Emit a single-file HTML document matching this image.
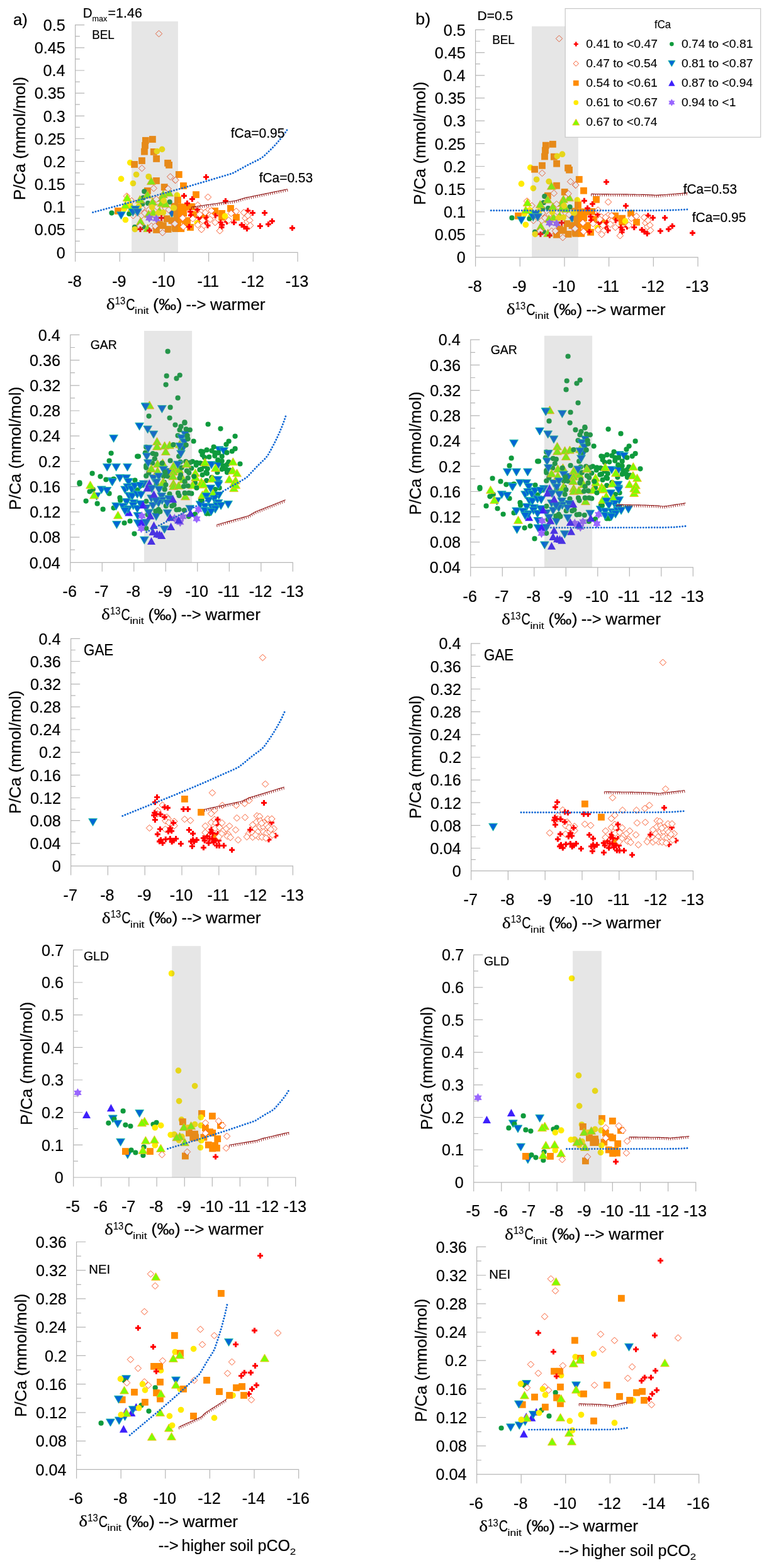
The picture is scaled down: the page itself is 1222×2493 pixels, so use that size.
<!DOCTYPE html>
<html lang="en"><head><meta charset="utf-8"><title>P/Ca versus initial δ13C for five speleothems</title>
<style>html,body{margin:0;padding:0;background:#fff}body{width:1222px;height:2493px;overflow:hidden}svg{display:block;font-family:"Liberation Sans", Arial, sans-serif;fill:#000}text{stroke:#000;stroke-width:.22px}.lg text{stroke-width:.1px}text.sm,tspan.sm{stroke-width:.12px}.p{fill:#f00}.d{fill:#fff;stroke:#f8582a;stroke-width:1px}.s{fill:#ff8c00}.y{fill:#ffeb00}.t{fill:#7fff00;stroke:#ffb81a;stroke-width:.9px}.g{fill:#0e9a3c}.b{fill:#0066d6;stroke:#22c3a0;stroke-width:.9px}.u{fill:#3d20fb}.x{fill:#96f}</style></head><body>
<svg width="1222" height="2493" viewBox="0 0 1222 2493">
<rect width="1222" height="2493" fill="#fff"/>
<g>
<g>
<circle class="y" cx="206.8" cy="258.6" r="4.85"/>
<path class="s" d="M237 216.1l10.8 0 0 10.8 -10.8 0z"/>
<path class="s" d="M226 217.9l10.8 0 0 10.8 -10.8 0z"/>
<path class="s" d="M225.1 225.9l10.8 0 0 10.8 -10.8 0z"/>
<path class="s" d="M224.1 235.7l10.8 0 0 10.8 -10.8 0z"/>
<path class="s" d="M238.9 236l10.8 0 0 10.8 -10.8 0z"/>
<path class="s" d="M243.2 247l10.8 0 0 10.8 -10.8 0z"/>
<path class="s" d="M220.1 250.1l10.8 0 0 10.8 -10.8 0z"/>
<path class="s" d="M208.2 256l10.8 0 0 10.8 -10.8 0z"/>
<path class="s" d="M261.2 253.9l10.8 0 0 10.8 -10.8 0z"/>
<path class="s" d="M263.2 257l10.8 0 0 10.8 -10.8 0z"/>
<circle class="y" cx="257.5" cy="237.4" r="4.85"/>
<circle class="y" cx="249.4" cy="240.5" r="4.85"/>
<path class="d" d="M252.5 48.4l5.2 5.2 -5.2 5.2 -5.2 -5.2z"/>
<path class="d" d="M225.5 262.3l5.2 5.2 -5.2 5.2 -5.2 -5.2z"/>
<path class="b" d="M273 346.1l6.9 -12 -13.8 0z"/>
<path class="s" d="M243.1 282l10.8 0 0 10.8 -10.8 0z"/>
<path class="s" d="M255.8 292.1l10.8 0 0 10.8 -10.8 0z"/>
<path class="s" d="M229 298l10.8 0 0 10.8 -10.8 0z"/>
<path class="s" d="M182.1 330.1l10.8 0 0 10.8 -10.8 0z"/>
<path class="s" d="M277 312.4l10.8 0 0 10.8 -10.8 0z"/>
<path class="s" d="M271.6 322.7l10.8 0 0 10.8 -10.8 0z"/>
<path class="s" d="M277.4 323.7l10.8 0 0 10.8 -10.8 0z"/>
<path class="s" d="M259.8 342.4l10.8 0 0 10.8 -10.8 0z"/>
<path class="s" d="M248 351.2l10.8 0 0 10.8 -10.8 0z"/>
<path class="s" d="M267.6 345.3l10.8 0 0 10.8 -10.8 0z"/>
<path class="s" d="M243.1 360l10.8 0 0 10.8 -10.8 0z"/>
<path class="s" d="M261.7 359.1l10.8 0 0 10.8 -10.8 0z"/>
<path class="s" d="M253.9 353.2l10.8 0 0 10.8 -10.8 0z"/>
<path class="s" d="M272.5 356.1l10.8 0 0 10.8 -10.8 0z"/>
<path class="s" d="M275.5 339.4l10.8 0 0 10.8 -10.8 0z"/>
<path class="s" d="M278.4 333.5l10.8 0 0 10.8 -10.8 0z"/>
<path class="s" d="M277.4 349.2l10.8 0 0 10.8 -10.8 0z"/>
<path class="d" d="M270.6 275.8l5.2 5.2 -5.2 5.2 -5.2 -5.2z"/>
<path class="d" d="M278.4 281.2l5.2 5.2 -5.2 5.2 -5.2 -5.2z"/>
<path class="d" d="M201.5 306.7l5.2 5.2 -5.2 5.2 -5.2 -5.2z"/>
<path class="d" d="M209.2 314.1l5.2 5.2 -5.2 5.2 -5.2 -5.2z"/>
<path class="d" d="M225.9 325.9l5.2 5.2 -5.2 5.2 -5.2 -5.2z"/>
<path class="d" d="M236.7 328.3l5.2 5.2 -5.2 5.2 -5.2 -5.2z"/>
<path class="d" d="M249.5 323.9l5.2 5.2 -5.2 5.2 -5.2 -5.2z"/>
<path class="d" d="M263.2 325.9l5.2 5.2 -5.2 5.2 -5.2 -5.2z"/>
<path class="d" d="M268.1 328.3l5.2 5.2 -5.2 5.2 -5.2 -5.2z"/>
<path class="d" d="M211.6 337.6l5.2 5.2 -5.2 5.2 -5.2 -5.2z"/>
<path class="d" d="M224.9 337.6l5.2 5.2 -5.2 5.2 -5.2 -5.2z"/>
<path class="d" d="M229.8 333.7l5.2 5.2 -5.2 5.2 -5.2 -5.2z"/>
<circle class="g" cx="229.3" cy="304.4" r="4.1"/>
<circle class="g" cx="227.8" cy="314.4" r="4.1"/>
<circle class="g" cx="226.4" cy="324.2" r="4.1"/>
<circle class="g" cx="235.2" cy="323.2" r="4.1"/>
<circle class="g" cx="269.6" cy="321.2" r="4.1"/>
<circle class="g" cx="177.5" cy="338.6" r="4.1"/>
<circle class="g" cx="205.3" cy="339.9" r="4.1"/>
<circle class="g" cx="227.8" cy="360.5" r="4.1"/>
<circle class="g" cx="214.1" cy="361" r="4.1"/>
<circle class="y" cx="192.5" cy="284.4" r="4.85"/>
<circle class="y" cx="211.4" cy="291.5" r="4.85"/>
<circle class="y" cx="216.6" cy="277.5" r="4.85"/>
<circle class="y" cx="236.2" cy="280.8" r="4.85"/>
<circle class="y" cx="281.4" cy="310.4" r="4.85"/>
<circle class="y" cx="220.5" cy="328.1" r="4.85"/>
<circle class="y" cx="197.4" cy="332" r="4.85"/>
<circle class="y" cx="205.8" cy="326.2" r="4.85"/>
<circle class="y" cx="199.4" cy="349.5" r="4.85"/>
<path class="t" d="M240.4 281.4l6.9 12 -13.8 0z"/>
<path class="t" d="M202.1 307.9l6.9 12 -13.8 0z"/>
<path class="t" d="M268.6 300l6.9 12 -13.8 0z"/>
<path class="t" d="M234.4 303l6.9 12 -13.8 0z"/>
<path class="t" d="M259.3 302.5l6.9 12 -13.8 0z"/>
<path class="t" d="M222.4 310.8l6.9 12 -13.8 0z"/>
<path class="t" d="M256.8 308.4l6.9 12 -13.8 0z"/>
<path class="t" d="M242.6 314.3l6.9 12 -13.8 0z"/>
<path class="t" d="M199.4 319.7l6.9 12 -13.8 0z"/>
<path class="t" d="M256.8 316.2l6.9 12 -13.8 0z"/>
<path class="t" d="M263.2 317.7l6.9 12 -13.8 0z"/>
<path class="t" d="M209.7 324.1l6.9 12 -13.8 0z"/>
<path class="t" d="M243.6 331l6.9 12 -13.8 0z"/>
<path class="t" d="M236.2 333.9l6.9 12 -13.8 0z"/>
<path class="t" d="M253.4 329l6.9 12 -13.8 0z"/>
<path class="d" d="M244.3 294.2l5.2 5.2 -5.2 5.2 -5.2 -5.2z"/>
<path class="d" d="M267.1 294.9l5.2 5.2 -5.2 5.2 -5.2 -5.2z"/>
<path class="d" d="M248.5 311.6l5.2 5.2 -5.2 5.2 -5.2 -5.2z"/>
<circle class="y" cx="260.3" cy="319.3" r="4.85"/>
<circle class="y" cx="241.6" cy="329.6" r="4.85"/>
<circle class="y" cx="275.5" cy="330.6" r="4.85"/>
<circle class="y" cx="251.4" cy="338.9" r="4.85"/>
<circle class="y" cx="259.3" cy="337.9" r="4.85"/>
<path class="b" d="M215.1 339.5l6.9 -12 -13.8 0z"/>
<path class="b" d="M192.5 348.8l6.9 -12 -13.8 0z"/>
<path class="b" d="M211.2 343.9l6.9 -12 -13.8 0z"/>
<path class="b" d="M218.5 343.9l6.9 -12 -13.8 0z"/>
<path class="t" d="M223.4 345.7l6.9 12 -13.8 0z"/>
<path class="t" d="M234.7 356.5l6.9 12 -13.8 0z"/>
<circle class="y" cx="214.4" cy="364.5" r="4.85"/>
<path class="d" d="M222.4 354.3l5.2 5.2 -5.2 5.2 -5.2 -5.2z"/>
<path class="d" d="M240.6 354.3l5.2 5.2 -5.2 5.2 -5.2 -5.2z"/>
<path class="d" d="M246.5 354.3l5.2 5.2 -5.2 5.2 -5.2 -5.2z"/>
<path class="d" d="M258.3 364.7l5.2 5.2 -5.2 5.2 -5.2 -5.2z"/>
<path class="d" d="M277 351.4l5.2 5.2 -5.2 5.2 -5.2 -5.2z"/>
<path class="x" d="M237.2 339.6l2.1 3.6 4.1 0 -2 3.6 2 3.6 -4.1 0 -2.1 3.6 -2.1 -3.6 -4.1 0 2 -3.6 -2 -3.6 4.1 0z"/>
<path class="x" d="M248.5 340.6l2.1 3.6 4.1 0 -2 3.6 2 3.6 -4.1 0 -2.1 3.6 -2.1 -3.6 -4.1 0 2 -3.6 -2 -3.6 4.1 0z"/>
<path class="p" d="M255 342.1l3.1 0 0 2.85 2.85 0 0 3.1 -2.85 0 0 2.85 -3.1 0 0 -2.85 -2.85 0 0 -3.1 2.85 0z"/>
<path class="p" d="M221.4 360.1l3.1 0 0 2.85 2.85 0 0 3.1 -2.85 0 0 2.85 -3.1 0 0 -2.85 -2.85 0 0 -3.1 2.85 0z"/>
<path class="p" d="M235.9 362l3.1 0 0 2.85 2.85 0 0 3.1 -2.85 0 0 2.85 -3.1 0 0 -2.85 -2.85 0 0 -3.1 2.85 0z"/>
<circle class="y" cx="281.7" cy="311.4" r="4.85"/>
<path class="s" d="M278.9 272.1l10.8 0 0 10.8 -10.8 0z"/>
<path class="s" d="M286.1 290l10.8 0 0 10.8 -10.8 0z"/>
<path class="s" d="M306.1 304.1l10.8 0 0 10.8 -10.8 0z"/>
<path class="s" d="M277 312.9l10.8 0 0 10.8 -10.8 0z"/>
<path class="s" d="M336.2 330.1l10.8 0 0 10.8 -10.8 0z"/>
<path class="s" d="M347.2 334l10.8 0 0 10.8 -10.8 0z"/>
<path class="s" d="M347.2 339.9l10.8 0 0 10.8 -10.8 0z"/>
<path class="s" d="M361.1 326l10.8 0 0 10.8 -10.8 0z"/>
<path class="s" d="M370.1 340.1l10.8 0 0 10.8 -10.8 0z"/>
<path class="s" d="M299.1 323.2l10.8 0 0 10.8 -10.8 0z"/>
<path class="s" d="M289.2 323.7l10.8 0 0 10.8 -10.8 0z"/>
<path class="s" d="M279.4 323.7l10.8 0 0 10.8 -10.8 0z"/>
<path class="s" d="M275.5 333.5l10.8 0 0 10.8 -10.8 0z"/>
<path class="s" d="M286.3 333.5l10.8 0 0 10.8 -10.8 0z"/>
<path class="s" d="M302 335.5l10.8 0 0 10.8 -10.8 0z"/>
<path class="s" d="M281.4 343.3l10.8 0 0 10.8 -10.8 0z"/>
<path class="s" d="M292.2 345.3l10.8 0 0 10.8 -10.8 0z"/>
<path class="s" d="M297.1 356.1l10.8 0 0 10.8 -10.8 0z"/>
<path class="s" d="M282.4 358.1l10.8 0 0 10.8 -10.8 0z"/>
<path class="s" d="M273.5 358.1l10.8 0 0 10.8 -10.8 0z"/>
<path class="s" d="M289.2 351.2l10.8 0 0 10.8 -10.8 0z"/>
<path class="s" d="M318.7 339.4l10.8 0 0 10.8 -10.8 0z"/>
<circle class="y" cx="357.5" cy="343.6" r="4.85"/>
<circle class="y" cx="313.3" cy="354.6" r="4.85"/>
<circle class="y" cx="276.5" cy="330.6" r="4.85"/>
<path class="p" d="M326 277.1l3.1 0 0 2.85 2.85 0 0 3.1 -2.85 0 0 2.85 -3.1 0 0 -2.85 -2.85 0 0 -3.1 2.85 0z"/>
<path class="p" d="M290.9 307l3.1 0 0 2.85 2.85 0 0 3.1 -2.85 0 0 2.85 -3.1 0 0 -2.85 -2.85 0 0 -3.1 2.85 0z"/>
<path class="p" d="M303.9 312.1l3.1 0 0 2.85 2.85 0 0 3.1 -2.85 0 0 2.85 -3.1 0 0 -2.85 -2.85 0 0 -3.1 2.85 0z"/>
<path class="p" d="M356.9 315.1l3.1 0 0 2.85 2.85 0 0 3.1 -2.85 0 0 2.85 -3.1 0 0 -2.85 -2.85 0 0 -3.1 2.85 0z"/>
<path class="p" d="M296 318.8l3.1 0 0 2.85 2.85 0 0 3.1 -2.85 0 0 2.85 -3.1 0 0 -2.85 -2.85 0 0 -3.1 2.85 0z"/>
<path class="p" d="M300.9 332.1l3.1 0 0 2.85 2.85 0 0 3.1 -2.85 0 0 2.85 -3.1 0 0 -2.85 -2.85 0 0 -3.1 2.85 0z"/>
<path class="p" d="M301.9 338l3.1 0 0 2.85 2.85 0 0 3.1 -2.85 0 0 2.85 -3.1 0 0 -2.85 -2.85 0 0 -3.1 2.85 0z"/>
<path class="p" d="M312.2 329.1l3.1 0 0 2.85 2.85 0 0 3.1 -2.85 0 0 2.85 -3.1 0 0 -2.85 -2.85 0 0 -3.1 2.85 0z"/>
<path class="p" d="M314.7 341.4l3.1 0 0 2.85 2.85 0 0 3.1 -2.85 0 0 2.85 -3.1 0 0 -2.85 -2.85 0 0 -3.1 2.85 0z"/>
<path class="p" d="M316.7 344.3l3.1 0 0 2.85 2.85 0 0 3.1 -2.85 0 0 2.85 -3.1 0 0 -2.85 -2.85 0 0 -3.1 2.85 0z"/>
<path class="p" d="M327 341.9l3.1 0 0 2.85 2.85 0 0 3.1 -2.85 0 0 2.85 -3.1 0 0 -2.85 -2.85 0 0 -3.1 2.85 0z"/>
<path class="p" d="M324.5 348.3l3.1 0 0 2.85 2.85 0 0 3.1 -2.85 0 0 2.85 -3.1 0 0 -2.85 -2.85 0 0 -3.1 2.85 0z"/>
<path class="p" d="M328.4 354.2l3.1 0 0 2.85 2.85 0 0 3.1 -2.85 0 0 2.85 -3.1 0 0 -2.85 -2.85 0 0 -3.1 2.85 0z"/>
<path class="p" d="M299 356.1l3.1 0 0 2.85 2.85 0 0 3.1 -2.85 0 0 2.85 -3.1 0 0 -2.85 -2.85 0 0 -3.1 2.85 0z"/>
<path class="p" d="M340.7 338.4l3.1 0 0 2.85 2.85 0 0 3.1 -2.85 0 0 2.85 -3.1 0 0 -2.85 -2.85 0 0 -3.1 2.85 0z"/>
<path class="p" d="M349.1 349.3l3.1 0 0 2.85 2.85 0 0 3.1 -2.85 0 0 2.85 -3.1 0 0 -2.85 -2.85 0 0 -3.1 2.85 0z"/>
<path class="p" d="M351 353.2l3.1 0 0 2.85 2.85 0 0 3.1 -2.85 0 0 2.85 -3.1 0 0 -2.85 -2.85 0 0 -3.1 2.85 0z"/>
<path class="p" d="M350.5 357.1l3.1 0 0 2.85 2.85 0 0 3.1 -2.85 0 0 2.85 -3.1 0 0 -2.85 -2.85 0 0 -3.1 2.85 0z"/>
<path class="p" d="M358.9 348.3l3.1 0 0 2.85 2.85 0 0 3.1 -2.85 0 0 2.85 -3.1 0 0 -2.85 -2.85 0 0 -3.1 2.85 0z"/>
<path class="p" d="M370.2 349.3l3.1 0 0 2.85 2.85 0 0 3.1 -2.85 0 0 2.85 -3.1 0 0 -2.85 -2.85 0 0 -3.1 2.85 0z"/>
<path class="p" d="M382.5 353.2l3.1 0 0 2.85 2.85 0 0 3.1 -2.85 0 0 2.85 -3.1 0 0 -2.85 -2.85 0 0 -3.1 2.85 0z"/>
<path class="p" d="M386.4 356.1l3.1 0 0 2.85 2.85 0 0 3.1 -2.85 0 0 2.85 -3.1 0 0 -2.85 -2.85 0 0 -3.1 2.85 0z"/>
<path class="p" d="M390.8 359.1l3.1 0 0 2.85 2.85 0 0 3.1 -2.85 0 0 2.85 -3.1 0 0 -2.85 -2.85 0 0 -3.1 2.85 0z"/>
<path class="p" d="M392.3 330.6l3.1 0 0 2.85 2.85 0 0 3.1 -2.85 0 0 2.85 -3.1 0 0 -2.85 -2.85 0 0 -3.1 2.85 0z"/>
<path class="d" d="M278.9 281.2l5.2 5.2 -5.2 5.2 -5.2 -5.2z"/>
<path class="d" d="M330.5 308.2l5.2 5.2 -5.2 5.2 -5.2 -5.2z"/>
<path class="d" d="M314.3 321l5.2 5.2 -5.2 5.2 -5.2 -5.2z"/>
<path class="d" d="M319.7 331.8l5.2 5.2 -5.2 5.2 -5.2 -5.2z"/>
<path class="d" d="M330.5 329.3l5.2 5.2 -5.2 5.2 -5.2 -5.2z"/>
<path class="d" d="M335.9 329.8l5.2 5.2 -5.2 5.2 -5.2 -5.2z"/>
<path class="d" d="M326.1 332.7l5.2 5.2 -5.2 5.2 -5.2 -5.2z"/>
<path class="d" d="M290.2 341.3l5.2 5.2 -5.2 5.2 -5.2 -5.2z"/>
<path class="d" d="M306.4 342.6l5.2 5.2 -5.2 5.2 -5.2 -5.2z"/>
<path class="d" d="M317.2 335.7l5.2 5.2 -5.2 5.2 -5.2 -5.2z"/>
<path class="d" d="M335.9 338.6l5.2 5.2 -5.2 5.2 -5.2 -5.2z"/>
<path class="d" d="M375.4 330.8l5.2 5.2 -5.2 5.2 -5.2 -5.2z"/>
<path class="d" d="M367.3 334.2l5.2 5.2 -5.2 5.2 -5.2 -5.2z"/>
<path class="d" d="M387.4 332.7l5.2 5.2 -5.2 5.2 -5.2 -5.2z"/>
<path class="d" d="M389.9 341.6l5.2 5.2 -5.2 5.2 -5.2 -5.2z"/>
<path class="d" d="M363.4 345l5.2 5.2 -5.2 5.2 -5.2 -5.2z"/>
<path class="d" d="M341.8 348.5l5.2 5.2 -5.2 5.2 -5.2 -5.2z"/>
<path class="d" d="M322.1 345.5l5.2 5.2 -5.2 5.2 -5.2 -5.2z"/>
<path class="d" d="M333.9 343.5l5.2 5.2 -5.2 5.2 -5.2 -5.2z"/>
<path class="d" d="M314.3 352.4l5.2 5.2 -5.2 5.2 -5.2 -5.2z"/>
<path class="d" d="M323.1 354.3l5.2 5.2 -5.2 5.2 -5.2 -5.2z"/>
<path class="d" d="M320.2 359.7l5.2 5.2 -5.2 5.2 -5.2 -5.2z"/>
<path class="d" d="M349.3 361.7l5.2 5.2 -5.2 5.2 -5.2 -5.2z"/>
<path class="d" d="M291.2 355.3l5.2 5.2 -5.2 5.2 -5.2 -5.2z"/>
<path class="d" d="M277.9 350.4l5.2 5.2 -5.2 5.2 -5.2 -5.2z"/>
<path class="d" d="M392.8 347.5l5.2 5.2 -5.2 5.2 -5.2 -5.2z"/>
<path class="d" d="M393.8 337.6l5.2 5.2 -5.2 5.2 -5.2 -5.2z"/>
<path class="p" d="M399.9 334.1l3.1 0 0 2.85 2.85 0 0 3.1 -2.85 0 0 2.85 -3.1 0 0 -2.85 -2.85 0 0 -3.1 2.85 0z"/>
<path class="p" d="M419 334.1l3.1 0 0 2.85 2.85 0 0 3.1 -2.85 0 0 2.85 -3.1 0 0 -2.85 -2.85 0 0 -3.1 2.85 0z"/>
<path class="p" d="M430.8 347.2l3.1 0 0 2.85 2.85 0 0 3.1 -2.85 0 0 2.85 -3.1 0 0 -2.85 -2.85 0 0 -3.1 2.85 0z"/>
<path class="p" d="M424.9 352.2l3.1 0 0 2.85 2.85 0 0 3.1 -2.85 0 0 2.85 -3.1 0 0 -2.85 -2.85 0 0 -3.1 2.85 0z"/>
<path class="p" d="M411.8 355.1l3.1 0 0 2.85 2.85 0 0 3.1 -2.85 0 0 2.85 -3.1 0 0 -2.85 -2.85 0 0 -3.1 2.85 0z"/>
<path class="p" d="M462.9 358.2l3.1 0 0 2.85 2.85 0 0 3.1 -2.85 0 0 2.85 -3.1 0 0 -2.85 -2.85 0 0 -3.1 2.85 0z"/>
<path class="d" d="M396.8 345.1l5.2 5.2 -5.2 5.2 -5.2 -5.2z"/>
<path class="d" d="M397.6 353.3l5.2 5.2 -5.2 5.2 -5.2 -5.2z"/>
</g>
<polyline fill="none" stroke="#8c1414" stroke-width="1.1" points="304,329.3 307,328.8 309.9,328.4 312.9,328 315.9,327.5 318.8,327.1 321.8,326.7 324.8,326.2 327.8,325.8 330.7,325.4 333.7,325 336.7,324.5 339.6,324.1 342.6,323.7 345.6,323.2 348.5,322.8 351.5,322.4 354.5,321.9 357.4,321.5 360.4,321.1 363.4,320.7 366.4,320.2 369.3,319.8 372.3,319.4 375.2,318.9 378.1,318 381,317.1 383.9,316.2 386.7,315.4 389.6,314.5 392.5,313.9 395.5,313.3 398.4,312.7 401.4,312.1 404.3,311.5 407.2,310.9 410.2,310.3 413.1,309.7 416,309.1 419,308.5 421.9,307.9 424.9,307.3 427.8,306.7 430.7,306.1 433.7,305.5 436.6,304.9 439.6,304.3 442.5,303.7 445.4,303.1 448.4,302.5 451.3,301.9 454.3,301.3 456.7,300.8"/>
<path fill="none" stroke="#9c2323" stroke-width="1" d="M304 329.3l0.5 3.7M307.4 328.8l0.5 3.7M310.8 328.3l0.5 3.7M314.2 327.8l0.5 3.7M317.7 327.3l0.5 3.7M321.1 326.8l0.5 3.7M324.5 326.3l0.5 3.7M327.9 325.8l0.5 3.7M331.3 325.3l0.5 3.7M334.7 324.8l0.5 3.7M338.1 324.3l0.5 3.7M341.6 323.8l0.5 3.7M345 323.3l0.5 3.7M348.4 322.8l0.5 3.7M351.8 322.3l0.5 3.7M355.2 321.8l0.5 3.7M358.6 321.3l0.5 3.7M362 320.8l0.5 3.7M365.5 320.3l0.5 3.7M368.9 319.9l0.5 3.7M372.3 319.4l0.5 3.7M375.7 318.7l0.5 3.7M379 317.7l0.5 3.7M382.3 316.7l0.5 3.7M385.6 315.7l0.5 3.7M388.9 314.7l0.5 3.7M392.2 314l0.5 3.7M395.6 313.3l0.5 3.7M399 312.6l0.5 3.7M402.4 311.9l0.5 3.7M405.8 311.2l0.5 3.7M409.1 310.5l0.5 3.7M412.5 309.8l0.5 3.7M415.9 309.1l0.5 3.7M419.3 308.4l0.5 3.7M422.7 307.7l0.5 3.7M426 307l0.5 3.7M429.4 306.4l0.5 3.7M432.8 305.7l0.5 3.7M436.2 305l0.5 3.7M439.6 304.3l0.5 3.7M442.9 303.6l0.5 3.7M446.3 302.9l0.5 3.7M449.7 302.2l0.5 3.7M453.1 301.5l0.5 3.7M456.5 300.8l0.5 3.7"/>
<polyline fill="none" stroke="#0b66d4" stroke-width="2.9" stroke-linecap="round" stroke-dasharray="0.1 4.35" points="147.6,337.7 152.1,336.4 158.3,334.8 165.6,332.8 173.7,330.6 182,328.4 190.2,326.2 197.9,324.1 204.4,322.4 210,320.9 215,319.6 219.7,318.3 224.1,317.2 228.4,316 232.7,314.9 237.1,313.7 241.9,312.4 247,311 252.4,309.5 258,308 263.6,306.4 269.1,304.9 274.3,303.4 279.2,302 283.6,300.8 287.3,299.8 290.6,298.9 293.4,298.1 296,297.3 298.5,296.6 301.1,295.9 303.9,295.1 307,294.2 310.4,293.2 313.9,292.1 317.6,291 321.4,289.9 325.2,288.8 329.1,287.7 332.9,286.5 336.6,285.4 340.4,284.3 344.4,283.1 348.5,281.9 352.6,280.7 356.5,279.5 360.1,278.4 363.3,277.4 366,276.6 368,275.9 369.4,275.4 370.3,275.1 371,274.8 371.6,274.5 372.3,274 373.4,273.5 374.9,272.7 376.9,271.6 379.2,270.3 381.8,268.9 384.5,267.4 387.3,265.9 390.1,264.3 392.9,262.8 395.5,261.5 398,260.2 400.6,258.9 403.2,257.6 405.7,256.4 408.2,255.2 410.5,254 412.7,252.8 414.7,251.6 416.4,250.5 417.9,249.4 419.1,248.3 420.3,247.3 421.4,246.2 422.5,245.1 423.7,244 425,242.7 426.4,241.4 427.9,240 429.3,238.6 430.8,237.1 432.3,235.6 433.8,234.1 435.3,232.5 436.8,230.9 438.3,229.3 439.8,227.6 441.4,225.9 442.9,224.1 444.4,222.4 445.8,220.6 447.3,218.9 448.6,217.2 450,215.4 451.3,213.6 452.7,211.7 453.9,209.8 455.1,208.1 456.2,206.5 457.1,205.2 457.8,204.2"/>
<rect x="209.1" y="34" width="73.8" height="367.4" fill="#808080" fill-opacity="0.2"/>
<path d="M119.6 39V415.9M119 401.4H473.6M119.6 383.3h7.3M119.6 365.2h14.6M119.6 347.1h7.3M119.6 329h14.6M119.6 310.9h7.3M119.6 292.9h14.6M119.6 274.8h7.3M119.6 256.7h14.6M119.6 238.6h7.3M119.6 220.5h14.6M119.6 202.4h7.3M119.6 184.3h14.6M119.6 166.2h7.3M119.6 148.1h14.6M119.6 130.1h7.3M119.6 112h14.6M119.6 93.9h7.3M119.6 75.8h14.6M119.6 57.7h7.3M119.6 39.6h14.6M190.3 401.4v14.5M261 401.4v14.5M331.6 401.4v14.5M402.3 401.4v14.5M473 401.4v14.5" fill="none" stroke="#b6b6b6" stroke-width="1.2"/>
<g>
<text x="89.7" y="410.6" font-size="26.0" textLength="14" lengthAdjust="spacingAndGlyphs">0</text>
<text x="54.8" y="374.4" font-size="26.0" textLength="49.1" lengthAdjust="spacingAndGlyphs">0.05</text>
<text x="68.9" y="338.2" font-size="26.0" textLength="35.1" lengthAdjust="spacingAndGlyphs">0.1</text>
<text x="54.8" y="302.1" font-size="26.0" textLength="49.1" lengthAdjust="spacingAndGlyphs">0.15</text>
<text x="69" y="265.9" font-size="26.0" textLength="35.1" lengthAdjust="spacingAndGlyphs">0.2</text>
<text x="54.8" y="229.7" font-size="26.0" textLength="49.1" lengthAdjust="spacingAndGlyphs">0.25</text>
<text x="68.8" y="193.5" font-size="26.0" textLength="35.1" lengthAdjust="spacingAndGlyphs">0.3</text>
<text x="54.8" y="157.3" font-size="26.0" textLength="49.1" lengthAdjust="spacingAndGlyphs">0.35</text>
<text x="68.5" y="121.2" font-size="26.0" textLength="35.1" lengthAdjust="spacingAndGlyphs">0.4</text>
<text x="54.8" y="85" font-size="26.0" textLength="49.1" lengthAdjust="spacingAndGlyphs">0.45</text>
<text x="68.8" y="48.8" font-size="26.0" textLength="35.1" lengthAdjust="spacingAndGlyphs">0.5</text>
<text x="107.4" y="456" font-size="26.0" textLength="22.4" lengthAdjust="spacingAndGlyphs">-8</text>
<text x="178.2" y="456" font-size="26.0" textLength="22.4" lengthAdjust="spacingAndGlyphs">-9</text>
<text x="241.7" y="456" font-size="26.0" textLength="36.5" lengthAdjust="spacingAndGlyphs">-10</text>
<text x="313.5" y="456" font-size="26.0" textLength="34.6" lengthAdjust="spacingAndGlyphs">-11</text>
<text x="383.3" y="456" font-size="26.0" textLength="36.5" lengthAdjust="spacingAndGlyphs">-12</text>
<text x="453.8" y="456" font-size="26.0" textLength="36.5" lengthAdjust="spacingAndGlyphs">-13</text>
</g>
<text transform="translate(39.6 219.9) rotate(-90)" x="-98.3" font-size="26.0" textLength="196.2" lengthAdjust="spacingAndGlyphs">P/Ca (mmol/mol)</text>
<text><tspan x="168.7" y="492.4" font-size="26.2" textLength="13.9" lengthAdjust="spacingAndGlyphs" font-family='"Liberation Serif", "DejaVu Serif", serif'>δ</tspan><tspan x="182.7" y="483.9" font-size="15.7" textLength="16.4" lengthAdjust="spacingAndGlyphs" class="sm">13</tspan><tspan x="200.2" y="492.7" font-size="26.0" textLength="14.3" lengthAdjust="spacingAndGlyphs">C</tspan><tspan x="214.1" y="499.3" font-size="15.3" textLength="22.3" lengthAdjust="spacingAndGlyphs" class="sm">init</tspan><tspan x="235.3" y="492.7" font-size="26.0" textLength="54.2" lengthAdjust="spacingAndGlyphs"> (‰)</tspan><tspan x="288.3" y="492.7" font-size="26.0" textLength="39" lengthAdjust="spacingAndGlyphs"> --&gt;</tspan><tspan x="326.7" y="492.7" font-size="26.0" textLength="94.9" lengthAdjust="spacingAndGlyphs"> warmer</tspan></text>
<text x="146.3" y="62.2" font-size="21.0" textLength="35.5" lengthAdjust="spacingAndGlyphs">BEL</text>
</g>
<g>
<g>
<circle class="g" cx="266.6" cy="558.7" r="4.1"/>
<circle class="g" cx="264.7" cy="597.7" r="4.1"/>
<circle class="g" cx="285.7" cy="596.5" r="4.1"/>
<circle class="g" cx="280.5" cy="601.7" r="4.1"/>
<circle class="g" cx="263.6" cy="611.6" r="4.1"/>
<circle class="g" cx="282.6" cy="632.7" r="4.1"/>
<circle class="g" cx="270.6" cy="647.7" r="4.1"/>
<circle class="g" cx="236.6" cy="661.6" r="4.1"/>
<circle class="g" cx="269.6" cy="664.5" r="4.1"/>
<circle class="g" cx="293.4" cy="671.4" r="4.1"/>
<path class="t" d="M237.6 638l6.9 12 -13.8 0z"/>
<path class="b" d="M231.5 652.7l6.9 -12 -13.8 0z"/>
<path class="b" d="M257.4 656.6l6.9 -12 -13.8 0z"/>
<path class="t" d="M237.5 637.7l6.9 12 -13.8 0z"/>
<path class="b" d="M231.2 653.1l6.9 -12 -13.8 0z"/>
<path class="b" d="M177.3 771.3l6.9 -12 -13.8 0z"/>
<circle class="g" cx="176.6" cy="720.6" r="4.1"/>
<circle class="g" cx="173.6" cy="732.6" r="4.1"/>
<circle class="g" cx="218.2" cy="725.6" r="4.1"/>
<circle class="g" cx="146.6" cy="752.7" r="4.1"/>
<circle class="g" cx="159.5" cy="757.6" r="4.1"/>
<circle class="g" cx="168.4" cy="762.5" r="4.1"/>
<circle class="g" cx="180.6" cy="761.7" r="4.1"/>
<circle class="g" cx="214.5" cy="763.5" r="4.1"/>
<circle class="g" cx="126.5" cy="767.4" r="4.1"/>
<path class="b" d="M180.6 703.4l6.9 -12 -13.8 0z"/>
<path class="b" d="M170.3 749.2l6.9 -12 -13.8 0z"/>
<path class="b" d="M184.6 749.2l6.9 -12 -13.8 0z"/>
<path class="b" d="M202.5 749.2l6.9 -12 -13.8 0z"/>
<path class="b" d="M190.4 766.4l6.9 -12 -13.8 0z"/>
<path class="b" d="M200.6 766.8l6.9 -12 -13.8 0z"/>
<path class="b" d="M204.3 772.6l6.9 -12 -13.8 0z"/>
<path class="t" d="M285.5 700l6.9 12 -13.8 0z"/>
<path class="t" d="M258.5 729.5l6.9 12 -13.8 0z"/>
<path class="t" d="M277.3 740.1l6.9 12 -13.8 0z"/>
<path class="t" d="M284.6 740.1l6.9 12 -13.8 0z"/>
<path class="t" d="M291.2 755.7l6.9 12 -13.8 0z"/>
<path class="b" d="M294.1 697.3l6.9 -12 -13.8 0z"/>
<path class="b" d="M291.2 718.6l6.9 -12 -13.8 0z"/>
<path class="b" d="M267.5 756.6l6.9 -12 -13.8 0z"/>
<path class="b" d="M243.7 766.8l6.9 -12 -13.8 0z"/>
<circle class="g" cx="278.5" cy="675.6" r="4.1"/>
<circle class="g" cx="293.5" cy="672.5" r="4.1"/>
<circle class="g" cx="287.5" cy="678.2" r="4.1"/>
<circle class="g" cx="285.5" cy="683.5" r="4.1"/>
<circle class="g" cx="295.7" cy="682.3" r="4.1"/>
<circle class="g" cx="301.8" cy="683.5" r="4.1"/>
<circle class="g" cx="282.6" cy="692.5" r="4.1"/>
<circle class="g" cx="307.6" cy="701.5" r="4.1"/>
<circle class="g" cx="286.7" cy="713.4" r="4.1"/>
<circle class="g" cx="319.4" cy="717.5" r="4.1"/>
<circle class="g" cx="231" cy="719.9" r="4.1"/>
<circle class="g" cx="232.3" cy="710.9" r="4.1"/>
<circle class="g" cx="220" cy="725.6" r="4.1"/>
<circle class="g" cx="284.2" cy="725.6" r="4.1"/>
<circle class="g" cx="286.7" cy="734.6" r="4.1"/>
<circle class="g" cx="242.1" cy="736.3" r="4.1"/>
<circle class="g" cx="232.3" cy="740.4" r="4.1"/>
<circle class="g" cx="232.3" cy="743.6" r="4.1"/>
<circle class="g" cx="236.4" cy="751.4" r="4.1"/>
<circle class="g" cx="232.3" cy="756.7" r="4.1"/>
<circle class="g" cx="260.1" cy="757.2" r="4.1"/>
<circle class="g" cx="266.6" cy="757.2" r="4.1"/>
<circle class="g" cx="288.7" cy="743.6" r="4.1"/>
<circle class="g" cx="287.1" cy="755.1" r="4.1"/>
<circle class="g" cx="285.5" cy="760" r="4.1"/>
<circle class="g" cx="305.9" cy="733.8" r="4.1"/>
<circle class="g" cx="312.5" cy="735.5" r="4.1"/>
<circle class="g" cx="318.2" cy="736.3" r="4.1"/>
<circle class="g" cx="295.3" cy="733.8" r="4.1"/>
<circle class="g" cx="301.8" cy="735.5" r="4.1"/>
<circle class="g" cx="311.7" cy="739.6" r="4.1"/>
<circle class="g" cx="304.3" cy="744.5" r="4.1"/>
<circle class="g" cx="296.9" cy="748.6" r="4.1"/>
<circle class="g" cx="300.2" cy="751.8" r="4.1"/>
<circle class="g" cx="298.6" cy="760" r="4.1"/>
<circle class="g" cx="317.4" cy="746.9" r="4.1"/>
<circle class="g" cx="260.9" cy="766.6" r="4.1"/>
<circle class="g" cx="248.6" cy="769" r="4.1"/>
<circle class="g" cx="293.6" cy="765.7" r="4.1"/>
<circle class="g" cx="310" cy="767.4" r="4.1"/>
<path class="t" d="M249.5 695.5l6.9 12 -13.8 0z"/>
<path class="t" d="M249.5 703.3l6.9 12 -13.8 0z"/>
<path class="t" d="M261.6 702.1l6.9 12 -13.8 0z"/>
<path class="t" d="M269.5 701.2l6.9 12 -13.8 0z"/>
<path class="t" d="M263.4 711.5l6.9 12 -13.8 0z"/>
<path class="t" d="M250.4 731.1l6.9 12 -13.8 0z"/>
<path class="t" d="M296.5 731.1l6.9 12 -13.8 0z"/>
<path class="t" d="M240.5 738.5l6.9 12 -13.8 0z"/>
<path class="t" d="M250.4 742.6l6.9 12 -13.8 0z"/>
<path class="t" d="M275.6 734.4l6.9 12 -13.8 0z"/>
<path class="t" d="M275.6 743.4l6.9 12 -13.8 0z"/>
<path class="t" d="M274.8 750.7l6.9 12 -13.8 0z"/>
<path class="t" d="M310.4 745.4l6.9 12 -13.8 0z"/>
<path class="t" d="M310.8 752.4l6.9 12 -13.8 0z"/>
<path class="t" d="M275.6 762.2l6.9 12 -13.8 0z"/>
<path class="t" d="M259.3 759.7l6.9 12 -13.8 0z"/>
<path class="b" d="M221.6 684.2l6.9 -12 -13.8 0z"/>
<path class="b" d="M234.7 689.1l6.9 -12 -13.8 0z"/>
<path class="b" d="M244 697.1l6.9 -12 -13.8 0z"/>
<path class="b" d="M235.4 719.8l6.9 -12 -13.8 0z"/>
<path class="b" d="M233.3 732.1l6.9 -12 -13.8 0z"/>
<path class="b" d="M235.4 742.7l6.9 -12 -13.8 0z"/>
<path class="b" d="M288.3 703l6.9 -12 -13.8 0z"/>
<path class="b" d="M292.8 709.6l6.9 -12 -13.8 0z"/>
<path class="b" d="M285.9 716.1l6.9 -12 -13.8 0z"/>
<path class="b" d="M287.5 728l6.9 -12 -13.8 0z"/>
<path class="b" d="M282.6 745.1l6.9 -12 -13.8 0z"/>
<path class="b" d="M259.7 753.3l6.9 -12 -13.8 0z"/>
<path class="b" d="M252.3 764l6.9 -12 -13.8 0z"/>
<path class="b" d="M248.6 773.4l6.9 -12 -13.8 0z"/>
<path class="b" d="M228.2 776l6.9 -12 -13.8 0z"/>
<circle class="g" cx="297.7" cy="692.5" r="4.1"/>
<circle class="g" cx="298.6" cy="697.8" r="4.1"/>
<circle class="g" cx="275.5" cy="707.2" r="4.1"/>
<circle class="g" cx="295.7" cy="707.6" r="4.1"/>
<circle class="g" cx="242.9" cy="721.1" r="4.1"/>
<circle class="g" cx="247.8" cy="722.4" r="4.1"/>
<circle class="g" cx="245.8" cy="729.3" r="4.1"/>
<circle class="g" cx="270.6" cy="732.4" r="4.1"/>
<circle class="g" cx="257.6" cy="736.4" r="4.1"/>
<circle class="g" cx="262.4" cy="750.6" r="4.1"/>
<circle class="g" cx="308.4" cy="757.6" r="4.1"/>
<path class="u" d="M237.2 762.1l6.5 12 -13 0z"/>
<path class="b" d="M348.2 721.8l6.9 -12 -13.8 0z"/>
<path class="b" d="M355.6 723.5l6.9 -12 -13.8 0z"/>
<path class="b" d="M336 745.6l6.9 -12 -13.8 0z"/>
<path class="b" d="M346.2 746.8l6.9 -12 -13.8 0z"/>
<path class="b" d="M346.2 769.3l6.9 -12 -13.8 0z"/>
<path class="b" d="M346.6 775.4l6.9 -12 -13.8 0z"/>
<circle class="g" cx="330.6" cy="674.5" r="4.1"/>
<circle class="g" cx="350.5" cy="681.6" r="4.1"/>
<circle class="g" cx="373.6" cy="693.6" r="4.1"/>
<circle class="g" cx="363.6" cy="701.5" r="4.1"/>
<circle class="g" cx="359.5" cy="706.6" r="4.1"/>
<circle class="g" cx="373.6" cy="713.4" r="4.1"/>
<circle class="g" cx="368.7" cy="717.5" r="4.1"/>
<circle class="g" cx="360.5" cy="719.7" r="4.1"/>
<circle class="g" cx="339.6" cy="710.5" r="4.1"/>
<circle class="g" cx="328.6" cy="715.4" r="4.1"/>
<circle class="g" cx="322.5" cy="718.3" r="4.1"/>
<circle class="g" cx="336.4" cy="716.6" r="4.1"/>
<circle class="g" cx="341.3" cy="719.9" r="4.1"/>
<circle class="g" cx="347" cy="719.9" r="4.1"/>
<circle class="g" cx="352.7" cy="725.6" r="4.1"/>
<circle class="g" cx="341.3" cy="724.8" r="4.1"/>
<circle class="g" cx="332.3" cy="726.5" r="4.1"/>
<circle class="g" cx="324.9" cy="727.3" r="4.1"/>
<circle class="g" cx="321.6" cy="723.2" r="4.1"/>
<circle class="g" cx="346.2" cy="731.4" r="4.1"/>
<circle class="g" cx="352.7" cy="733" r="4.1"/>
<circle class="g" cx="363.4" cy="734.6" r="4.1"/>
<circle class="g" cx="360.9" cy="738.7" r="4.1"/>
<circle class="g" cx="381.5" cy="737.5" r="4.1"/>
<circle class="g" cx="354.4" cy="740.4" r="4.1"/>
<circle class="g" cx="352.7" cy="746.1" r="4.1"/>
<circle class="g" cx="359.3" cy="746.1" r="4.1"/>
<circle class="g" cx="365" cy="747.7" r="4.1"/>
<circle class="g" cx="360.9" cy="751" r="4.1"/>
<circle class="g" cx="345.4" cy="751" r="4.1"/>
<circle class="g" cx="324.9" cy="741.2" r="4.1"/>
<circle class="g" cx="329.8" cy="745.3" r="4.1"/>
<circle class="g" cx="327.4" cy="751" r="4.1"/>
<circle class="g" cx="321.6" cy="755.1" r="4.1"/>
<circle class="g" cx="329" cy="752.7" r="4.1"/>
<circle class="g" cx="336.4" cy="759.2" r="4.1"/>
<circle class="g" cx="328.2" cy="764.1" r="4.1"/>
<circle class="g" cx="320" cy="737.1" r="4.1"/>
<circle class="g" cx="320" cy="746.1" r="4.1"/>
<path class="t" d="M325.7 728.6l6.9 12 -13.8 0z"/>
<path class="t" d="M370.3 727.8l6.9 12 -13.8 0z"/>
<path class="t" d="M342.5 737.6l6.9 12 -13.8 0z"/>
<path class="t" d="M369.9 741.7l6.9 12 -13.8 0z"/>
<path class="t" d="M376.5 745.8l6.9 12 -13.8 0z"/>
<path class="t" d="M337.2 754.8l6.9 12 -13.8 0z"/>
<path class="t" d="M364.2 755.7l6.9 12 -13.8 0z"/>
<path class="t" d="M374.4 757.3l6.9 12 -13.8 0z"/>
<path class="t" d="M320 759.7l6.9 12 -13.8 0z"/>
<path class="t" d="M371.6 762.2l6.9 12 -13.8 0z"/>
<path class="b" d="M153.6 795.2l6.9 -12 -13.8 0z"/>
<circle class="g" cx="126.5" cy="769.2" r="4.1"/>
<circle class="g" cx="147.8" cy="778.2" r="4.1"/>
<circle class="g" cx="142.5" cy="781.5" r="4.1"/>
<circle class="g" cx="173.6" cy="784.7" r="4.1"/>
<circle class="g" cx="136.6" cy="796.6" r="4.1"/>
<circle class="g" cx="154.6" cy="800.7" r="4.1"/>
<circle class="g" cx="163.6" cy="809.7" r="4.1"/>
<circle class="g" cx="180.6" cy="807.6" r="4.1"/>
<circle class="g" cx="190.5" cy="791.4" r="4.1"/>
<circle class="g" cx="191.2" cy="795.4" r="4.1"/>
<circle class="g" cx="197.6" cy="831.5" r="4.1"/>
<circle class="g" cx="206.6" cy="828.5" r="4.1"/>
<circle class="g" cx="213.5" cy="848.6" r="4.1"/>
<circle class="g" cx="218.2" cy="779" r="4.1"/>
<path class="t" d="M143.5 764.8l6.9 12 -13.8 0z"/>
<path class="t" d="M149.5 780.8l6.9 12 -13.8 0z"/>
<path class="t" d="M187.5 812.7l6.9 12 -13.8 0z"/>
<path class="u" d="M204.7 808.5l6.5 12 -13 0z"/>
<path class="u" d="M212.5 776.2l6.5 12 -13 0z"/>
<path class="b" d="M161.3 785l6.9 -12 -13.8 0z"/>
<path class="b" d="M169.9 786.6l6.9 -12 -13.8 0z"/>
<path class="b" d="M178.5 772.7l6.9 -12 -13.8 0z"/>
<path class="b" d="M198.6 785l6.9 -12 -13.8 0z"/>
<path class="b" d="M202.7 780.9l6.9 -12 -13.8 0z"/>
<path class="b" d="M209.2 784.2l6.9 -12 -13.8 0z"/>
<path class="b" d="M214.1 779.3l6.9 -12 -13.8 0z"/>
<path class="b" d="M205.1 794.8l6.9 -12 -13.8 0z"/>
<path class="b" d="M210 795.6l6.9 -12 -13.8 0z"/>
<path class="b" d="M218.2 792.4l6.9 -12 -13.8 0z"/>
<path class="b" d="M201 804.6l6.9 -12 -13.8 0z"/>
<path class="b" d="M212.5 806.3l6.9 -12 -13.8 0z"/>
<path class="b" d="M184.6 811.2l6.9 -12 -13.8 0z"/>
<path class="b" d="M195.3 812l6.9 -12 -13.8 0z"/>
<path class="b" d="M203.5 816.1l6.9 -12 -13.8 0z"/>
<path class="b" d="M211.7 810.4l6.9 -12 -13.8 0z"/>
<path class="b" d="M218.2 815.3l6.9 -12 -13.8 0z"/>
<path class="b" d="M198.6 818.6l6.9 -12 -13.8 0z"/>
<path class="b" d="M185.5 840.6l6.9 -12 -13.8 0z"/>
<path class="b" d="M219 826.7l6.9 -12 -13.8 0z"/>
<path class="b" d="M219 838.2l6.9 -12 -13.8 0z"/>
<path class="t" d="M275.6 766.5l6.9 12 -13.8 0z"/>
<path class="t" d="M283.8 765.6l6.9 12 -13.8 0z"/>
<path class="t" d="M294.5 782.8l6.9 12 -13.8 0z"/>
<path class="t" d="M305.9 764.8l6.9 12 -13.8 0z"/>
<path class="t" d="M256.8 764l6.9 12 -13.8 0z"/>
<path class="t" d="M318.2 764l6.9 12 -13.8 0z"/>
<circle class="g" cx="223.3" cy="772.5" r="4.1"/>
<circle class="g" cx="261.7" cy="778.2" r="4.1"/>
<circle class="g" cx="269.5" cy="785.4" r="4.1"/>
<circle class="g" cx="283" cy="783.9" r="4.1"/>
<circle class="g" cx="284.6" cy="788" r="4.1"/>
<circle class="g" cx="293.6" cy="783.9" r="4.1"/>
<circle class="g" cx="300.2" cy="783.9" r="4.1"/>
<circle class="g" cx="304.3" cy="784.7" r="4.1"/>
<circle class="g" cx="292" cy="773.3" r="4.1"/>
<circle class="g" cx="298.6" cy="772.5" r="4.1"/>
<circle class="g" cx="312.5" cy="775.7" r="4.1"/>
<circle class="g" cx="263.4" cy="770.8" r="4.1"/>
<circle class="g" cx="232.3" cy="797" r="4.1"/>
<circle class="g" cx="263.8" cy="804.4" r="4.1"/>
<circle class="g" cx="273.2" cy="804.4" r="4.1"/>
<circle class="g" cx="276.5" cy="802.7" r="4.1"/>
<circle class="g" cx="280.6" cy="810.5" r="4.1"/>
<circle class="g" cx="284.6" cy="810.1" r="4.1"/>
<circle class="g" cx="292.8" cy="811.3" r="4.1"/>
<circle class="g" cx="234.7" cy="818.3" r="4.1"/>
<circle class="g" cx="232.3" cy="840" r="4.1"/>
<circle class="g" cx="299.8" cy="821.1" r="4.1"/>
<circle class="g" cx="319" cy="795.4" r="4.1"/>
<circle class="g" cx="310" cy="817.5" r="4.1"/>
<path class="b" d="M222.5 778.5l6.9 -12 -13.8 0z"/>
<path class="b" d="M241.3 783.4l6.9 -12 -13.8 0z"/>
<path class="b" d="M252.7 785l6.9 -12 -13.8 0z"/>
<path class="b" d="M224.1 793.2l6.9 -12 -13.8 0z"/>
<path class="b" d="M256.8 795.6l6.9 -12 -13.8 0z"/>
<path class="b" d="M240.5 798.9l6.9 -12 -13.8 0z"/>
<path class="b" d="M257.6 802.2l6.9 -12 -13.8 0z"/>
<path class="b" d="M268.3 799.7l6.9 -12 -13.8 0z"/>
<path class="b" d="M223.3 807.9l6.9 -12 -13.8 0z"/>
<path class="b" d="M242.9 810.4l6.9 -12 -13.8 0z"/>
<path class="b" d="M232.3 814.5l6.9 -12 -13.8 0z"/>
<path class="b" d="M251.9 806.3l6.9 -12 -13.8 0z"/>
<path class="b" d="M247.8 803l6.9 -12 -13.8 0z"/>
<path class="b" d="M265.8 806.3l6.9 -12 -13.8 0z"/>
<path class="b" d="M236.4 821.8l6.9 -12 -13.8 0z"/>
<path class="b" d="M248.2 827.6l6.9 -12 -13.8 0z"/>
<path class="b" d="M266.2 822.2l6.9 -12 -13.8 0z"/>
<path class="b" d="M232.3 837.4l6.9 -12 -13.8 0z"/>
<path class="b" d="M261.3 848l6.9 -12 -13.8 0z"/>
<path class="b" d="M229.4 865.2l6.9 -12 -13.8 0z"/>
<path class="b" d="M301.8 815.3l6.9 -12 -13.8 0z"/>
<path class="b" d="M318.2 808.7l6.9 -12 -13.8 0z"/>
<circle class="g" cx="247.4" cy="812.6" r="4.1"/>
<circle class="g" cx="254.4" cy="813.4" r="4.1"/>
<circle class="g" cx="251.9" cy="810.1" r="4.1"/>
<path class="x" d="M277.3 816.8l2.1 3.6 4.1 0 -2 3.6 2 3.6 -4.1 0 -2.1 3.6 -2.1 -3.6 -4.1 0 2 -3.6 -2 -3.6 4.1 0z"/>
<path class="x" d="M290.4 814.4l2.1 3.6 4.1 0 -2 3.6 2 3.6 -4.1 0 -2.1 3.6 -2.1 -3.6 -4.1 0 2 -3.6 -2 -3.6 4.1 0z"/>
<path class="x" d="M286.3 823.4l2.1 3.6 4.1 0 -2 3.6 2 3.6 -4.1 0 -2.1 3.6 -2.1 -3.6 -4.1 0 2 -3.6 -2 -3.6 4.1 0z"/>
<path class="u" d="M233.9 769.6l6.5 12 -13 0z"/>
<path class="u" d="M244.5 779.4l6.5 12 -13 0z"/>
<path class="u" d="M274.8 787.2l6.5 12 -13 0z"/>
<path class="u" d="M238.8 813.8l6.5 12 -13 0z"/>
<path class="u" d="M270.3 816.3l6.5 12 -13 0z"/>
<path class="u" d="M224.9 824.5l6.5 12 -13 0z"/>
<path class="u" d="M244.5 829l6.5 12 -13 0z"/>
<path class="u" d="M271.6 831l6.5 12 -13 0z"/>
<path class="u" d="M242.9 839.2l6.5 12 -13 0z"/>
<path class="u" d="M249.5 842.5l6.5 12 -13 0z"/>
<path class="u" d="M253.6 843.3l6.5 12 -13 0z"/>
<path class="u" d="M256.8 844.9l6.5 12 -13 0z"/>
<path class="u" d="M240.5 853.9l6.5 12 -13 0z"/>
<path class="u" d="M283.8 820.4l6.5 12 -13 0z"/>
<path class="u" d="M302.7 809.7l6.5 12 -13 0z"/>
<path class="u" d="M227.4 796.6l6.5 12 -13 0z"/>
<path class="x" d="M225.3 813.1l2.1 3.6 4.1 0 -2 3.6 2 3.6 -4.1 0 -2.1 3.6 -2.1 -3.6 -4.1 0 2 -3.6 -2 -3.6 4.1 0z"/>
<path class="x" d="M224.5 833.2l2.1 3.6 4.1 0 -2 3.6 2 3.6 -4.1 0 -2.1 3.6 -2.1 -3.6 -4.1 0 2 -3.6 -2 -3.6 4.1 0z"/>
<path class="x" d="M315.3 802.9l2.1 3.6 4.1 0 -2 3.6 2 3.6 -4.1 0 -2.1 3.6 -2.1 -3.6 -4.1 0 2 -3.6 -2 -3.6 4.1 0z"/>
<path class="x" d="M312.5 817.6l2.1 3.6 4.1 0 -2 3.6 2 3.6 -4.1 0 -2.1 3.6 -2.1 -3.6 -4.1 0 2 -3.6 -2 -3.6 4.1 0z"/>
<circle class="g" cx="341.7" cy="778.2" r="4.1"/>
<circle class="g" cx="348.6" cy="775.7" r="4.1"/>
<circle class="g" cx="320.8" cy="795.4" r="4.1"/>
<circle class="g" cx="330.6" cy="810.9" r="4.1"/>
<circle class="g" cx="328.2" cy="816.6" r="4.1"/>
<circle class="g" cx="332.3" cy="816.6" r="4.1"/>
<path class="t" d="M327.4 774.6l6.9 12 -13.8 0z"/>
<path class="t" d="M338.4 777.9l6.9 12 -13.8 0z"/>
<path class="t" d="M371.6 769.7l6.9 12 -13.8 0z"/>
<path class="t" d="M374.8 764.8l6.9 12 -13.8 0z"/>
<path class="t" d="M321.6 780.4l6.9 12 -13.8 0z"/>
<path class="t" d="M323.3 763.2l6.9 12 -13.8 0z"/>
<path class="b" d="M334.7 783l6.9 -12 -13.8 0z"/>
<path class="b" d="M347 777.6l6.9 -12 -13.8 0z"/>
<path class="b" d="M327.8 795.6l6.9 -12 -13.8 0z"/>
<path class="b" d="M347.8 794l6.9 -12 -13.8 0z"/>
<path class="b" d="M340.5 799.7l6.9 -12 -13.8 0z"/>
<path class="b" d="M331.5 802.2l6.9 -12 -13.8 0z"/>
<path class="b" d="M347 806.3l6.9 -12 -13.8 0z"/>
<path class="b" d="M362.6 808.3l6.9 -12 -13.8 0z"/>
<path class="b" d="M325.7 812l6.9 -12 -13.8 0z"/>
<path class="b" d="M336.4 812.8l6.9 -12 -13.8 0z"/>
<path class="b" d="M345.4 810.4l6.9 -12 -13.8 0z"/>
<path class="b" d="M351.1 810.4l6.9 -12 -13.8 0z"/>
<path class="b" d="M342.1 816.1l6.9 -12 -13.8 0z"/>
<path class="b" d="M325.7 818.6l6.9 -12 -13.8 0z"/>
<path class="b" d="M335.5 820.2l6.9 -12 -13.8 0z"/>
</g>
<polyline fill="none" stroke="#8c1414" stroke-width="1.1" points="344.6,834.3 347.4,833.5 350.3,832.7 353.2,831.8 356.1,831 359,830.2 361.9,829.4 364.8,828.6 367.7,827.8 370.5,827 373.4,826.1 376.3,825.3 379.2,824.5 382.1,823.7 385,822.9 387.9,822.1 390.8,821.3 393.6,820.5 396.4,819.3 399,817.8 401.5,816.2 404.1,814.7 406.8,813.3 409.6,812.2 412.4,811.1 415.2,810 417.9,808.9 420.7,807.8 423.5,806.7 426.3,805.6 429.1,804.5 431.9,803.4 434.7,802.3 437.5,801.2 440.2,800.1 443,798.9 445.8,797.8 448.6,796.7 451.4,795.6 453.7,794.7"/>
<path fill="none" stroke="#9c2323" stroke-width="1" d="M344.6 834.3l0.5 3.7M347.9 833.3l0.5 3.7M351.2 832.4l0.5 3.7M354.5 831.5l0.5 3.7M357.8 830.5l0.5 3.7M361.2 829.6l0.5 3.7M364.5 828.7l0.5 3.7M367.8 827.7l0.5 3.7M371.1 826.8l0.5 3.7M374.4 825.9l0.5 3.7M377.8 824.9l0.5 3.7M381.1 824l0.5 3.7M384.4 823.1l0.5 3.7M387.7 822.1l0.5 3.7M391 821.2l0.5 3.7M394.4 820.2l0.5 3.7M397.4 818.7l0.5 3.7M400.4 816.9l0.5 3.7M403.4 815.2l0.5 3.7M406.4 813.5l0.5 3.7M409.6 812.2l0.5 3.7M412.8 811l0.5 3.7M416 809.7l0.5 3.7M419.2 808.4l0.5 3.7M422.4 807.1l0.5 3.7M425.6 805.9l0.5 3.7M428.8 804.6l0.5 3.7M432 803.3l0.5 3.7M435.2 802l0.5 3.7M438.4 800.8l0.5 3.7M441.6 799.5l0.5 3.7M444.9 798.2l0.5 3.7M448.1 797l0.5 3.7M451.3 795.7l0.5 3.7"/>
<polyline fill="none" stroke="#0b66d4" stroke-width="2.9" stroke-linecap="round" stroke-dasharray="0.1 4.35" points="232.8,845.9 236,844.3 240.4,842 245.7,839.2 251.4,836.2 257.4,833.1 263.3,830 268.7,827.2 273.4,824.7 277.4,822.7 281,820.8 284.3,819.1 287.5,817.5 290.5,815.9 293.6,814.3 296.8,812.7 300.2,810.9 303.8,808.9 307.7,806.8 311.7,804.7 315.7,802.5 319.6,800.4 323.4,798.4 326.8,796.5 330,794.8 332.6,793.3 335,792.1 337,790.9 338.9,789.9 340.7,788.9 342.5,787.9 344.5,786.8 346.7,785.5 349.1,784.1 351.7,782.7 354.3,781.2 357,779.6 359.7,778.1 362.5,776.5 365.2,774.9 367.8,773.4 370.6,771.8 373.4,770.1 376.4,768.5 379.3,766.8 382,765.2 384.6,763.7 386.9,762.3 388.8,761.1 390.3,760.2 391.3,759.5 391.9,759 392.4,758.6 392.9,758.2 393.4,757.6 394.1,756.8 395.2,755.7 396.7,754.2 398.3,752.4 400.1,750.5 402.1,748.4 404.1,746.2 406.1,744.1 408.1,742 409.9,740.1 411.7,738.3 413.6,736.5 415.4,734.8 417.2,733.1 419,731.4 420.7,729.7 422.2,728.1 423.6,726.4 424.9,724.8 425.9,723.3 426.8,721.9 427.7,720.4 428.4,718.9 429.2,717.4 430.1,715.8 431,714.1 432,712.2 433,710.3 434.1,708.3 435.2,706.3 436.2,704.2 437.3,702 438.4,699.9 439.4,697.7 440.5,695.4 441.6,693.1 442.7,690.7 443.8,688.2 444.9,685.8 445.9,683.3 446.9,680.9 447.9,678.6 448.8,676.1 449.8,673.6 450.8,670.9 451.7,668.4 452.5,666 453.3,663.8 453.9,662 454.4,660.6"/>
<rect x="229" y="526" width="76.1" height="368.3" fill="#808080" fill-opacity="0.2"/>
<path d="M111.8 531.8V908.8M111.2 894.3H465.9M111.8 874.2h7.3M111.8 854.1h14.6M111.8 834h7.3M111.8 813.9h14.6M111.8 793.8h7.3M111.8 773.7h14.6M111.8 753.6h7.3M111.8 733.5h14.6M111.8 713.3h7.3M111.8 693.2h14.6M111.8 673.1h7.3M111.8 653h14.6M111.8 632.9h7.3M111.8 612.8h14.6M111.8 592.7h7.3M111.8 572.6h14.6M111.8 552.5h7.3M111.8 532.4h14.6M162.3 894.3v14.5M212.8 894.3v14.5M263.3 894.3v14.5M313.8 894.3v14.5M364.3 894.3v14.5M414.8 894.3v14.5M465.3 894.3v14.5" fill="none" stroke="#b6b6b6" stroke-width="1.2"/>
<g>
<text x="46.7" y="903.5" font-size="26.0" textLength="49.1" lengthAdjust="spacingAndGlyphs">0.04</text>
<text x="47" y="863.3" font-size="26.0" textLength="49.1" lengthAdjust="spacingAndGlyphs">0.08</text>
<text x="47.2" y="823.1" font-size="26.0" textLength="49.1" lengthAdjust="spacingAndGlyphs">0.12</text>
<text x="47" y="782.9" font-size="26.0" textLength="49.1" lengthAdjust="spacingAndGlyphs">0.16</text>
<text x="61.2" y="742.7" font-size="26.0" textLength="35.1" lengthAdjust="spacingAndGlyphs">0.2</text>
<text x="46.7" y="702.4" font-size="26.0" textLength="49.1" lengthAdjust="spacingAndGlyphs">0.24</text>
<text x="47" y="662.2" font-size="26.0" textLength="49.1" lengthAdjust="spacingAndGlyphs">0.28</text>
<text x="47.2" y="622" font-size="26.0" textLength="49.1" lengthAdjust="spacingAndGlyphs">0.32</text>
<text x="47" y="581.8" font-size="26.0" textLength="49.1" lengthAdjust="spacingAndGlyphs">0.36</text>
<text x="60.7" y="541.6" font-size="26.0" textLength="35.1" lengthAdjust="spacingAndGlyphs">0.4</text>
<text x="99.6" y="948.9" font-size="26.0" textLength="22.4" lengthAdjust="spacingAndGlyphs">-6</text>
<text x="150.2" y="948.9" font-size="26.0" textLength="22.4" lengthAdjust="spacingAndGlyphs">-7</text>
<text x="200.6" y="948.9" font-size="26.0" textLength="22.4" lengthAdjust="spacingAndGlyphs">-8</text>
<text x="251.2" y="948.9" font-size="26.0" textLength="22.4" lengthAdjust="spacingAndGlyphs">-9</text>
<text x="294.6" y="948.9" font-size="26.0" textLength="36.5" lengthAdjust="spacingAndGlyphs">-10</text>
<text x="346.1" y="948.9" font-size="26.0" textLength="34.6" lengthAdjust="spacingAndGlyphs">-11</text>
<text x="395.7" y="948.9" font-size="26.0" textLength="36.5" lengthAdjust="spacingAndGlyphs">-12</text>
<text x="446.1" y="948.9" font-size="26.0" textLength="36.5" lengthAdjust="spacingAndGlyphs">-13</text>
</g>
<text transform="translate(33 712.7) rotate(-90)" x="-98.3" font-size="26.0" textLength="196.2" lengthAdjust="spacingAndGlyphs">P/Ca (mmol/mol)</text>
<text><tspan x="161" y="985.3" font-size="26.2" textLength="13.9" lengthAdjust="spacingAndGlyphs" font-family='"Liberation Serif", "DejaVu Serif", serif'>δ</tspan><tspan x="175" y="976.8" font-size="15.7" textLength="16.4" lengthAdjust="spacingAndGlyphs" class="sm">13</tspan><tspan x="192.5" y="985.6" font-size="26.0" textLength="14.3" lengthAdjust="spacingAndGlyphs">C</tspan><tspan x="206.4" y="992.2" font-size="15.3" textLength="22.3" lengthAdjust="spacingAndGlyphs" class="sm">init</tspan><tspan x="227.6" y="985.6" font-size="26.0" textLength="54.2" lengthAdjust="spacingAndGlyphs"> (‰)</tspan><tspan x="280.6" y="985.6" font-size="26.0" textLength="39" lengthAdjust="spacingAndGlyphs"> --&gt;</tspan><tspan x="319" y="985.6" font-size="26.0" textLength="94.9" lengthAdjust="spacingAndGlyphs"> warmer</tspan></text>
<text x="143.7" y="554.9" font-size="21.0" textLength="42.2" lengthAdjust="spacingAndGlyphs">GAR</text>
</g>
<g>
<g>
<path class="d" d="M417.4 1040.3l5.2 5.2 -5.2 5.2 -5.2 -5.2z"/>
<path class="b" d="M147.6 1313.4l6.9 -12 -13.8 0z"/>
<path class="s" d="M288 1265l10.8 0 0 10.8 -10.8 0z"/>
<path class="s" d="M314.1 1286l10.8 0 0 10.8 -10.8 0z"/>
<path class="s" d="M337 1324.6l10.8 0 0 10.8 -10.8 0z"/>
<path class="d" d="M258.2 1274.8l5.2 5.2 -5.2 5.2 -5.2 -5.2z"/>
<path class="d" d="M250.5 1283.6l5.2 5.2 -5.2 5.2 -5.2 -5.2z"/>
<path class="d" d="M250.3 1289l5.2 5.2 -5.2 5.2 -5.2 -5.2z"/>
<path class="d" d="M265.3 1293.9l5.2 5.2 -5.2 5.2 -5.2 -5.2z"/>
<path class="d" d="M267.2 1296.8l5.2 5.2 -5.2 5.2 -5.2 -5.2z"/>
<path class="d" d="M262.8 1299.8l5.2 5.2 -5.2 5.2 -5.2 -5.2z"/>
<path class="d" d="M268.2 1302.7l5.2 5.2 -5.2 5.2 -5.2 -5.2z"/>
<path class="d" d="M276.9 1300.8l5.2 5.2 -5.2 5.2 -5.2 -5.2z"/>
<path class="d" d="M277 1307.6l5.2 5.2 -5.2 5.2 -5.2 -5.2z"/>
<path class="d" d="M262.6 1313.1l5.2 5.2 -5.2 5.2 -5.2 -5.2z"/>
<path class="p" d="M248 1263.1l3.1 0 0 2.85 2.85 0 0 3.1 -2.85 0 0 2.85 -3.1 0 0 -2.85 -2.85 0 0 -3.1 2.85 0z"/>
<path class="p" d="M244.9 1271.1l3.1 0 0 2.85 2.85 0 0 3.1 -2.85 0 0 2.85 -3.1 0 0 -2.85 -2.85 0 0 -3.1 2.85 0z"/>
<path class="p" d="M260 1279l3.1 0 0 2.85 2.85 0 0 3.1 -2.85 0 0 2.85 -3.1 0 0 -2.85 -2.85 0 0 -3.1 2.85 0z"/>
<path class="p" d="M264.9 1280l3.1 0 0 2.85 2.85 0 0 3.1 -2.85 0 0 2.85 -3.1 0 0 -2.85 -2.85 0 0 -3.1 2.85 0z"/>
<path class="p" d="M290 1282.1l3.1 0 0 2.85 2.85 0 0 3.1 -2.85 0 0 2.85 -3.1 0 0 -2.85 -2.85 0 0 -3.1 2.85 0z"/>
<path class="p" d="M296.9 1282.1l3.1 0 0 2.85 2.85 0 0 3.1 -2.85 0 0 2.85 -3.1 0 0 -2.85 -2.85 0 0 -3.1 2.85 0z"/>
<path class="p" d="M244.1 1287.8l3.1 0 0 2.85 2.85 0 0 3.1 -2.85 0 0 2.85 -3.1 0 0 -2.85 -2.85 0 0 -3.1 2.85 0z"/>
<path class="p" d="M243.1 1291.8l3.1 0 0 2.85 2.85 0 0 3.1 -2.85 0 0 2.85 -3.1 0 0 -2.85 -2.85 0 0 -3.1 2.85 0z"/>
<path class="p" d="M247 1289.8l3.1 0 0 2.85 2.85 0 0 3.1 -2.85 0 0 2.85 -3.1 0 0 -2.85 -2.85 0 0 -3.1 2.85 0z"/>
<path class="p" d="M253.4 1290.3l3.1 0 0 2.85 2.85 0 0 3.1 -2.85 0 0 2.85 -3.1 0 0 -2.85 -2.85 0 0 -3.1 2.85 0z"/>
<path class="p" d="M259.8 1294.7l3.1 0 0 2.85 2.85 0 0 3.1 -2.85 0 0 2.85 -3.1 0 0 -2.85 -2.85 0 0 -3.1 2.85 0z"/>
<path class="p" d="M244.9 1299.1l3.1 0 0 2.85 2.85 0 0 3.1 -2.85 0 0 2.85 -3.1 0 0 -2.85 -2.85 0 0 -3.1 2.85 0z"/>
<path class="p" d="M274 1304l3.1 0 0 2.85 2.85 0 0 3.1 -2.85 0 0 2.85 -3.1 0 0 -2.85 -2.85 0 0 -3.1 2.85 0z"/>
<path class="p" d="M252.9 1313.9l3.1 0 0 2.85 2.85 0 0 3.1 -2.85 0 0 2.85 -3.1 0 0 -2.85 -2.85 0 0 -3.1 2.85 0z"/>
<path class="p" d="M268.8 1312.4l3.1 0 0 2.85 2.85 0 0 3.1 -2.85 0 0 2.85 -3.1 0 0 -2.85 -2.85 0 0 -3.1 2.85 0z"/>
<path class="p" d="M265.9 1317.8l3.1 0 0 2.85 2.85 0 0 3.1 -2.85 0 0 2.85 -3.1 0 0 -2.85 -2.85 0 0 -3.1 2.85 0z"/>
<path class="p" d="M271.1 1316.8l3.1 0 0 2.85 2.85 0 0 3.1 -2.85 0 0 2.85 -3.1 0 0 -2.85 -2.85 0 0 -3.1 2.85 0z"/>
<path class="p" d="M248.8 1322l3.1 0 0 2.85 2.85 0 0 3.1 -2.85 0 0 2.85 -3.1 0 0 -2.85 -2.85 0 0 -3.1 2.85 0z"/>
<path class="p" d="M298.9 1315.1l3.1 0 0 2.85 2.85 0 0 3.1 -2.85 0 0 2.85 -3.1 0 0 -2.85 -2.85 0 0 -3.1 2.85 0z"/>
<path class="p" d="M305 1321l3.1 0 0 2.85 2.85 0 0 3.1 -2.85 0 0 2.85 -3.1 0 0 -2.85 -2.85 0 0 -3.1 2.85 0z"/>
<path class="p" d="M253.9 1331l3.1 0 0 2.85 2.85 0 0 3.1 -2.85 0 0 2.85 -3.1 0 0 -2.85 -2.85 0 0 -3.1 2.85 0z"/>
<path class="p" d="M251.9 1333.5l3.1 0 0 2.85 2.85 0 0 3.1 -2.85 0 0 2.85 -3.1 0 0 -2.85 -2.85 0 0 -3.1 2.85 0z"/>
<path class="p" d="M256.8 1335.9l3.1 0 0 2.85 2.85 0 0 3.1 -2.85 0 0 2.85 -3.1 0 0 -2.85 -2.85 0 0 -3.1 2.85 0z"/>
<path class="p" d="M261.7 1330.1l3.1 0 0 2.85 2.85 0 0 3.1 -2.85 0 0 2.85 -3.1 0 0 -2.85 -2.85 0 0 -3.1 2.85 0z"/>
<path class="p" d="M268.8 1329.1l3.1 0 0 2.85 2.85 0 0 3.1 -2.85 0 0 2.85 -3.1 0 0 -2.85 -2.85 0 0 -3.1 2.85 0z"/>
<path class="p" d="M271.6 1334l3.1 0 0 2.85 2.85 0 0 3.1 -2.85 0 0 2.85 -3.1 0 0 -2.85 -2.85 0 0 -3.1 2.85 0z"/>
<path class="p" d="M278 1329.1l3.1 0 0 2.85 2.85 0 0 3.1 -2.85 0 0 2.85 -3.1 0 0 -2.85 -2.85 0 0 -3.1 2.85 0z"/>
<path class="p" d="M274.5 1332l3.1 0 0 2.85 2.85 0 0 3.1 -2.85 0 0 2.85 -3.1 0 0 -2.85 -2.85 0 0 -3.1 2.85 0z"/>
<path class="p" d="M285.8 1337.1l3.1 0 0 2.85 2.85 0 0 3.1 -2.85 0 0 2.85 -3.1 0 0 -2.85 -2.85 0 0 -3.1 2.85 0z"/>
<path class="p" d="M305 1331l3.1 0 0 2.85 2.85 0 0 3.1 -2.85 0 0 2.85 -3.1 0 0 -2.85 -2.85 0 0 -3.1 2.85 0z"/>
<path class="p" d="M302 1333.5l3.1 0 0 2.85 2.85 0 0 3.1 -2.85 0 0 2.85 -3.1 0 0 -2.85 -2.85 0 0 -3.1 2.85 0z"/>
<path class="p" d="M310.9 1331l3.1 0 0 2.85 2.85 0 0 3.1 -2.85 0 0 2.85 -3.1 0 0 -2.85 -2.85 0 0 -3.1 2.85 0z"/>
<path class="p" d="M306.9 1334l3.1 0 0 2.85 2.85 0 0 3.1 -2.85 0 0 2.85 -3.1 0 0 -2.85 -2.85 0 0 -3.1 2.85 0z"/>
<path class="p" d="M303.8 1341.1l3.1 0 0 2.85 2.85 0 0 3.1 -2.85 0 0 2.85 -3.1 0 0 -2.85 -2.85 0 0 -3.1 2.85 0z"/>
<path class="p" d="M321.9 1343.3l3.1 0 0 2.85 2.85 0 0 3.1 -2.85 0 0 2.85 -3.1 0 0 -2.85 -2.85 0 0 -3.1 2.85 0z"/>
<path class="p" d="M321.7 1328.1l3.1 0 0 2.85 2.85 0 0 3.1 -2.85 0 0 2.85 -3.1 0 0 -2.85 -2.85 0 0 -3.1 2.85 0z"/>
<path class="p" d="M327.5 1325.1l3.1 0 0 2.85 2.85 0 0 3.1 -2.85 0 0 2.85 -3.1 0 0 -2.85 -2.85 0 0 -3.1 2.85 0z"/>
<path class="p" d="M331.5 1329.1l3.1 0 0 2.85 2.85 0 0 3.1 -2.85 0 0 2.85 -3.1 0 0 -2.85 -2.85 0 0 -3.1 2.85 0z"/>
<path class="p" d="M334.4 1314.3l3.1 0 0 2.85 2.85 0 0 3.1 -2.85 0 0 2.85 -3.1 0 0 -2.85 -2.85 0 0 -3.1 2.85 0z"/>
<path class="p" d="M332.5 1319.3l3.1 0 0 2.85 2.85 0 0 3.1 -2.85 0 0 2.85 -3.1 0 0 -2.85 -2.85 0 0 -3.1 2.85 0z"/>
<path class="p" d="M336.4 1320.2l3.1 0 0 2.85 2.85 0 0 3.1 -2.85 0 0 2.85 -3.1 0 0 -2.85 -2.85 0 0 -3.1 2.85 0z"/>
<path class="p" d="M323.6 1332l3.1 0 0 2.85 2.85 0 0 3.1 -2.85 0 0 2.85 -3.1 0 0 -2.85 -2.85 0 0 -3.1 2.85 0z"/>
<path class="p" d="M330 1335.9l3.1 0 0 2.85 2.85 0 0 3.1 -2.85 0 0 2.85 -3.1 0 0 -2.85 -2.85 0 0 -3.1 2.85 0z"/>
<path class="p" d="M337.9 1335l3.1 0 0 2.85 2.85 0 0 3.1 -2.85 0 0 2.85 -3.1 0 0 -2.85 -2.85 0 0 -3.1 2.85 0z"/>
<path class="p" d="M341.3 1332l3.1 0 0 2.85 2.85 0 0 3.1 -2.85 0 0 2.85 -3.1 0 0 -2.85 -2.85 0 0 -3.1 2.85 0z"/>
<path class="p" d="M335.4 1329.1l3.1 0 0 2.85 2.85 0 0 3.1 -2.85 0 0 2.85 -3.1 0 0 -2.85 -2.85 0 0 -3.1 2.85 0z"/>
<path class="p" d="M342.8 1339.9l3.1 0 0 2.85 2.85 0 0 3.1 -2.85 0 0 2.85 -3.1 0 0 -2.85 -2.85 0 0 -3.1 2.85 0z"/>
<path class="d" d="M337.4 1255.3l5.2 5.2 -5.2 5.2 -5.2 -5.2z"/>
<path class="d" d="M237.5 1311.3l5.2 5.2 -5.2 5.2 -5.2 -5.2z"/>
<path class="d" d="M293.4 1297.3l5.2 5.2 -5.2 5.2 -5.2 -5.2z"/>
<path class="d" d="M302.6 1299.3l5.2 5.2 -5.2 5.2 -5.2 -5.2z"/>
<path class="d" d="M335.5 1288.5l5.2 5.2 -5.2 5.2 -5.2 -5.2z"/>
<path class="d" d="M340.9 1283.1l5.2 5.2 -5.2 5.2 -5.2 -5.2z"/>
<path class="d" d="M335.5 1302.7l5.2 5.2 -5.2 5.2 -5.2 -5.2z"/>
<path class="d" d="M340.9 1297.8l5.2 5.2 -5.2 5.2 -5.2 -5.2z"/>
<path class="d" d="M326.3 1308.1l5.2 5.2 -5.2 5.2 -5.2 -5.2z"/>
<path class="d" d="M326.1 1318.5l5.2 5.2 -5.2 5.2 -5.2 -5.2z"/>
<path class="d" d="M342.8 1303.7l5.2 5.2 -5.2 5.2 -5.2 -5.2z"/>
<path class="d" d="M341.9 1311.6l5.2 5.2 -5.2 5.2 -5.2 -5.2z"/>
<path class="p" d="M417.9 1272.1l3.1 0 0 2.85 2.85 0 0 3.1 -2.85 0 0 2.85 -3.1 0 0 -2.85 -2.85 0 0 -3.1 2.85 0z"/>
<path class="p" d="M429.9 1303.5l3.1 0 0 2.85 2.85 0 0 3.1 -2.85 0 0 2.85 -3.1 0 0 -2.85 -2.85 0 0 -3.1 2.85 0z"/>
<path class="p" d="M436.3 1324.2l3.1 0 0 2.85 2.85 0 0 3.1 -2.85 0 0 2.85 -3.1 0 0 -2.85 -2.85 0 0 -3.1 2.85 0z"/>
<path class="p" d="M425.4 1330.5l3.1 0 0 2.85 2.85 0 0 3.1 -2.85 0 0 2.85 -3.1 0 0 -2.85 -2.85 0 0 -3.1 2.85 0z"/>
<path class="p" d="M344.4 1298.6l3.1 0 0 2.85 2.85 0 0 3.1 -2.85 0 0 2.85 -3.1 0 0 -2.85 -2.85 0 0 -3.1 2.85 0z"/>
<path class="p" d="M345.4 1307.5l3.1 0 0 2.85 2.85 0 0 3.1 -2.85 0 0 2.85 -3.1 0 0 -2.85 -2.85 0 0 -3.1 2.85 0z"/>
<path class="p" d="M345.9 1332l3.1 0 0 2.85 2.85 0 0 3.1 -2.85 0 0 2.85 -3.1 0 0 -2.85 -2.85 0 0 -3.1 2.85 0z"/>
<path class="p" d="M346.9 1340.1l3.1 0 0 2.85 2.85 0 0 3.1 -2.85 0 0 2.85 -3.1 0 0 -2.85 -2.85 0 0 -3.1 2.85 0z"/>
<path class="p" d="M354 1340.1l3.1 0 0 2.85 2.85 0 0 3.1 -2.85 0 0 2.85 -3.1 0 0 -2.85 -2.85 0 0 -3.1 2.85 0z"/>
<path class="p" d="M367 1347l3.1 0 0 2.85 2.85 0 0 3.1 -2.85 0 0 2.85 -3.1 0 0 -2.85 -2.85 0 0 -3.1 2.85 0z"/>
<path class="p" d="M344.4 1321.2l3.1 0 0 2.85 2.85 0 0 3.1 -2.85 0 0 2.85 -3.1 0 0 -2.85 -2.85 0 0 -3.1 2.85 0z"/>
<path class="d" d="M353.3 1275.2l5.2 5.2 -5.2 5.2 -5.2 -5.2z"/>
<path class="d" d="M375.4 1275.2l5.2 5.2 -5.2 5.2 -5.2 -5.2z"/>
<path class="d" d="M388.7 1272.3l5.2 5.2 -5.2 5.2 -5.2 -5.2z"/>
<path class="d" d="M395.9 1267.4l5.2 5.2 -5.2 5.2 -5.2 -5.2z"/>
<path class="d" d="M421.6 1241.4l5.2 5.2 -5.2 5.2 -5.2 -5.2z"/>
<path class="d" d="M376.4 1295.4l5.2 5.2 -5.2 5.2 -5.2 -5.2z"/>
<path class="d" d="M389.4 1294.4l5.2 5.2 -5.2 5.2 -5.2 -5.2z"/>
<path class="d" d="M408.3 1291.9l5.2 5.2 -5.2 5.2 -5.2 -5.2z"/>
<path class="d" d="M412.6 1292.9l5.2 5.2 -5.2 5.2 -5.2 -5.2z"/>
<path class="d" d="M425.5 1296.8l5.2 5.2 -5.2 5.2 -5.2 -5.2z"/>
<path class="d" d="M431.9 1296.8l5.2 5.2 -5.2 5.2 -5.2 -5.2z"/>
<path class="d" d="M352.7 1303.2l5.2 5.2 -5.2 5.2 -5.2 -5.2z"/>
<path class="d" d="M364.6 1308.1l5.2 5.2 -5.2 5.2 -5.2 -5.2z"/>
<path class="d" d="M348.9 1310.6l5.2 5.2 -5.2 5.2 -5.2 -5.2z"/>
<path class="d" d="M359.2 1312.6l5.2 5.2 -5.2 5.2 -5.2 -5.2z"/>
<path class="d" d="M374.5 1314.3l5.2 5.2 -5.2 5.2 -5.2 -5.2z"/>
<path class="d" d="M353.8 1316.5l5.2 5.2 -5.2 5.2 -5.2 -5.2z"/>
<path class="d" d="M362.7 1321.4l5.2 5.2 -5.2 5.2 -5.2 -5.2z"/>
<path class="d" d="M351.9 1320.4l5.2 5.2 -5.2 5.2 -5.2 -5.2z"/>
<path class="d" d="M361.2 1324.3l5.2 5.2 -5.2 5.2 -5.2 -5.2z"/>
<path class="d" d="M366.1 1326.3l5.2 5.2 -5.2 5.2 -5.2 -5.2z"/>
<path class="d" d="M347.9 1325.3l5.2 5.2 -5.2 5.2 -5.2 -5.2z"/>
<path class="d" d="M378.4 1330.2l5.2 5.2 -5.2 5.2 -5.2 -5.2z"/>
<path class="d" d="M407.4 1301.8l5.2 5.2 -5.2 5.2 -5.2 -5.2z"/>
<path class="d" d="M401.5 1306.2l5.2 5.2 -5.2 5.2 -5.2 -5.2z"/>
<path class="d" d="M413.7 1299.8l5.2 5.2 -5.2 5.2 -5.2 -5.2z"/>
<path class="d" d="M419.6 1302.7l5.2 5.2 -5.2 5.2 -5.2 -5.2z"/>
<path class="d" d="M412.8 1309.6l5.2 5.2 -5.2 5.2 -5.2 -5.2z"/>
<path class="d" d="M418.2 1309.1l5.2 5.2 -5.2 5.2 -5.2 -5.2z"/>
<path class="d" d="M423.6 1306.7l5.2 5.2 -5.2 5.2 -5.2 -5.2z"/>
<path class="d" d="M426.5 1310.1l5.2 5.2 -5.2 5.2 -5.2 -5.2z"/>
<path class="d" d="M435.3 1312.4l5.2 5.2 -5.2 5.2 -5.2 -5.2z"/>
<path class="d" d="M405.9 1312.6l5.2 5.2 -5.2 5.2 -5.2 -5.2z"/>
<path class="d" d="M409.8 1317.5l5.2 5.2 -5.2 5.2 -5.2 -5.2z"/>
<path class="d" d="M418.7 1317.5l5.2 5.2 -5.2 5.2 -5.2 -5.2z"/>
<path class="d" d="M423.6 1319.4l5.2 5.2 -5.2 5.2 -5.2 -5.2z"/>
<path class="d" d="M428.5 1317.5l5.2 5.2 -5.2 5.2 -5.2 -5.2z"/>
<path class="d" d="M432.9 1322.4l5.2 5.2 -5.2 5.2 -5.2 -5.2z"/>
<path class="d" d="M395.1 1320.4l5.2 5.2 -5.2 5.2 -5.2 -5.2z"/>
<path class="d" d="M392.3 1325.3l5.2 5.2 -5.2 5.2 -5.2 -5.2z"/>
<path class="d" d="M401.5 1325.8l5.2 5.2 -5.2 5.2 -5.2 -5.2z"/>
<path class="d" d="M410.8 1325.3l5.2 5.2 -5.2 5.2 -5.2 -5.2z"/>
<path class="d" d="M416.2 1325.8l5.2 5.2 -5.2 5.2 -5.2 -5.2z"/>
<path class="d" d="M422.6 1327.3l5.2 5.2 -5.2 5.2 -5.2 -5.2z"/>
<path class="d" d="M405.9 1322.4l5.2 5.2 -5.2 5.2 -5.2 -5.2z"/>
<path class="d" d="M400 1317.5l5.2 5.2 -5.2 5.2 -5.2 -5.2z"/>
<path class="d" d="M430.4 1313.5l5.2 5.2 -5.2 5.2 -5.2 -5.2z"/>
<path class="d" d="M415.7 1303.7l5.2 5.2 -5.2 5.2 -5.2 -5.2z"/>
<path class="p" d="M396 1314.8l3.1 0 0 2.85 2.85 0 0 3.1 -2.85 0 0 2.85 -3.1 0 0 -2.85 -2.85 0 0 -3.1 2.85 0z"/>
</g>
<polyline fill="none" stroke="#8c1414" stroke-width="1.1" points="324.8,1286.8 327.7,1286.2 330.7,1285.5 333.6,1284.9 336.5,1284.2 339.5,1283.6 342.4,1283 345.3,1282.3 348.3,1281.7 351.2,1281.1 354.1,1280.4 357.1,1279.8 360,1279.1 362.9,1278.5 365.8,1277.9 368.8,1277.2 371.7,1276.6 374.6,1276 377.6,1275.3 380.5,1274.7 383.4,1274 386.2,1272.9 388.9,1271.6 391.6,1270.4 394.4,1269.1 397.2,1268 400,1267.1 402.9,1266.3 405.8,1265.4 408.6,1264.5 411.5,1263.6 414.4,1262.7 417.2,1261.9 420.1,1261 423,1260.1 425.8,1259.2 428.7,1258.3 431.6,1257.5 434.4,1256.6 437.3,1255.7 440.2,1254.8 443,1253.9 445.9,1253.1 448.8,1252.2 451.6,1251.3 451.6,1251.3"/>
<path fill="none" stroke="#9c2323" stroke-width="1" d="M324.8 1286.8l0.5 3.7M328.2 1286.1l0.5 3.7M331.6 1285.3l0.5 3.7M334.9 1284.6l0.5 3.7M338.3 1283.9l0.5 3.7M341.7 1283.1l0.5 3.7M345 1282.4l0.5 3.7M348.4 1281.7l0.5 3.7M351.8 1280.9l0.5 3.7M355.1 1280.2l0.5 3.7M358.5 1279.5l0.5 3.7M361.9 1278.7l0.5 3.7M365.3 1278l0.5 3.7M368.6 1277.3l0.5 3.7M372 1276.5l0.5 3.7M375.4 1275.8l0.5 3.7M378.7 1275.1l0.5 3.7M382.1 1274.3l0.5 3.7M385.4 1273.2l0.5 3.7M388.5 1271.8l0.5 3.7M391.6 1270.4l0.5 3.7M394.8 1268.9l0.5 3.7M398 1267.7l0.5 3.7M401.3 1266.7l0.5 3.7M404.6 1265.7l0.5 3.7M407.9 1264.7l0.5 3.7M411.2 1263.7l0.5 3.7M414.5 1262.7l0.5 3.7M417.8 1261.7l0.5 3.7M421.1 1260.7l0.5 3.7M424.4 1259.7l0.5 3.7M427.7 1258.6l0.5 3.7M431 1257.6l0.5 3.7M434.3 1256.6l0.5 3.7M437.6 1255.6l0.5 3.7M440.9 1254.6l0.5 3.7M444.2 1253.6l0.5 3.7M447.5 1252.6l0.5 3.7M450.8 1251.6l0.5 3.7"/>
<polyline fill="none" stroke="#0b66d4" stroke-width="2.9" stroke-linecap="round" stroke-dasharray="0.1 4.35" points="194.7,1297.3 198.4,1295.8 203.6,1293.7 209.7,1291.2 216.4,1288.5 223.3,1285.7 230.2,1283 236.5,1280.4 242,1278.2 246.6,1276.3 250.8,1274.7 254.7,1273.1 258.3,1271.7 261.9,1270.3 265.5,1268.8 269.2,1267.3 273.1,1265.7 277.4,1264 281.9,1262.1 286.5,1260.2 291.2,1258.2 295.8,1256.3 300.1,1254.5 304.2,1252.8 307.8,1251.3 310.9,1250 313.6,1248.8 316,1247.8 318.2,1246.9 320.3,1246 322.4,1245.1 324.7,1244.1 327.3,1243 330.1,1241.7 333.1,1240.4 336.1,1239.1 339.3,1237.7 342.5,1236.3 345.6,1234.8 348.8,1233.4 351.9,1232 355.1,1230.6 358.4,1229.1 361.9,1227.6 365.2,1226.1 368.5,1224.7 371.5,1223.3 374.1,1222.1 376.4,1221 378.1,1220.2 379.2,1219.6 380,1219.1 380.5,1218.7 381,1218.4 381.7,1217.8 382.5,1217.1 383.8,1216.1 385.5,1214.8 387.4,1213.2 389.5,1211.5 391.8,1209.6 394.1,1207.6 396.5,1205.7 398.7,1203.8 400.9,1202.1 403,1200.5 405.1,1198.9 407.3,1197.3 409.4,1195.8 411.5,1194.3 413.4,1192.8 415.3,1191.3 416.9,1189.8 418.3,1188.4 419.5,1187 420.6,1185.7 421.6,1184.4 422.5,1183.1 423.4,1181.7 424.4,1180.3 425.5,1178.7 426.6,1177.1 427.8,1175.3 429.1,1173.6 430.3,1171.7 431.6,1169.8 432.8,1167.9 434.1,1166 435.3,1164 436.5,1161.9 437.8,1159.8 439.1,1157.7 440.3,1155.5 441.6,1153.3 442.8,1151.1 444,1148.9 445.1,1146.8 446.2,1144.6 447.4,1142.3 448.5,1140 449.5,1137.6 450.5,1135.5 451.4,1133.5 452.2,1131.9 452.8,1130.6"/>
<path d="M112.6 1014.8V1391.4M112 1376.9H466M112.6 1358.8h7.3M112.6 1340.8h14.6M112.6 1322.7h7.3M112.6 1304.6h14.6M112.6 1286.5h7.3M112.6 1268.5h14.6M112.6 1250.4h7.3M112.6 1232.3h14.6M112.6 1214.2h7.3M112.6 1196.2h14.6M112.6 1178.1h7.3M112.6 1160h14.6M112.6 1141.9h7.3M112.6 1123.8h14.6M112.6 1105.8h7.3M112.6 1087.7h14.6M112.6 1069.6h7.3M112.6 1051.5h14.6M112.6 1033.5h7.3M112.6 1015.4h14.6M171.4 1376.9v14.5M230.2 1376.9v14.5M289 1376.9v14.5M347.8 1376.9v14.5M406.6 1376.9v14.5M465.4 1376.9v14.5" fill="none" stroke="#b6b6b6" stroke-width="1.2"/>
<g>
<text x="82.7" y="1386.1" font-size="26.0" textLength="14" lengthAdjust="spacingAndGlyphs">0</text>
<text x="47.5" y="1350" font-size="26.0" textLength="49.1" lengthAdjust="spacingAndGlyphs">0.04</text>
<text x="47.8" y="1313.8" font-size="26.0" textLength="49.1" lengthAdjust="spacingAndGlyphs">0.08</text>
<text x="48" y="1277.7" font-size="26.0" textLength="49.1" lengthAdjust="spacingAndGlyphs">0.12</text>
<text x="47.8" y="1241.5" font-size="26.0" textLength="49.1" lengthAdjust="spacingAndGlyphs">0.16</text>
<text x="62" y="1205.4" font-size="26.0" textLength="35.1" lengthAdjust="spacingAndGlyphs">0.2</text>
<text x="47.5" y="1169.2" font-size="26.0" textLength="49.1" lengthAdjust="spacingAndGlyphs">0.24</text>
<text x="47.8" y="1133" font-size="26.0" textLength="49.1" lengthAdjust="spacingAndGlyphs">0.28</text>
<text x="48" y="1096.9" font-size="26.0" textLength="49.1" lengthAdjust="spacingAndGlyphs">0.32</text>
<text x="47.8" y="1060.8" font-size="26.0" textLength="49.1" lengthAdjust="spacingAndGlyphs">0.36</text>
<text x="61.5" y="1024.6" font-size="26.0" textLength="35.1" lengthAdjust="spacingAndGlyphs">0.4</text>
<text x="100.5" y="1431.5" font-size="26.0" textLength="22.4" lengthAdjust="spacingAndGlyphs">-7</text>
<text x="159.2" y="1431.5" font-size="26.0" textLength="22.4" lengthAdjust="spacingAndGlyphs">-8</text>
<text x="218.1" y="1431.5" font-size="26.0" textLength="22.4" lengthAdjust="spacingAndGlyphs">-9</text>
<text x="269.8" y="1431.5" font-size="26.0" textLength="36.5" lengthAdjust="spacingAndGlyphs">-10</text>
<text x="329.6" y="1431.5" font-size="26.0" textLength="34.6" lengthAdjust="spacingAndGlyphs">-11</text>
<text x="387.5" y="1431.5" font-size="26.0" textLength="36.5" lengthAdjust="spacingAndGlyphs">-12</text>
<text x="446.2" y="1431.5" font-size="26.0" textLength="36.5" lengthAdjust="spacingAndGlyphs">-13</text>
</g>
<text transform="translate(33 1195.6) rotate(-90)" x="-98.3" font-size="26.0" textLength="196.2" lengthAdjust="spacingAndGlyphs">P/Ca (mmol/mol)</text>
<text><tspan x="161.7" y="1467.9" font-size="26.2" textLength="13.9" lengthAdjust="spacingAndGlyphs" font-family='"Liberation Serif", "DejaVu Serif", serif'>δ</tspan><tspan x="175.7" y="1459.4" font-size="15.7" textLength="16.4" lengthAdjust="spacingAndGlyphs" class="sm">13</tspan><tspan x="193.2" y="1468.2" font-size="26.0" textLength="14.3" lengthAdjust="spacingAndGlyphs">C</tspan><tspan x="207.1" y="1474.8" font-size="15.3" textLength="22.3" lengthAdjust="spacingAndGlyphs" class="sm">init</tspan><tspan x="228.3" y="1468.2" font-size="26.0" textLength="54.2" lengthAdjust="spacingAndGlyphs"> (‰)</tspan><tspan x="281.3" y="1468.2" font-size="26.0" textLength="39" lengthAdjust="spacingAndGlyphs"> --&gt;</tspan><tspan x="319.7" y="1468.2" font-size="26.0" textLength="94.9" lengthAdjust="spacingAndGlyphs"> warmer</tspan></text>
<text x="133.1" y="1042.2" font-size="25.0" textLength="47" lengthAdjust="spacingAndGlyphs">GAE</text>
</g>
<g>
<g>
<circle class="y" cx="272.6" cy="1547.7" r="4.85"/>
<path class="b" d="M179.3 1785l6.9 -12 -13.8 0z"/>
<path class="b" d="M202.8 1842.3l6.9 -12 -13.8 0z"/>
<circle class="g" cx="195.6" cy="1766.4" r="4.1"/>
<circle class="g" cx="172.4" cy="1785.6" r="4.1"/>
<circle class="g" cx="181.4" cy="1779.3" r="4.1"/>
<circle class="g" cx="199.4" cy="1788.6" r="4.1"/>
<circle class="g" cx="207.4" cy="1790.5" r="4.1"/>
<circle class="g" cx="243.5" cy="1787.6" r="4.1"/>
<circle class="g" cx="248.6" cy="1784.8" r="4.1"/>
<circle class="g" cx="228.6" cy="1823.5" r="4.1"/>
<circle class="g" cx="227.4" cy="1836.9" r="4.1"/>
<circle class="y" cx="246.3" cy="1792.8" r="4.85"/>
<circle class="y" cx="246.3" cy="1820.9" r="4.85"/>
<path class="s" d="M194 1825.2l10.8 0 0 10.8 -10.8 0z"/>
<path class="s" d="M233.1 1825.2l10.8 0 0 10.8 -10.8 0z"/>
<circle class="g" cx="208.5" cy="1828.5" r="4.1"/>
<circle class="g" cx="215.4" cy="1832.5" r="4.1"/>
<path class="b" d="M221.7 1776.5l6.9 -12 -13.8 0z"/>
<path class="b" d="M187 1793.1l6.9 -12 -13.8 0z"/>
<path class="b" d="M191.6 1822.3l6.9 -12 -13.8 0z"/>
<path class="t" d="M229.7 1776.3l6.9 12 -13.8 0z"/>
<path class="t" d="M225.5 1778.8l6.9 12 -13.8 0z"/>
<path class="t" d="M231.4 1806.8l6.9 12 -13.8 0z"/>
<path class="t" d="M245.4 1805.7l6.9 12 -13.8 0z"/>
<path class="t" d="M227.1 1822.3l6.9 12 -13.8 0z"/>
<path class="u" d="M137.5 1766.1l6.5 12 -13 0z"/>
<path class="u" d="M176.4 1755.2l6.5 12 -13 0z"/>
<path class="x" d="M123.5 1730.3l2.1 3.6 4.1 0 -2 3.6 2 3.6 -4.1 0 -2.1 3.6 -2.1 -3.6 -4.1 0 2 -3.6 -2 -3.6 4.1 0z"/>
<circle class="y" cx="283.5" cy="1702.1" r="4.85"/>
<circle class="y" cx="309.6" cy="1726.6" r="4.85"/>
<circle class="y" cx="284.6" cy="1750.6" r="4.85"/>
<circle class="y" cx="288.4" cy="1780.2" r="4.85"/>
<circle class="y" cx="309.6" cy="1787.6" r="4.85"/>
<circle class="y" cx="255.7" cy="1789.4" r="4.85"/>
<circle class="y" cx="319.3" cy="1789.4" r="4.85"/>
<circle class="y" cx="271.2" cy="1804.3" r="4.85"/>
<circle class="y" cx="276.9" cy="1803.7" r="4.85"/>
<circle class="y" cx="289" cy="1807.1" r="4.85"/>
<circle class="y" cx="284.4" cy="1812.8" r="4.85"/>
<circle class="y" cx="298.7" cy="1792.8" r="4.85"/>
<circle class="y" cx="310.7" cy="1803.1" r="4.85"/>
<path class="s" d="M315.1 1765.1l10.8 0 0 10.8 -10.8 0z"/>
<path class="s" d="M332 1769.1l10.8 0 0 10.8 -10.8 0z"/>
<path class="s" d="M285 1778.2l10.8 0 0 10.8 -10.8 0z"/>
<path class="s" d="M321 1788l10.8 0 0 10.8 -10.8 0z"/>
<path class="s" d="M345.1 1784l10.8 0 0 10.8 -10.8 0z"/>
<path class="s" d="M295 1796l10.8 0 0 10.8 -10.8 0z"/>
<path class="s" d="M304.2 1797.7l10.8 0 0 10.8 -10.8 0z"/>
<path class="s" d="M328.2 1794.3l10.8 0 0 10.8 -10.8 0z"/>
<path class="s" d="M332.2 1796l10.8 0 0 10.8 -10.8 0z"/>
<path class="s" d="M301.3 1803.4l10.8 0 0 10.8 -10.8 0z"/>
<path class="s" d="M305.3 1803.4l10.8 0 0 10.8 -10.8 0z"/>
<path class="s" d="M318.5 1802.9l10.8 0 0 10.8 -10.8 0z"/>
<path class="s" d="M340.3 1805.2l10.8 0 0 10.8 -10.8 0z"/>
<path class="s" d="M325.9 1814.9l10.8 0 0 10.8 -10.8 0z"/>
<path class="s" d="M336.2 1816l10.8 0 0 10.8 -10.8 0z"/>
<path class="s" d="M332.2 1820.6l10.8 0 0 10.8 -10.8 0z"/>
<path class="s" d="M339.1 1820l10.8 0 0 10.8 -10.8 0z"/>
<path class="s" d="M289 1832.6l10.8 0 0 10.8 -10.8 0z"/>
<circle class="y" cx="319.3" cy="1776.5" r="4.85"/>
<circle class="y" cx="319.9" cy="1813.4" r="4.85"/>
<circle class="y" cx="318.5" cy="1824.5" r="4.85"/>
<path class="t" d="M292.2 1785.6l6.9 12 -13.8 0z"/>
<path class="t" d="M303.6 1783.6l6.9 12 -13.8 0z"/>
<path class="t" d="M285.5 1800.5l6.9 12 -13.8 0z"/>
<path class="t" d="M280.9 1801.7l6.9 12 -13.8 0z"/>
<path class="t" d="M293.5 1809.7l6.9 12 -13.8 0z"/>
<path class="t" d="M255.5 1819.4l6.9 12 -13.8 0z"/>
<path class="d" d="M326.5 1780.1l5.2 5.2 -5.2 5.2 -5.2 -5.2z"/>
<path class="d" d="M347.4 1777.1l5.2 5.2 -5.2 5.2 -5.2 -5.2z"/>
<path class="d" d="M353.7 1784.2l5.2 5.2 -5.2 5.2 -5.2 -5.2z"/>
<path class="d" d="M326.5 1796.4l5.2 5.2 -5.2 5.2 -5.2 -5.2z"/>
<path class="d" d="M360.6 1801.3l5.2 5.2 -5.2 5.2 -5.2 -5.2z"/>
<path class="d" d="M359.4 1820.2l5.2 5.2 -5.2 5.2 -5.2 -5.2z"/>
<path class="d" d="M297.5 1826.2l5.2 5.2 -5.2 5.2 -5.2 -5.2z"/>
<path class="d" d="M257.4 1830.6l5.2 5.2 -5.2 5.2 -5.2 -5.2z"/>
<path class="p" d="M341 1834.8l3.1 0 0 2.85 2.85 0 0 3.1 -2.85 0 0 2.85 -3.1 0 0 -2.85 -2.85 0 0 -3.1 2.85 0z"/>
</g>
<polyline fill="none" stroke="#8c1414" stroke-width="1.1" points="364.2,1820.5 367.2,1820 370.1,1819.5 373.1,1819 376,1818.5 379,1818 382,1817.5 384.9,1817 387.9,1816.6 390.8,1816.1 393.8,1815.6 396.8,1815.1 399.7,1814.6 402.7,1814.1 405.6,1813.6 408.6,1813.1 411.4,1812.1 414.3,1811.1 417.1,1810.1 420,1809.4 422.9,1808.7 425.8,1808 428.8,1807.3 431.7,1806.7 434.6,1806 437.5,1805.3 440.4,1804.6 443.4,1803.9 446.3,1803.2 449.2,1802.6 452.1,1801.9 455,1801.2 458,1800.5 459.4,1800.2"/>
<path fill="none" stroke="#9c2323" stroke-width="1" d="M364.2 1820.5l0.5 3.7M367.6 1819.9l0.5 3.7M371 1819.4l0.5 3.7M374.4 1818.8l0.5 3.7M377.8 1818.2l0.5 3.7M381.2 1817.7l0.5 3.7M384.6 1817.1l0.5 3.7M388 1816.5l0.5 3.7M391.4 1816l0.5 3.7M394.8 1815.4l0.5 3.7M398.2 1814.8l0.5 3.7M401.6 1814.3l0.5 3.7M405 1813.7l0.5 3.7M408.4 1813.1l0.5 3.7M411.7 1812l0.5 3.7M415 1810.9l0.5 3.7M418.2 1809.8l0.5 3.7M421.6 1809l0.5 3.7M425 1808.2l0.5 3.7M428.3 1807.4l0.5 3.7M431.7 1806.7l0.5 3.7M435 1805.9l0.5 3.7M438.4 1805.1l0.5 3.7M441.8 1804.3l0.5 3.7M445.1 1803.5l0.5 3.7M448.5 1802.7l0.5 3.7M451.8 1802l0.5 3.7M455.2 1801.2l0.5 3.7M458.5 1800.4l0.5 3.7"/>
<polyline fill="none" stroke="#0b66d4" stroke-width="2.9" stroke-linecap="round" stroke-dasharray="0.1 4.35" points="266.5,1826.5 269.4,1825.6 273.2,1824.4 277.8,1823 282.8,1821.5 288,1819.9 293.2,1818.3 297.9,1816.8 302,1815.6 305.5,1814.5 308.7,1813.6 311.6,1812.7 314.3,1811.8 317,1811 319.7,1810.2 322.4,1809.4 325.4,1808.4 328.6,1807.4 332,1806.4 335.5,1805.3 339,1804.2 342.4,1803.1 345.7,1802 348.7,1801 351.4,1800.2 353.8,1799.4 355.8,1798.8 357.6,1798.2 359.2,1797.7 360.8,1797.2 362.4,1796.6 364.1,1796.1 366.1,1795.4 368.2,1794.7 370.4,1794 372.7,1793.2 375.1,1792.4 377.4,1791.6 379.8,1790.8 382.2,1790 384.5,1789.2 386.9,1788.4 389.4,1787.5 392,1786.7 394.5,1785.8 397,1785 399.2,1784.2 401.2,1783.5 402.9,1782.9 404.2,1782.4 405,1782 405.6,1781.8 406,1781.6 406.4,1781.4 406.9,1781.1 407.5,1780.7 408.5,1780.1 409.7,1779.3 411.2,1778.4 412.8,1777.4 414.5,1776.3 416.2,1775.2 418,1774.1 419.7,1773.1 421.3,1772.1 422.9,1771.1 424.5,1770.2 426.1,1769.3 427.7,1768.5 429.2,1767.6 430.7,1766.7 432.1,1765.9 433.3,1765 434.4,1764.2 435.3,1763.5 436.1,1762.7 436.8,1761.9 437.5,1761.2 438.2,1760.4 438.9,1759.6 439.7,1758.7 440.6,1757.7 441.5,1756.8 442.4,1755.7 443.4,1754.7 444.3,1753.6 445.2,1752.5 446.2,1751.4 447.1,1750.3 448,1749.1 449,1747.9 449.9,1746.7 450.9,1745.4 451.8,1744.1 452.7,1742.9 453.6,1741.7 454.5,1740.4 455.3,1739.2 456.2,1737.9 457,1736.5 457.8,1735.2 458.6,1734 459.2,1732.8 459.8,1731.9 460.2,1731.2"/>
<rect x="273.2" y="1504.1" width="45.8" height="367.9" fill="#808080" fill-opacity="0.2"/>
<path d="M116.7 1509.7V1886.5M116.1 1872H470.3M116.7 1846.2h7.3M116.7 1820.3h14.6M116.7 1794.5h7.3M116.7 1768.7h14.6M116.7 1742.8h7.3M116.7 1717h14.6M116.7 1691.2h7.3M116.7 1665.3h14.6M116.7 1639.5h7.3M116.7 1613.6h14.6M116.7 1587.8h7.3M116.7 1562h14.6M116.7 1536.1h7.3M116.7 1510.3h14.6M160.8 1872v14.5M204.9 1872v14.5M249.1 1872v14.5M293.2 1872v14.5M337.3 1872v14.5M381.4 1872v14.5M425.6 1872v14.5M469.7 1872v14.5" fill="none" stroke="#b6b6b6" stroke-width="1.2"/>
<g>
<text x="86.8" y="1881.2" font-size="26.0" textLength="14" lengthAdjust="spacingAndGlyphs">0</text>
<text x="66" y="1829.5" font-size="26.0" textLength="35.1" lengthAdjust="spacingAndGlyphs">0.1</text>
<text x="66.1" y="1777.9" font-size="26.0" textLength="35.1" lengthAdjust="spacingAndGlyphs">0.2</text>
<text x="65.9" y="1726.2" font-size="26.0" textLength="35.1" lengthAdjust="spacingAndGlyphs">0.3</text>
<text x="65.6" y="1674.5" font-size="26.0" textLength="35.1" lengthAdjust="spacingAndGlyphs">0.4</text>
<text x="65.9" y="1622.8" font-size="26.0" textLength="35.1" lengthAdjust="spacingAndGlyphs">0.5</text>
<text x="65.9" y="1571.2" font-size="26.0" textLength="35.1" lengthAdjust="spacingAndGlyphs">0.6</text>
<text x="66.1" y="1519.5" font-size="26.0" textLength="35.1" lengthAdjust="spacingAndGlyphs">0.7</text>
<text x="104.5" y="1926.6" font-size="26.0" textLength="22.4" lengthAdjust="spacingAndGlyphs">-5</text>
<text x="148.6" y="1926.6" font-size="26.0" textLength="22.4" lengthAdjust="spacingAndGlyphs">-6</text>
<text x="192.9" y="1926.6" font-size="26.0" textLength="22.4" lengthAdjust="spacingAndGlyphs">-7</text>
<text x="236.9" y="1926.6" font-size="26.0" textLength="22.4" lengthAdjust="spacingAndGlyphs">-8</text>
<text x="281.1" y="1926.6" font-size="26.0" textLength="22.4" lengthAdjust="spacingAndGlyphs">-9</text>
<text x="318.1" y="1926.6" font-size="26.0" textLength="36.5" lengthAdjust="spacingAndGlyphs">-10</text>
<text x="363.3" y="1926.6" font-size="26.0" textLength="34.6" lengthAdjust="spacingAndGlyphs">-11</text>
<text x="406.5" y="1926.6" font-size="26.0" textLength="36.5" lengthAdjust="spacingAndGlyphs">-12</text>
<text x="450.5" y="1926.6" font-size="26.0" textLength="36.5" lengthAdjust="spacingAndGlyphs">-13</text>
</g>
<text transform="translate(51.4 1690.6) rotate(-90)" x="-98.3" font-size="26.0" textLength="196.2" lengthAdjust="spacingAndGlyphs">P/Ca (mmol/mol)</text>
<text><tspan x="165.9" y="1963" font-size="26.2" textLength="13.9" lengthAdjust="spacingAndGlyphs" font-family='"Liberation Serif", "DejaVu Serif", serif'>δ</tspan><tspan x="179.9" y="1954.5" font-size="15.7" textLength="16.4" lengthAdjust="spacingAndGlyphs" class="sm">13</tspan><tspan x="197.4" y="1963.3" font-size="26.0" textLength="14.3" lengthAdjust="spacingAndGlyphs">C</tspan><tspan x="211.3" y="1969.9" font-size="15.3" textLength="22.3" lengthAdjust="spacingAndGlyphs" class="sm">init</tspan><tspan x="232.5" y="1963.3" font-size="26.0" textLength="54.2" lengthAdjust="spacingAndGlyphs"> (‰)</tspan><tspan x="285.5" y="1963.3" font-size="26.0" textLength="39" lengthAdjust="spacingAndGlyphs"> --&gt;</tspan><tspan x="323.9" y="1963.3" font-size="26.0" textLength="94.9" lengthAdjust="spacingAndGlyphs"> warmer</tspan></text>
<text x="132.9" y="1527" font-size="21.0" textLength="40.2" lengthAdjust="spacingAndGlyphs">GLD</text>
</g>
<g>
<g>
<path class="d" d="M239.4 2020.3l5.2 5.2 -5.2 5.2 -5.2 -5.2z"/>
<path class="d" d="M246.5 2039.3l5.2 5.2 -5.2 5.2 -5.2 -5.2z"/>
<path class="d" d="M229.5 2080.2l5.2 5.2 -5.2 5.2 -5.2 -5.2z"/>
<path class="t" d="M247.6 2023.6l6.9 12 -13.8 0z"/>
<path class="p" d="M217.9 2107l3.1 0 0 2.85 2.85 0 0 3.1 -2.85 0 0 2.85 -3.1 0 0 -2.85 -2.85 0 0 -3.1 2.85 0z"/>
<path class="s" d="M272 2117.9l10.8 0 0 10.8 -10.8 0z"/>
<path class="p" d="M412 1992.1l3.1 0 0 2.85 2.85 0 0 3.1 -2.85 0 0 2.85 -3.1 0 0 -2.85 -2.85 0 0 -3.1 2.85 0z"/>
<path class="p" d="M402.9 2111l3.1 0 0 2.85 2.85 0 0 3.1 -2.85 0 0 2.85 -3.1 0 0 -2.85 -2.85 0 0 -3.1 2.85 0z"/>
<path class="s" d="M346 2051l10.8 0 0 10.8 -10.8 0z"/>
<path class="d" d="M318.4 2108.3l5.2 5.2 -5.2 5.2 -5.2 -5.2z"/>
<path class="d" d="M340.5 2118.3l5.2 5.2 -5.2 5.2 -5.2 -5.2z"/>
<path class="d" d="M441.5 2114.2l5.2 5.2 -5.2 5.2 -5.2 -5.2z"/>
<path class="b" d="M200.6 2198.7l6.9 -12 -13.8 0z"/>
<circle class="g" cx="246.7" cy="2206.4" r="4.1"/>
<circle class="g" cx="224.5" cy="2234.4" r="4.1"/>
<circle class="g" cx="236.5" cy="2243.6" r="4.1"/>
<circle class="g" cx="160.6" cy="2262.7" r="4.1"/>
<circle class="g" cx="197.9" cy="2195.1" r="4.1"/>
<circle class="y" cx="278.3" cy="2149.5" r="4.85"/>
<circle class="y" cx="255.6" cy="2178.9" r="4.85"/>
<circle class="y" cx="286.2" cy="2208.6" r="4.85"/>
<path class="s" d="M281.1 2146.2l10.8 0 0 10.8 -10.8 0z"/>
<path class="s" d="M239.1 2167l10.8 0 0 10.8 -10.8 0z"/>
<path class="s" d="M248.3 2167l10.8 0 0 10.8 -10.8 0z"/>
<path class="s" d="M249.1 2192l10.8 0 0 10.8 -10.8 0z"/>
<path class="s" d="M208.1 2208l10.8 0 0 10.8 -10.8 0z"/>
<path class="s" d="M243.2 2209.1l10.8 0 0 10.8 -10.8 0z"/>
<path class="s" d="M249.1 2218.6l10.8 0 0 10.8 -10.8 0z"/>
<path class="s" d="M188.8 2220.1l10.8 0 0 10.8 -10.8 0z"/>
<path class="s" d="M225 2224l10.8 0 0 10.8 -10.8 0z"/>
<path class="s" d="M286.1 2203l10.8 0 0 10.8 -10.8 0z"/>
<path class="p" d="M241.9 2137l3.1 0 0 2.85 2.85 0 0 3.1 -2.85 0 0 2.85 -3.1 0 0 -2.85 -2.85 0 0 -3.1 2.85 0z"/>
<path class="p" d="M246.8 2176l3.1 0 0 2.85 2.85 0 0 3.1 -2.85 0 0 2.85 -3.1 0 0 -2.85 -2.85 0 0 -3.1 2.85 0z"/>
<path class="u" d="M216.3 2230.8l6.5 12 -13 0z"/>
<path class="u" d="M200.3 2238.1l6.5 12 -13 0z"/>
<path class="u" d="M208.9 2240l6.5 12 -13 0z"/>
<path class="u" d="M196.4 2265.8l6.5 12 -13 0z"/>
<path class="b" d="M279.5 2201.1l6.9 -12 -13.8 0z"/>
<path class="b" d="M188.4 2231.2l6.9 -12 -13.8 0z"/>
<path class="b" d="M211.4 2247.8l6.9 -12 -13.8 0z"/>
<path class="b" d="M175.5 2268l6.9 -12 -13.8 0z"/>
<path class="b" d="M189.3 2265l6.9 -12 -13.8 0z"/>
<path class="b" d="M198.5 2258.8l6.9 -12 -13.8 0z"/>
<path class="t" d="M285.6 2148l6.9 12 -13.8 0z"/>
<path class="t" d="M275.4 2153.5l6.9 12 -13.8 0z"/>
<path class="t" d="M279.5 2195.3l6.9 12 -13.8 0z"/>
<path class="t" d="M197.5 2204.1l6.9 12 -13.8 0z"/>
<path class="t" d="M255.6 2209.4l6.9 12 -13.8 0z"/>
<path class="t" d="M200.9 2240.1l6.9 12 -13.8 0z"/>
<path class="t" d="M254.6 2239.5l6.9 12 -13.8 0z"/>
<path class="t" d="M268.4 2264l6.9 12 -13.8 0z"/>
<path class="t" d="M241.4 2278.1l6.9 12 -13.8 0z"/>
<path class="t" d="M272.5 2277.5l6.9 12 -13.8 0z"/>
<path class="d" d="M207.4 2156.3l5.2 5.2 -5.2 5.2 -5.2 -5.2z"/>
<path class="d" d="M258.4 2158.3l5.2 5.2 -5.2 5.2 -5.2 -5.2z"/>
<path class="d" d="M219.4 2170.3l5.2 5.2 -5.2 5.2 -5.2 -5.2z"/>
<path class="d" d="M201.6 2193.4l5.2 5.2 -5.2 5.2 -5.2 -5.2z"/>
<path class="d" d="M229.5 2191.8l5.2 5.2 -5.2 5.2 -5.2 -5.2z"/>
<path class="d" d="M235.7 2197.3l5.2 5.2 -5.2 5.2 -5.2 -5.2z"/>
<circle class="y" cx="191.5" cy="2192.4" r="4.85"/>
<circle class="y" cx="226.5" cy="2200.7" r="4.85"/>
<circle class="y" cx="230.5" cy="2210.1" r="4.85"/>
<circle class="y" cx="220.6" cy="2238.7" r="4.85"/>
<circle class="y" cx="192.3" cy="2249.4" r="4.85"/>
<circle class="y" cx="287.5" cy="2241.5" r="4.85"/>
<circle class="y" cx="269.4" cy="2251.4" r="4.85"/>
<circle class="y" cx="273.6" cy="2266.3" r="4.85"/>
<circle class="y" cx="307.6" cy="2144.6" r="4.85"/>
<circle class="y" cx="340.5" cy="2254.4" r="4.85"/>
<circle class="y" cx="370" cy="2218.5" r="4.85"/>
<path class="d" d="M321.5 2132.5l5.2 5.2 -5.2 5.2 -5.2 -5.2z"/>
<path class="d" d="M368.5 2160.2l5.2 5.2 -5.2 5.2 -5.2 -5.2z"/>
<path class="d" d="M361.6 2178.3l5.2 5.2 -5.2 5.2 -5.2 -5.2z"/>
<path class="d" d="M308.6 2189.3l5.2 5.2 -5.2 5.2 -5.2 -5.2z"/>
<path class="d" d="M399.4 2220.4l5.2 5.2 -5.2 5.2 -5.2 -5.2z"/>
<path class="b" d="M363.5 2140.4l6.9 -12 -13.8 0z"/>
<path class="p" d="M373 2133.1l3.1 0 0 2.85 2.85 0 0 3.1 -2.85 0 0 2.85 -3.1 0 0 -2.85 -2.85 0 0 -3.1 2.85 0z"/>
<path class="p" d="M404 2167.1l3.1 0 0 2.85 2.85 0 0 3.1 -2.85 0 0 2.85 -3.1 0 0 -2.85 -2.85 0 0 -3.1 2.85 0z"/>
<path class="p" d="M386.8 2177.9l3.1 0 0 2.85 2.85 0 0 3.1 -2.85 0 0 2.85 -3.1 0 0 -2.85 -2.85 0 0 -3.1 2.85 0z"/>
<path class="p" d="M396.9 2178l3.1 0 0 2.85 2.85 0 0 3.1 -2.85 0 0 2.85 -3.1 0 0 -2.85 -2.85 0 0 -3.1 2.85 0z"/>
<path class="p" d="M381.9 2183.1l3.1 0 0 2.85 2.85 0 0 3.1 -2.85 0 0 2.85 -3.1 0 0 -2.85 -2.85 0 0 -3.1 2.85 0z"/>
<path class="p" d="M406 2198l3.1 0 0 2.85 2.85 0 0 3.1 -2.85 0 0 2.85 -3.1 0 0 -2.85 -2.85 0 0 -3.1 2.85 0z"/>
<path class="p" d="M398.9 2204l3.1 0 0 2.85 2.85 0 0 3.1 -2.85 0 0 2.85 -3.1 0 0 -2.85 -2.85 0 0 -3.1 2.85 0z"/>
<path class="p" d="M393.9 2211.9l3.1 0 0 2.85 2.85 0 0 3.1 -2.85 0 0 2.85 -3.1 0 0 -2.85 -2.85 0 0 -3.1 2.85 0z"/>
<path class="t" d="M420.5 2152.9l6.9 12 -13.8 0z"/>
<path class="s" d="M323.1 2189l10.8 0 0 10.8 -10.8 0z"/>
<path class="s" d="M343.1 2207.1l10.8 0 0 10.8 -10.8 0z"/>
<path class="s" d="M370.1 2201l10.8 0 0 10.8 -10.8 0z"/>
<path class="s" d="M379.2 2199.1l10.8 0 0 10.8 -10.8 0z"/>
<path class="s" d="M359.2 2213.1l10.8 0 0 10.8 -10.8 0z"/>
<path class="s" d="M382.1 2213.1l10.8 0 0 10.8 -10.8 0z"/>
<path class="s" d="M302.1 2246l10.8 0 0 10.8 -10.8 0z"/>
</g>
<polyline fill="none" stroke="#8c1414" stroke-width="1.1" points="284.3,2268.8 287,2267.6 289.8,2266.3 292.5,2265.1 295.2,2263.8 298,2262.6 300.7,2261.4 303.4,2260.1 306.2,2258.9 308.9,2257.7 311.6,2256.4 314.4,2255.2 317.1,2253.9 319.8,2252.7 322,2250.6 324.1,2248.5 326.3,2246.4 328.7,2244.7 331.2,2243.1 333.8,2241.4 336.3,2239.8 338.8,2238.2 341.3,2236.6 343.9,2235 346.4,2233.4 348.9,2231.7 351.5,2230.1 354,2228.5 356.5,2226.9 359,2225.3 360.3,2224.5"/>
<path fill="none" stroke="#9c2323" stroke-width="1" d="M284.3 2268.8l0.5 3.7M287.4 2267.4l0.5 3.7M290.6 2266l0.5 3.7M293.7 2264.5l0.5 3.7M296.9 2263.1l0.5 3.7M300 2261.7l0.5 3.7M303.2 2260.3l0.5 3.7M306.3 2258.8l0.5 3.7M309.4 2257.4l0.5 3.7M312.6 2256l0.5 3.7M315.7 2254.6l0.5 3.7M318.9 2253.1l0.5 3.7M321.5 2251l0.5 3.7M324 2248.6l0.5 3.7M326.5 2246.2l0.5 3.7M329.3 2244.3l0.5 3.7M332.3 2242.4l0.5 3.7M335.2 2240.6l0.5 3.7M338.1 2238.7l0.5 3.7M341 2236.8l0.5 3.7M343.9 2235l0.5 3.7M346.8 2233.1l0.5 3.7M349.7 2231.3l0.5 3.7M352.6 2229.4l0.5 3.7M355.5 2227.5l0.5 3.7M358.4 2225.7l0.5 3.7"/>
<polyline fill="none" stroke="#0b66d4" stroke-width="2.9" stroke-linecap="round" stroke-dasharray="0.1 4.35" points="206.2,2281.9 208.4,2280 211.5,2277.4 215.2,2274.4 219.2,2271 223.4,2267.5 227.5,2264 231.3,2260.8 234.6,2258.1 237.3,2255.7 239.9,2253.6 242.2,2251.7 244.4,2249.9 246.5,2248.1 248.7,2246.3 250.9,2244.5 253.3,2242.5 255.8,2240.3 258.5,2237.9 261.3,2235.5 264.1,2233.1 266.9,2230.7 269.5,2228.4 271.9,2226.3 274.1,2224.4 276,2222.7 277.6,2221.3 279,2220 280.3,2218.9 281.6,2217.8 282.9,2216.6 284.2,2215.4 285.8,2214 287.5,2212.4 289.3,2210.8 291.1,2209.1 293,2207.3 294.9,2205.6 296.8,2203.8 298.7,2202 300.6,2200.3 302.5,2198.5 304.5,2196.7 306.5,2194.8 308.6,2192.9 310.5,2191.1 312.3,2189.4 313.9,2187.8 315.3,2186.5 316.3,2185.4 317,2184.7 317.4,2184.1 317.8,2183.7 318.1,2183.2 318.4,2182.5 318.9,2181.6 319.7,2180.4 320.7,2178.7 321.9,2176.8 323.2,2174.6 324.5,2172.2 325.9,2169.8 327.3,2167.4 328.7,2165 330,2162.9 331.2,2160.8 332.5,2158.8 333.8,2156.9 335.1,2154.9 336.3,2153 337.5,2151.2 338.6,2149.3 339.6,2147.5 340.4,2145.7 341.2,2144 341.8,2142.4 342.4,2140.7 342.9,2139.1 343.5,2137.3 344.1,2135.5 344.7,2133.6 345.4,2131.5 346.2,2129.4 346.9,2127.1 347.6,2124.8 348.4,2122.5 349.1,2120.1 349.9,2117.6 350.6,2115.1 351.4,2112.6 352.1,2110 352.9,2107.3 353.7,2104.5 354.4,2101.8 355.1,2099 355.8,2096.3 356.5,2093.7 357.2,2090.9 357.9,2088 358.5,2085.1 359.2,2082.2 359.8,2079.5 360.3,2077 360.8,2075 361.1,2073.4"/>
<path d="M121.6 1973.9V2350.8M121 2336.3H475.2M121.6 2313.7h7.3M121.6 2291.1h14.6M121.6 2268.5h7.3M121.6 2245.9h14.6M121.6 2223.2h7.3M121.6 2200.6h14.6M121.6 2178h7.3M121.6 2155.4h14.6M121.6 2132.8h7.3M121.6 2110.2h14.6M121.6 2087.6h7.3M121.6 2064.9h14.6M121.6 2042.3h7.3M121.6 2019.7h14.6M121.6 1997.1h7.3M121.6 1974.5h14.6M192.2 2336.3v14.5M262.8 2336.3v14.5M333.4 2336.3v14.5M404 2336.3v14.5M474.6 2336.3v14.5" fill="none" stroke="#b6b6b6" stroke-width="1.2"/>
<g>
<text x="56.5" y="2345.5" font-size="26.0" textLength="49.1" lengthAdjust="spacingAndGlyphs">0.04</text>
<text x="56.8" y="2300.3" font-size="26.0" textLength="49.1" lengthAdjust="spacingAndGlyphs">0.08</text>
<text x="57" y="2255.1" font-size="26.0" textLength="49.1" lengthAdjust="spacingAndGlyphs">0.12</text>
<text x="56.8" y="2209.8" font-size="26.0" textLength="49.1" lengthAdjust="spacingAndGlyphs">0.16</text>
<text x="71" y="2164.6" font-size="26.0" textLength="35.1" lengthAdjust="spacingAndGlyphs">0.2</text>
<text x="56.5" y="2119.4" font-size="26.0" textLength="49.1" lengthAdjust="spacingAndGlyphs">0.24</text>
<text x="56.8" y="2074.1" font-size="26.0" textLength="49.1" lengthAdjust="spacingAndGlyphs">0.28</text>
<text x="57" y="2028.9" font-size="26.0" textLength="49.1" lengthAdjust="spacingAndGlyphs">0.32</text>
<text x="56.8" y="1983.7" font-size="26.0" textLength="49.1" lengthAdjust="spacingAndGlyphs">0.36</text>
<text x="109.4" y="2390.9" font-size="26.0" textLength="22.4" lengthAdjust="spacingAndGlyphs">-6</text>
<text x="180" y="2390.9" font-size="26.0" textLength="22.4" lengthAdjust="spacingAndGlyphs">-8</text>
<text x="243.6" y="2390.9" font-size="26.0" textLength="36.5" lengthAdjust="spacingAndGlyphs">-10</text>
<text x="314.3" y="2390.9" font-size="26.0" textLength="36.5" lengthAdjust="spacingAndGlyphs">-12</text>
<text x="384.7" y="2390.9" font-size="26.0" textLength="36.5" lengthAdjust="spacingAndGlyphs">-14</text>
<text x="455.4" y="2390.9" font-size="26.0" textLength="36.5" lengthAdjust="spacingAndGlyphs">-16</text>
</g>
<text transform="translate(42 2154.8) rotate(-90)" x="-98.3" font-size="26.0" textLength="196.2" lengthAdjust="spacingAndGlyphs">P/Ca (mmol/mol)</text>
<text><tspan x="125.2" y="2427.3" font-size="26.2" textLength="13.9" lengthAdjust="spacingAndGlyphs" font-family='"Liberation Serif", "DejaVu Serif", serif'>δ</tspan><tspan x="139.2" y="2418.8" font-size="15.7" textLength="16.4" lengthAdjust="spacingAndGlyphs" class="sm">13</tspan><tspan x="156.7" y="2427.6" font-size="26.0" textLength="14.3" lengthAdjust="spacingAndGlyphs">C</tspan><tspan x="170.6" y="2434.2" font-size="15.3" textLength="22.3" lengthAdjust="spacingAndGlyphs" class="sm">init</tspan><tspan x="191.8" y="2427.6" font-size="26.0" textLength="54.2" lengthAdjust="spacingAndGlyphs"> (‰)</tspan><tspan x="244.8" y="2427.6" font-size="26.0" textLength="39" lengthAdjust="spacingAndGlyphs"> --&gt;</tspan><tspan x="283.2" y="2427.6" font-size="26.0" textLength="94.9" lengthAdjust="spacingAndGlyphs"> warmer</tspan></text>
<text><tspan x="251.8" y="2466" font-size="26.0" textLength="32" lengthAdjust="spacingAndGlyphs">--&gt;</tspan><tspan x="281.6" y="2466" font-size="26.0" textLength="179.4" lengthAdjust="spacingAndGlyphs"> higher soil pCO</tspan><tspan x="460.7" y="2472.4" font-size="15.5" textLength="9.4" lengthAdjust="spacingAndGlyphs" class="sm">2</tspan></text>
<text x="141.3" y="2024.8" font-size="21.0" textLength="33.8" lengthAdjust="spacingAndGlyphs">NEI</text>
</g>
<g>
<g>
<circle class="y" cx="842.8" cy="266.4" r="4.85"/>
<path class="s" d="M873 223.9l10.8 0 0 10.8 -10.8 0z"/>
<path class="s" d="M862 225.7l10.8 0 0 10.8 -10.8 0z"/>
<path class="s" d="M861.1 233.7l10.8 0 0 10.8 -10.8 0z"/>
<path class="s" d="M860.1 243.5l10.8 0 0 10.8 -10.8 0z"/>
<path class="s" d="M874.9 243.8l10.8 0 0 10.8 -10.8 0z"/>
<path class="s" d="M879.2 254.8l10.8 0 0 10.8 -10.8 0z"/>
<path class="s" d="M856.1 257.9l10.8 0 0 10.8 -10.8 0z"/>
<path class="s" d="M844.2 263.8l10.8 0 0 10.8 -10.8 0z"/>
<path class="s" d="M897.2 261.7l10.8 0 0 10.8 -10.8 0z"/>
<path class="s" d="M899.2 264.8l10.8 0 0 10.8 -10.8 0z"/>
<circle class="y" cx="893.5" cy="245.2" r="4.85"/>
<circle class="y" cx="885.4" cy="248.3" r="4.85"/>
<path class="d" d="M888.5 56.2l5.2 5.2 -5.2 5.2 -5.2 -5.2z"/>
<path class="d" d="M861.5 270.1l5.2 5.2 -5.2 5.2 -5.2 -5.2z"/>
<path class="b" d="M909 353.9l6.9 -12 -13.8 0z"/>
<path class="s" d="M879.1 289.8l10.8 0 0 10.8 -10.8 0z"/>
<path class="s" d="M891.8 299.9l10.8 0 0 10.8 -10.8 0z"/>
<path class="s" d="M865 305.8l10.8 0 0 10.8 -10.8 0z"/>
<path class="s" d="M818.1 337.9l10.8 0 0 10.8 -10.8 0z"/>
<path class="s" d="M913 320.2l10.8 0 0 10.8 -10.8 0z"/>
<path class="s" d="M907.6 330.5l10.8 0 0 10.8 -10.8 0z"/>
<path class="s" d="M913.4 331.5l10.8 0 0 10.8 -10.8 0z"/>
<path class="s" d="M895.8 350.2l10.8 0 0 10.8 -10.8 0z"/>
<path class="s" d="M884 359l10.8 0 0 10.8 -10.8 0z"/>
<path class="s" d="M903.6 353.1l10.8 0 0 10.8 -10.8 0z"/>
<path class="s" d="M879.1 367.8l10.8 0 0 10.8 -10.8 0z"/>
<path class="s" d="M897.7 366.9l10.8 0 0 10.8 -10.8 0z"/>
<path class="s" d="M889.9 361l10.8 0 0 10.8 -10.8 0z"/>
<path class="s" d="M908.5 363.9l10.8 0 0 10.8 -10.8 0z"/>
<path class="s" d="M911.5 347.2l10.8 0 0 10.8 -10.8 0z"/>
<path class="s" d="M914.4 341.3l10.8 0 0 10.8 -10.8 0z"/>
<path class="s" d="M913.4 357l10.8 0 0 10.8 -10.8 0z"/>
<path class="d" d="M906.6 283.6l5.2 5.2 -5.2 5.2 -5.2 -5.2z"/>
<path class="d" d="M914.4 289l5.2 5.2 -5.2 5.2 -5.2 -5.2z"/>
<path class="d" d="M837.5 314.5l5.2 5.2 -5.2 5.2 -5.2 -5.2z"/>
<path class="d" d="M845.2 321.9l5.2 5.2 -5.2 5.2 -5.2 -5.2z"/>
<path class="d" d="M861.9 333.7l5.2 5.2 -5.2 5.2 -5.2 -5.2z"/>
<path class="d" d="M872.7 336.1l5.2 5.2 -5.2 5.2 -5.2 -5.2z"/>
<path class="d" d="M885.5 331.7l5.2 5.2 -5.2 5.2 -5.2 -5.2z"/>
<path class="d" d="M899.2 333.7l5.2 5.2 -5.2 5.2 -5.2 -5.2z"/>
<path class="d" d="M904.1 336.1l5.2 5.2 -5.2 5.2 -5.2 -5.2z"/>
<path class="d" d="M847.6 345.4l5.2 5.2 -5.2 5.2 -5.2 -5.2z"/>
<path class="d" d="M860.9 345.4l5.2 5.2 -5.2 5.2 -5.2 -5.2z"/>
<path class="d" d="M865.8 341.5l5.2 5.2 -5.2 5.2 -5.2 -5.2z"/>
<circle class="g" cx="865.3" cy="312.2" r="4.1"/>
<circle class="g" cx="863.8" cy="322.2" r="4.1"/>
<circle class="g" cx="862.4" cy="332" r="4.1"/>
<circle class="g" cx="871.2" cy="331" r="4.1"/>
<circle class="g" cx="905.6" cy="329" r="4.1"/>
<circle class="g" cx="813.5" cy="346.4" r="4.1"/>
<circle class="g" cx="841.3" cy="347.7" r="4.1"/>
<circle class="g" cx="863.8" cy="368.3" r="4.1"/>
<circle class="g" cx="850.1" cy="368.8" r="4.1"/>
<circle class="y" cx="828.5" cy="292.2" r="4.85"/>
<circle class="y" cx="847.4" cy="299.3" r="4.85"/>
<circle class="y" cx="852.6" cy="285.3" r="4.85"/>
<circle class="y" cx="872.2" cy="288.6" r="4.85"/>
<circle class="y" cx="917.4" cy="318.2" r="4.85"/>
<circle class="y" cx="856.5" cy="335.9" r="4.85"/>
<circle class="y" cx="833.4" cy="339.8" r="4.85"/>
<circle class="y" cx="841.8" cy="334" r="4.85"/>
<circle class="y" cx="835.4" cy="357.3" r="4.85"/>
<path class="t" d="M876.4 289.2l6.9 12 -13.8 0z"/>
<path class="t" d="M838.1 315.7l6.9 12 -13.8 0z"/>
<path class="t" d="M904.6 307.8l6.9 12 -13.8 0z"/>
<path class="t" d="M870.4 310.8l6.9 12 -13.8 0z"/>
<path class="t" d="M895.3 310.3l6.9 12 -13.8 0z"/>
<path class="t" d="M858.4 318.6l6.9 12 -13.8 0z"/>
<path class="t" d="M892.8 316.2l6.9 12 -13.8 0z"/>
<path class="t" d="M878.6 322.1l6.9 12 -13.8 0z"/>
<path class="t" d="M835.4 327.5l6.9 12 -13.8 0z"/>
<path class="t" d="M892.8 324l6.9 12 -13.8 0z"/>
<path class="t" d="M899.2 325.5l6.9 12 -13.8 0z"/>
<path class="t" d="M845.7 331.9l6.9 12 -13.8 0z"/>
<path class="t" d="M879.6 338.8l6.9 12 -13.8 0z"/>
<path class="t" d="M872.2 341.7l6.9 12 -13.8 0z"/>
<path class="t" d="M889.4 336.8l6.9 12 -13.8 0z"/>
<path class="d" d="M880.3 302l5.2 5.2 -5.2 5.2 -5.2 -5.2z"/>
<path class="d" d="M903.1 302.7l5.2 5.2 -5.2 5.2 -5.2 -5.2z"/>
<path class="d" d="M884.5 319.4l5.2 5.2 -5.2 5.2 -5.2 -5.2z"/>
<circle class="y" cx="896.3" cy="327.1" r="4.85"/>
<circle class="y" cx="877.6" cy="337.4" r="4.85"/>
<circle class="y" cx="911.5" cy="338.4" r="4.85"/>
<circle class="y" cx="887.4" cy="346.7" r="4.85"/>
<circle class="y" cx="895.3" cy="345.7" r="4.85"/>
<path class="b" d="M851.1 347.3l6.9 -12 -13.8 0z"/>
<path class="b" d="M828.5 356.6l6.9 -12 -13.8 0z"/>
<path class="b" d="M847.2 351.7l6.9 -12 -13.8 0z"/>
<path class="b" d="M854.5 351.7l6.9 -12 -13.8 0z"/>
<path class="t" d="M859.4 353.5l6.9 12 -13.8 0z"/>
<path class="t" d="M870.7 364.3l6.9 12 -13.8 0z"/>
<circle class="y" cx="850.4" cy="372.3" r="4.85"/>
<path class="d" d="M858.4 362.1l5.2 5.2 -5.2 5.2 -5.2 -5.2z"/>
<path class="d" d="M876.6 362.1l5.2 5.2 -5.2 5.2 -5.2 -5.2z"/>
<path class="d" d="M882.5 362.1l5.2 5.2 -5.2 5.2 -5.2 -5.2z"/>
<path class="d" d="M894.3 372.5l5.2 5.2 -5.2 5.2 -5.2 -5.2z"/>
<path class="d" d="M913 359.2l5.2 5.2 -5.2 5.2 -5.2 -5.2z"/>
<path class="x" d="M873.2 347.4l2.1 3.6 4.1 0 -2 3.6 2 3.6 -4.1 0 -2.1 3.6 -2.1 -3.6 -4.1 0 2 -3.6 -2 -3.6 4.1 0z"/>
<path class="x" d="M884.5 348.4l2.1 3.6 4.1 0 -2 3.6 2 3.6 -4.1 0 -2.1 3.6 -2.1 -3.6 -4.1 0 2 -3.6 -2 -3.6 4.1 0z"/>
<path class="p" d="M891 349.9l3.1 0 0 2.85 2.85 0 0 3.1 -2.85 0 0 2.85 -3.1 0 0 -2.85 -2.85 0 0 -3.1 2.85 0z"/>
<path class="p" d="M857.4 367.9l3.1 0 0 2.85 2.85 0 0 3.1 -2.85 0 0 2.85 -3.1 0 0 -2.85 -2.85 0 0 -3.1 2.85 0z"/>
<path class="p" d="M871.9 369.8l3.1 0 0 2.85 2.85 0 0 3.1 -2.85 0 0 2.85 -3.1 0 0 -2.85 -2.85 0 0 -3.1 2.85 0z"/>
<circle class="y" cx="917.7" cy="319.2" r="4.85"/>
<path class="s" d="M914.9 279.9l10.8 0 0 10.8 -10.8 0z"/>
<path class="s" d="M922.1 297.8l10.8 0 0 10.8 -10.8 0z"/>
<path class="s" d="M942.1 311.9l10.8 0 0 10.8 -10.8 0z"/>
<path class="s" d="M913 320.7l10.8 0 0 10.8 -10.8 0z"/>
<path class="s" d="M972.2 337.9l10.8 0 0 10.8 -10.8 0z"/>
<path class="s" d="M983.2 341.8l10.8 0 0 10.8 -10.8 0z"/>
<path class="s" d="M983.2 347.7l10.8 0 0 10.8 -10.8 0z"/>
<path class="s" d="M997.1 333.8l10.8 0 0 10.8 -10.8 0z"/>
<path class="s" d="M1006.1 347.9l10.8 0 0 10.8 -10.8 0z"/>
<path class="s" d="M935.1 331l10.8 0 0 10.8 -10.8 0z"/>
<path class="s" d="M925.2 331.5l10.8 0 0 10.8 -10.8 0z"/>
<path class="s" d="M915.4 331.5l10.8 0 0 10.8 -10.8 0z"/>
<path class="s" d="M911.5 341.3l10.8 0 0 10.8 -10.8 0z"/>
<path class="s" d="M922.3 341.3l10.8 0 0 10.8 -10.8 0z"/>
<path class="s" d="M938 343.3l10.8 0 0 10.8 -10.8 0z"/>
<path class="s" d="M917.4 351.1l10.8 0 0 10.8 -10.8 0z"/>
<path class="s" d="M928.2 353.1l10.8 0 0 10.8 -10.8 0z"/>
<path class="s" d="M933.1 363.9l10.8 0 0 10.8 -10.8 0z"/>
<path class="s" d="M918.4 365.9l10.8 0 0 10.8 -10.8 0z"/>
<path class="s" d="M909.5 365.9l10.8 0 0 10.8 -10.8 0z"/>
<path class="s" d="M925.2 359l10.8 0 0 10.8 -10.8 0z"/>
<path class="s" d="M954.7 347.2l10.8 0 0 10.8 -10.8 0z"/>
<circle class="y" cx="993.5" cy="351.4" r="4.85"/>
<circle class="y" cx="949.3" cy="362.4" r="4.85"/>
<circle class="y" cx="912.5" cy="338.4" r="4.85"/>
<path class="p" d="M962 284.9l3.1 0 0 2.85 2.85 0 0 3.1 -2.85 0 0 2.85 -3.1 0 0 -2.85 -2.85 0 0 -3.1 2.85 0z"/>
<path class="p" d="M926.9 314.8l3.1 0 0 2.85 2.85 0 0 3.1 -2.85 0 0 2.85 -3.1 0 0 -2.85 -2.85 0 0 -3.1 2.85 0z"/>
<path class="p" d="M939.9 319.9l3.1 0 0 2.85 2.85 0 0 3.1 -2.85 0 0 2.85 -3.1 0 0 -2.85 -2.85 0 0 -3.1 2.85 0z"/>
<path class="p" d="M992.9 322.9l3.1 0 0 2.85 2.85 0 0 3.1 -2.85 0 0 2.85 -3.1 0 0 -2.85 -2.85 0 0 -3.1 2.85 0z"/>
<path class="p" d="M932 326.6l3.1 0 0 2.85 2.85 0 0 3.1 -2.85 0 0 2.85 -3.1 0 0 -2.85 -2.85 0 0 -3.1 2.85 0z"/>
<path class="p" d="M936.9 339.9l3.1 0 0 2.85 2.85 0 0 3.1 -2.85 0 0 2.85 -3.1 0 0 -2.85 -2.85 0 0 -3.1 2.85 0z"/>
<path class="p" d="M937.9 345.8l3.1 0 0 2.85 2.85 0 0 3.1 -2.85 0 0 2.85 -3.1 0 0 -2.85 -2.85 0 0 -3.1 2.85 0z"/>
<path class="p" d="M948.2 336.9l3.1 0 0 2.85 2.85 0 0 3.1 -2.85 0 0 2.85 -3.1 0 0 -2.85 -2.85 0 0 -3.1 2.85 0z"/>
<path class="p" d="M950.7 349.2l3.1 0 0 2.85 2.85 0 0 3.1 -2.85 0 0 2.85 -3.1 0 0 -2.85 -2.85 0 0 -3.1 2.85 0z"/>
<path class="p" d="M952.7 352.1l3.1 0 0 2.85 2.85 0 0 3.1 -2.85 0 0 2.85 -3.1 0 0 -2.85 -2.85 0 0 -3.1 2.85 0z"/>
<path class="p" d="M963 349.7l3.1 0 0 2.85 2.85 0 0 3.1 -2.85 0 0 2.85 -3.1 0 0 -2.85 -2.85 0 0 -3.1 2.85 0z"/>
<path class="p" d="M960.5 356.1l3.1 0 0 2.85 2.85 0 0 3.1 -2.85 0 0 2.85 -3.1 0 0 -2.85 -2.85 0 0 -3.1 2.85 0z"/>
<path class="p" d="M964.4 362l3.1 0 0 2.85 2.85 0 0 3.1 -2.85 0 0 2.85 -3.1 0 0 -2.85 -2.85 0 0 -3.1 2.85 0z"/>
<path class="p" d="M935 363.9l3.1 0 0 2.85 2.85 0 0 3.1 -2.85 0 0 2.85 -3.1 0 0 -2.85 -2.85 0 0 -3.1 2.85 0z"/>
<path class="p" d="M976.7 346.2l3.1 0 0 2.85 2.85 0 0 3.1 -2.85 0 0 2.85 -3.1 0 0 -2.85 -2.85 0 0 -3.1 2.85 0z"/>
<path class="p" d="M985.1 357.1l3.1 0 0 2.85 2.85 0 0 3.1 -2.85 0 0 2.85 -3.1 0 0 -2.85 -2.85 0 0 -3.1 2.85 0z"/>
<path class="p" d="M987 361l3.1 0 0 2.85 2.85 0 0 3.1 -2.85 0 0 2.85 -3.1 0 0 -2.85 -2.85 0 0 -3.1 2.85 0z"/>
<path class="p" d="M986.5 364.9l3.1 0 0 2.85 2.85 0 0 3.1 -2.85 0 0 2.85 -3.1 0 0 -2.85 -2.85 0 0 -3.1 2.85 0z"/>
<path class="p" d="M994.9 356.1l3.1 0 0 2.85 2.85 0 0 3.1 -2.85 0 0 2.85 -3.1 0 0 -2.85 -2.85 0 0 -3.1 2.85 0z"/>
<path class="p" d="M1006.2 357.1l3.1 0 0 2.85 2.85 0 0 3.1 -2.85 0 0 2.85 -3.1 0 0 -2.85 -2.85 0 0 -3.1 2.85 0z"/>
<path class="p" d="M1018.5 361l3.1 0 0 2.85 2.85 0 0 3.1 -2.85 0 0 2.85 -3.1 0 0 -2.85 -2.85 0 0 -3.1 2.85 0z"/>
<path class="p" d="M1022.4 363.9l3.1 0 0 2.85 2.85 0 0 3.1 -2.85 0 0 2.85 -3.1 0 0 -2.85 -2.85 0 0 -3.1 2.85 0z"/>
<path class="p" d="M1026.8 366.9l3.1 0 0 2.85 2.85 0 0 3.1 -2.85 0 0 2.85 -3.1 0 0 -2.85 -2.85 0 0 -3.1 2.85 0z"/>
<path class="p" d="M1028.3 338.4l3.1 0 0 2.85 2.85 0 0 3.1 -2.85 0 0 2.85 -3.1 0 0 -2.85 -2.85 0 0 -3.1 2.85 0z"/>
<path class="d" d="M914.9 289l5.2 5.2 -5.2 5.2 -5.2 -5.2z"/>
<path class="d" d="M966.5 316l5.2 5.2 -5.2 5.2 -5.2 -5.2z"/>
<path class="d" d="M950.3 328.8l5.2 5.2 -5.2 5.2 -5.2 -5.2z"/>
<path class="d" d="M955.7 339.6l5.2 5.2 -5.2 5.2 -5.2 -5.2z"/>
<path class="d" d="M966.5 337.1l5.2 5.2 -5.2 5.2 -5.2 -5.2z"/>
<path class="d" d="M971.9 337.6l5.2 5.2 -5.2 5.2 -5.2 -5.2z"/>
<path class="d" d="M962.1 340.5l5.2 5.2 -5.2 5.2 -5.2 -5.2z"/>
<path class="d" d="M926.2 349.1l5.2 5.2 -5.2 5.2 -5.2 -5.2z"/>
<path class="d" d="M942.4 350.4l5.2 5.2 -5.2 5.2 -5.2 -5.2z"/>
<path class="d" d="M953.2 343.5l5.2 5.2 -5.2 5.2 -5.2 -5.2z"/>
<path class="d" d="M971.9 346.4l5.2 5.2 -5.2 5.2 -5.2 -5.2z"/>
<path class="d" d="M1011.4 338.6l5.2 5.2 -5.2 5.2 -5.2 -5.2z"/>
<path class="d" d="M1003.3 342l5.2 5.2 -5.2 5.2 -5.2 -5.2z"/>
<path class="d" d="M1023.4 340.5l5.2 5.2 -5.2 5.2 -5.2 -5.2z"/>
<path class="d" d="M1025.9 349.4l5.2 5.2 -5.2 5.2 -5.2 -5.2z"/>
<path class="d" d="M999.4 352.8l5.2 5.2 -5.2 5.2 -5.2 -5.2z"/>
<path class="d" d="M977.8 356.3l5.2 5.2 -5.2 5.2 -5.2 -5.2z"/>
<path class="d" d="M958.1 353.3l5.2 5.2 -5.2 5.2 -5.2 -5.2z"/>
<path class="d" d="M969.9 351.3l5.2 5.2 -5.2 5.2 -5.2 -5.2z"/>
<path class="d" d="M950.3 360.2l5.2 5.2 -5.2 5.2 -5.2 -5.2z"/>
<path class="d" d="M959.1 362.1l5.2 5.2 -5.2 5.2 -5.2 -5.2z"/>
<path class="d" d="M956.2 367.5l5.2 5.2 -5.2 5.2 -5.2 -5.2z"/>
<path class="d" d="M985.3 369.5l5.2 5.2 -5.2 5.2 -5.2 -5.2z"/>
<path class="d" d="M927.2 363.1l5.2 5.2 -5.2 5.2 -5.2 -5.2z"/>
<path class="d" d="M913.9 358.2l5.2 5.2 -5.2 5.2 -5.2 -5.2z"/>
<path class="d" d="M1028.8 355.3l5.2 5.2 -5.2 5.2 -5.2 -5.2z"/>
<path class="d" d="M1029.8 345.4l5.2 5.2 -5.2 5.2 -5.2 -5.2z"/>
<path class="p" d="M1035.9 341.9l3.1 0 0 2.85 2.85 0 0 3.1 -2.85 0 0 2.85 -3.1 0 0 -2.85 -2.85 0 0 -3.1 2.85 0z"/>
<path class="p" d="M1055 341.9l3.1 0 0 2.85 2.85 0 0 3.1 -2.85 0 0 2.85 -3.1 0 0 -2.85 -2.85 0 0 -3.1 2.85 0z"/>
<path class="p" d="M1066.8 355l3.1 0 0 2.85 2.85 0 0 3.1 -2.85 0 0 2.85 -3.1 0 0 -2.85 -2.85 0 0 -3.1 2.85 0z"/>
<path class="p" d="M1060.9 360l3.1 0 0 2.85 2.85 0 0 3.1 -2.85 0 0 2.85 -3.1 0 0 -2.85 -2.85 0 0 -3.1 2.85 0z"/>
<path class="p" d="M1047.8 362.9l3.1 0 0 2.85 2.85 0 0 3.1 -2.85 0 0 2.85 -3.1 0 0 -2.85 -2.85 0 0 -3.1 2.85 0z"/>
<path class="p" d="M1098.9 366l3.1 0 0 2.85 2.85 0 0 3.1 -2.85 0 0 2.85 -3.1 0 0 -2.85 -2.85 0 0 -3.1 2.85 0z"/>
<path class="d" d="M1032.8 352.9l5.2 5.2 -5.2 5.2 -5.2 -5.2z"/>
<path class="d" d="M1033.6 361.1l5.2 5.2 -5.2 5.2 -5.2 -5.2z"/>
</g>
<polyline fill="none" stroke="#8c1414" stroke-width="1.1" points="939.4,308.4 942.4,308.4 945.4,308.5 948.4,308.5 951.4,308.5 954.4,308.5 957.4,308.6 960.4,308.6 963.4,308.6 966.4,308.6 969.4,308.7 972.4,308.7 975.4,308.7 978.4,308.8 981.4,308.8 984.4,308.8 987.4,308.8 990.4,308.9 993.4,308.9 996.4,308.9 999.4,309 1002.4,309 1005.4,309.1 1008.4,309.1 1011.4,309.2 1014.4,309.2 1017.4,309.3 1020.4,309.4 1023.4,309.4 1026.4,309.5 1029.4,309.6 1032.4,309.8 1035.3,309.9 1038.3,310.1 1041.3,310.3 1044.3,310.4 1047.3,310.1 1050.3,309.9 1053.3,309.7 1056.3,309.5 1059.3,309.3 1062.3,309 1065.3,308.8 1068.3,308.6 1071.3,308.3 1074.2,308.1 1077.2,307.8 1080.2,307.6 1083.2,307.4 1086.2,307.1 1089.2,306.9 1092.2,306.6 1092.7,306.6"/>
<path fill="none" stroke="#9c2323" stroke-width="1" d="M939.4 308.4l0.5 3.7M942.8 308.4l0.5 3.7M946.3 308.5l0.5 3.7M949.7 308.5l0.5 3.7M953.2 308.5l0.5 3.7M956.6 308.6l0.5 3.7M960.1 308.6l0.5 3.7M963.5 308.6l0.5 3.7M967 308.6l0.5 3.7M970.4 308.7l0.5 3.7M973.9 308.7l0.5 3.7M977.3 308.7l0.5 3.7M980.8 308.8l0.5 3.7M984.2 308.8l0.5 3.7M987.7 308.8l0.5 3.7M991.1 308.9l0.5 3.7M994.6 308.9l0.5 3.7M998 308.9l0.5 3.7M1001.5 309l0.5 3.7M1004.9 309.1l0.5 3.7M1008.4 309.1l0.5 3.7M1011.8 309.2l0.5 3.7M1015.3 309.3l0.5 3.7M1018.7 309.3l0.5 3.7M1022.2 309.4l0.5 3.7M1025.6 309.4l0.5 3.7M1029.1 309.6l0.5 3.7M1032.5 309.8l0.5 3.7M1035.9 310l0.5 3.7M1039.4 310.2l0.5 3.7M1042.8 310.4l0.5 3.7M1046.3 310.2l0.5 3.7M1049.7 310l0.5 3.7M1053.2 309.7l0.5 3.7M1056.6 309.5l0.5 3.7M1060 309.2l0.5 3.7M1063.5 308.9l0.5 3.7M1066.9 308.7l0.5 3.7M1070.4 308.4l0.5 3.7M1073.8 308.1l0.5 3.7M1077.2 307.8l0.5 3.7M1080.7 307.6l0.5 3.7M1084.1 307.3l0.5 3.7M1087.6 307l0.5 3.7M1091 306.7l0.5 3.7"/>
<polyline fill="none" stroke="#0b66d4" stroke-width="2.9" stroke-linecap="round" stroke-dasharray="0.1 4.35" points="780.3,334.8 1038.3,334.7 1066.6,334.2 1093.8,332.9"/>
<rect x="845.1" y="41.8" width="73.8" height="367.4" fill="#808080" fill-opacity="0.2"/>
<path d="M755.6 46.8V423.7M755 409.2H1109.6M755.6 391.1h7.3M755.6 373h14.6M755.6 354.9h7.3M755.6 336.8h14.6M755.6 318.8h7.3M755.6 300.7h14.6M755.6 282.6h7.3M755.6 264.5h14.6M755.6 246.4h7.3M755.6 228.3h14.6M755.6 210.2h7.3M755.6 192.1h14.6M755.6 174h7.3M755.6 155.9h14.6M755.6 137.8h7.3M755.6 119.8h14.6M755.6 101.7h7.3M755.6 83.6h14.6M755.6 65.5h7.3M755.6 47.4h14.6M826.3 409.2v14.5M897 409.2v14.5M967.6 409.2v14.5M1038.3 409.2v14.5M1109 409.2v14.5" fill="none" stroke="#b6b6b6" stroke-width="1.2"/>
<g>
<text x="725.7" y="418.4" font-size="26.0" textLength="14" lengthAdjust="spacingAndGlyphs">0</text>
<text x="690.8" y="382.2" font-size="26.0" textLength="49.1" lengthAdjust="spacingAndGlyphs">0.05</text>
<text x="704.9" y="346" font-size="26.0" textLength="35.1" lengthAdjust="spacingAndGlyphs">0.1</text>
<text x="690.8" y="309.9" font-size="26.0" textLength="49.1" lengthAdjust="spacingAndGlyphs">0.15</text>
<text x="705" y="273.7" font-size="26.0" textLength="35.1" lengthAdjust="spacingAndGlyphs">0.2</text>
<text x="690.8" y="237.5" font-size="26.0" textLength="49.1" lengthAdjust="spacingAndGlyphs">0.25</text>
<text x="704.8" y="201.3" font-size="26.0" textLength="35.1" lengthAdjust="spacingAndGlyphs">0.3</text>
<text x="690.8" y="165.1" font-size="26.0" textLength="49.1" lengthAdjust="spacingAndGlyphs">0.35</text>
<text x="704.5" y="129" font-size="26.0" textLength="35.1" lengthAdjust="spacingAndGlyphs">0.4</text>
<text x="690.8" y="92.8" font-size="26.0" textLength="49.1" lengthAdjust="spacingAndGlyphs">0.45</text>
<text x="704.8" y="56.6" font-size="26.0" textLength="35.1" lengthAdjust="spacingAndGlyphs">0.5</text>
<text x="743.4" y="463.8" font-size="26.0" textLength="22.4" lengthAdjust="spacingAndGlyphs">-8</text>
<text x="814.2" y="463.8" font-size="26.0" textLength="22.4" lengthAdjust="spacingAndGlyphs">-9</text>
<text x="877.7" y="463.8" font-size="26.0" textLength="36.5" lengthAdjust="spacingAndGlyphs">-10</text>
<text x="949.5" y="463.8" font-size="26.0" textLength="34.6" lengthAdjust="spacingAndGlyphs">-11</text>
<text x="1019.3" y="463.8" font-size="26.0" textLength="36.5" lengthAdjust="spacingAndGlyphs">-12</text>
<text x="1089.8" y="463.8" font-size="26.0" textLength="36.5" lengthAdjust="spacingAndGlyphs">-13</text>
</g>
<text transform="translate(675.6 227.7) rotate(-90)" x="-98.3" font-size="26.0" textLength="196.2" lengthAdjust="spacingAndGlyphs">P/Ca (mmol/mol)</text>
<text><tspan x="804.7" y="500.2" font-size="26.2" textLength="13.9" lengthAdjust="spacingAndGlyphs" font-family='"Liberation Serif", "DejaVu Serif", serif'>δ</tspan><tspan x="818.7" y="491.7" font-size="15.7" textLength="16.4" lengthAdjust="spacingAndGlyphs" class="sm">13</tspan><tspan x="836.2" y="500.5" font-size="26.0" textLength="14.3" lengthAdjust="spacingAndGlyphs">C</tspan><tspan x="850.1" y="507.1" font-size="15.3" textLength="22.3" lengthAdjust="spacingAndGlyphs" class="sm">init</tspan><tspan x="871.3" y="500.5" font-size="26.0" textLength="54.2" lengthAdjust="spacingAndGlyphs"> (‰)</tspan><tspan x="924.3" y="500.5" font-size="26.0" textLength="39" lengthAdjust="spacingAndGlyphs"> --&gt;</tspan><tspan x="962.7" y="500.5" font-size="26.0" textLength="94.9" lengthAdjust="spacingAndGlyphs"> warmer</tspan></text>
<text x="782.3" y="70" font-size="21.0" textLength="35.5" lengthAdjust="spacingAndGlyphs">BEL</text>
</g>
<g>
<g>
<circle class="g" cx="902.6" cy="566.5" r="4.1"/>
<circle class="g" cx="900.7" cy="605.5" r="4.1"/>
<circle class="g" cx="921.7" cy="604.3" r="4.1"/>
<circle class="g" cx="916.5" cy="609.5" r="4.1"/>
<circle class="g" cx="899.6" cy="619.4" r="4.1"/>
<circle class="g" cx="918.6" cy="640.5" r="4.1"/>
<circle class="g" cx="906.6" cy="655.5" r="4.1"/>
<circle class="g" cx="872.6" cy="669.4" r="4.1"/>
<circle class="g" cx="905.6" cy="672.3" r="4.1"/>
<circle class="g" cx="929.4" cy="679.2" r="4.1"/>
<path class="t" d="M873.6 645.8l6.9 12 -13.8 0z"/>
<path class="b" d="M867.5 660.5l6.9 -12 -13.8 0z"/>
<path class="b" d="M893.4 664.4l6.9 -12 -13.8 0z"/>
<path class="t" d="M873.5 645.5l6.9 12 -13.8 0z"/>
<path class="b" d="M867.2 660.9l6.9 -12 -13.8 0z"/>
<path class="b" d="M813.3 779.1l6.9 -12 -13.8 0z"/>
<circle class="g" cx="812.6" cy="728.4" r="4.1"/>
<circle class="g" cx="809.6" cy="740.4" r="4.1"/>
<circle class="g" cx="854.2" cy="733.4" r="4.1"/>
<circle class="g" cx="782.6" cy="760.5" r="4.1"/>
<circle class="g" cx="795.5" cy="765.4" r="4.1"/>
<circle class="g" cx="804.4" cy="770.3" r="4.1"/>
<circle class="g" cx="816.6" cy="769.5" r="4.1"/>
<circle class="g" cx="850.5" cy="771.3" r="4.1"/>
<circle class="g" cx="762.5" cy="775.2" r="4.1"/>
<path class="b" d="M816.6 711.2l6.9 -12 -13.8 0z"/>
<path class="b" d="M806.3 757l6.9 -12 -13.8 0z"/>
<path class="b" d="M820.6 757l6.9 -12 -13.8 0z"/>
<path class="b" d="M838.5 757l6.9 -12 -13.8 0z"/>
<path class="b" d="M826.4 774.2l6.9 -12 -13.8 0z"/>
<path class="b" d="M836.6 774.6l6.9 -12 -13.8 0z"/>
<path class="b" d="M840.3 780.4l6.9 -12 -13.8 0z"/>
<path class="t" d="M921.5 707.8l6.9 12 -13.8 0z"/>
<path class="t" d="M894.5 737.3l6.9 12 -13.8 0z"/>
<path class="t" d="M913.3 747.9l6.9 12 -13.8 0z"/>
<path class="t" d="M920.6 747.9l6.9 12 -13.8 0z"/>
<path class="t" d="M927.2 763.5l6.9 12 -13.8 0z"/>
<path class="b" d="M930.1 705.1l6.9 -12 -13.8 0z"/>
<path class="b" d="M927.2 726.4l6.9 -12 -13.8 0z"/>
<path class="b" d="M903.5 764.4l6.9 -12 -13.8 0z"/>
<path class="b" d="M879.7 774.6l6.9 -12 -13.8 0z"/>
<circle class="g" cx="914.5" cy="683.4" r="4.1"/>
<circle class="g" cx="929.5" cy="680.3" r="4.1"/>
<circle class="g" cx="923.5" cy="686" r="4.1"/>
<circle class="g" cx="921.5" cy="691.3" r="4.1"/>
<circle class="g" cx="931.7" cy="690.1" r="4.1"/>
<circle class="g" cx="937.8" cy="691.3" r="4.1"/>
<circle class="g" cx="918.6" cy="700.3" r="4.1"/>
<circle class="g" cx="943.6" cy="709.3" r="4.1"/>
<circle class="g" cx="922.7" cy="721.2" r="4.1"/>
<circle class="g" cx="955.4" cy="725.3" r="4.1"/>
<circle class="g" cx="867" cy="727.7" r="4.1"/>
<circle class="g" cx="868.3" cy="718.7" r="4.1"/>
<circle class="g" cx="856" cy="733.4" r="4.1"/>
<circle class="g" cx="920.2" cy="733.4" r="4.1"/>
<circle class="g" cx="922.7" cy="742.4" r="4.1"/>
<circle class="g" cx="878.1" cy="744.1" r="4.1"/>
<circle class="g" cx="868.3" cy="748.2" r="4.1"/>
<circle class="g" cx="868.3" cy="751.4" r="4.1"/>
<circle class="g" cx="872.4" cy="759.2" r="4.1"/>
<circle class="g" cx="868.3" cy="764.5" r="4.1"/>
<circle class="g" cx="896.1" cy="765" r="4.1"/>
<circle class="g" cx="902.6" cy="765" r="4.1"/>
<circle class="g" cx="924.7" cy="751.4" r="4.1"/>
<circle class="g" cx="923.1" cy="762.9" r="4.1"/>
<circle class="g" cx="921.5" cy="767.8" r="4.1"/>
<circle class="g" cx="941.9" cy="741.6" r="4.1"/>
<circle class="g" cx="948.5" cy="743.3" r="4.1"/>
<circle class="g" cx="954.2" cy="744.1" r="4.1"/>
<circle class="g" cx="931.3" cy="741.6" r="4.1"/>
<circle class="g" cx="937.8" cy="743.3" r="4.1"/>
<circle class="g" cx="947.7" cy="747.4" r="4.1"/>
<circle class="g" cx="940.3" cy="752.3" r="4.1"/>
<circle class="g" cx="932.9" cy="756.4" r="4.1"/>
<circle class="g" cx="936.2" cy="759.6" r="4.1"/>
<circle class="g" cx="934.6" cy="767.8" r="4.1"/>
<circle class="g" cx="953.4" cy="754.7" r="4.1"/>
<circle class="g" cx="896.9" cy="774.4" r="4.1"/>
<circle class="g" cx="884.6" cy="776.8" r="4.1"/>
<circle class="g" cx="929.6" cy="773.5" r="4.1"/>
<circle class="g" cx="946" cy="775.2" r="4.1"/>
<path class="t" d="M885.5 703.3l6.9 12 -13.8 0z"/>
<path class="t" d="M885.5 711.1l6.9 12 -13.8 0z"/>
<path class="t" d="M897.6 709.9l6.9 12 -13.8 0z"/>
<path class="t" d="M905.5 709l6.9 12 -13.8 0z"/>
<path class="t" d="M899.4 719.3l6.9 12 -13.8 0z"/>
<path class="t" d="M886.4 738.9l6.9 12 -13.8 0z"/>
<path class="t" d="M932.5 738.9l6.9 12 -13.8 0z"/>
<path class="t" d="M876.5 746.3l6.9 12 -13.8 0z"/>
<path class="t" d="M886.4 750.4l6.9 12 -13.8 0z"/>
<path class="t" d="M911.6 742.2l6.9 12 -13.8 0z"/>
<path class="t" d="M911.6 751.2l6.9 12 -13.8 0z"/>
<path class="t" d="M910.8 758.5l6.9 12 -13.8 0z"/>
<path class="t" d="M946.4 753.2l6.9 12 -13.8 0z"/>
<path class="t" d="M946.8 760.2l6.9 12 -13.8 0z"/>
<path class="t" d="M911.6 770l6.9 12 -13.8 0z"/>
<path class="t" d="M895.3 767.5l6.9 12 -13.8 0z"/>
<path class="b" d="M857.6 692l6.9 -12 -13.8 0z"/>
<path class="b" d="M870.7 696.9l6.9 -12 -13.8 0z"/>
<path class="b" d="M880 704.9l6.9 -12 -13.8 0z"/>
<path class="b" d="M871.4 727.6l6.9 -12 -13.8 0z"/>
<path class="b" d="M869.3 739.9l6.9 -12 -13.8 0z"/>
<path class="b" d="M871.4 750.5l6.9 -12 -13.8 0z"/>
<path class="b" d="M924.3 710.8l6.9 -12 -13.8 0z"/>
<path class="b" d="M928.8 717.4l6.9 -12 -13.8 0z"/>
<path class="b" d="M921.9 723.9l6.9 -12 -13.8 0z"/>
<path class="b" d="M923.5 735.8l6.9 -12 -13.8 0z"/>
<path class="b" d="M918.6 752.9l6.9 -12 -13.8 0z"/>
<path class="b" d="M895.7 761.1l6.9 -12 -13.8 0z"/>
<path class="b" d="M888.3 771.8l6.9 -12 -13.8 0z"/>
<path class="b" d="M884.6 781.2l6.9 -12 -13.8 0z"/>
<path class="b" d="M864.2 783.8l6.9 -12 -13.8 0z"/>
<circle class="g" cx="933.7" cy="700.3" r="4.1"/>
<circle class="g" cx="934.6" cy="705.6" r="4.1"/>
<circle class="g" cx="911.5" cy="715" r="4.1"/>
<circle class="g" cx="931.7" cy="715.4" r="4.1"/>
<circle class="g" cx="878.9" cy="728.9" r="4.1"/>
<circle class="g" cx="883.8" cy="730.2" r="4.1"/>
<circle class="g" cx="881.8" cy="737.1" r="4.1"/>
<circle class="g" cx="906.6" cy="740.2" r="4.1"/>
<circle class="g" cx="893.6" cy="744.2" r="4.1"/>
<circle class="g" cx="898.4" cy="758.4" r="4.1"/>
<circle class="g" cx="944.4" cy="765.4" r="4.1"/>
<path class="u" d="M873.2 769.9l6.5 12 -13 0z"/>
<path class="b" d="M984.2 729.6l6.9 -12 -13.8 0z"/>
<path class="b" d="M991.6 731.3l6.9 -12 -13.8 0z"/>
<path class="b" d="M972 753.4l6.9 -12 -13.8 0z"/>
<path class="b" d="M982.2 754.6l6.9 -12 -13.8 0z"/>
<path class="b" d="M982.2 777.1l6.9 -12 -13.8 0z"/>
<path class="b" d="M982.6 783.2l6.9 -12 -13.8 0z"/>
<circle class="g" cx="966.6" cy="682.3" r="4.1"/>
<circle class="g" cx="986.5" cy="689.4" r="4.1"/>
<circle class="g" cx="1009.6" cy="701.4" r="4.1"/>
<circle class="g" cx="999.6" cy="709.3" r="4.1"/>
<circle class="g" cx="995.5" cy="714.4" r="4.1"/>
<circle class="g" cx="1009.6" cy="721.2" r="4.1"/>
<circle class="g" cx="1004.7" cy="725.3" r="4.1"/>
<circle class="g" cx="996.5" cy="727.5" r="4.1"/>
<circle class="g" cx="975.6" cy="718.3" r="4.1"/>
<circle class="g" cx="964.6" cy="723.2" r="4.1"/>
<circle class="g" cx="958.5" cy="726.1" r="4.1"/>
<circle class="g" cx="972.4" cy="724.4" r="4.1"/>
<circle class="g" cx="977.3" cy="727.7" r="4.1"/>
<circle class="g" cx="983" cy="727.7" r="4.1"/>
<circle class="g" cx="988.7" cy="733.4" r="4.1"/>
<circle class="g" cx="977.3" cy="732.6" r="4.1"/>
<circle class="g" cx="968.3" cy="734.3" r="4.1"/>
<circle class="g" cx="960.9" cy="735.1" r="4.1"/>
<circle class="g" cx="957.6" cy="731" r="4.1"/>
<circle class="g" cx="982.2" cy="739.2" r="4.1"/>
<circle class="g" cx="988.7" cy="740.8" r="4.1"/>
<circle class="g" cx="999.4" cy="742.4" r="4.1"/>
<circle class="g" cx="996.9" cy="746.5" r="4.1"/>
<circle class="g" cx="1017.5" cy="745.3" r="4.1"/>
<circle class="g" cx="990.4" cy="748.2" r="4.1"/>
<circle class="g" cx="988.7" cy="753.9" r="4.1"/>
<circle class="g" cx="995.3" cy="753.9" r="4.1"/>
<circle class="g" cx="1001" cy="755.5" r="4.1"/>
<circle class="g" cx="996.9" cy="758.8" r="4.1"/>
<circle class="g" cx="981.4" cy="758.8" r="4.1"/>
<circle class="g" cx="960.9" cy="749" r="4.1"/>
<circle class="g" cx="965.8" cy="753.1" r="4.1"/>
<circle class="g" cx="963.4" cy="758.8" r="4.1"/>
<circle class="g" cx="957.6" cy="762.9" r="4.1"/>
<circle class="g" cx="965" cy="760.5" r="4.1"/>
<circle class="g" cx="972.4" cy="767" r="4.1"/>
<circle class="g" cx="964.2" cy="771.9" r="4.1"/>
<circle class="g" cx="956" cy="744.9" r="4.1"/>
<circle class="g" cx="956" cy="753.9" r="4.1"/>
<path class="t" d="M961.7 736.4l6.9 12 -13.8 0z"/>
<path class="t" d="M1006.3 735.6l6.9 12 -13.8 0z"/>
<path class="t" d="M978.5 745.4l6.9 12 -13.8 0z"/>
<path class="t" d="M1005.9 749.5l6.9 12 -13.8 0z"/>
<path class="t" d="M1012.5 753.6l6.9 12 -13.8 0z"/>
<path class="t" d="M973.2 762.6l6.9 12 -13.8 0z"/>
<path class="t" d="M1000.2 763.5l6.9 12 -13.8 0z"/>
<path class="t" d="M1010.4 765.1l6.9 12 -13.8 0z"/>
<path class="t" d="M956 767.5l6.9 12 -13.8 0z"/>
<path class="t" d="M1007.6 770l6.9 12 -13.8 0z"/>
<path class="b" d="M789.6 803l6.9 -12 -13.8 0z"/>
<circle class="g" cx="762.5" cy="777" r="4.1"/>
<circle class="g" cx="783.8" cy="786" r="4.1"/>
<circle class="g" cx="778.5" cy="789.3" r="4.1"/>
<circle class="g" cx="809.6" cy="792.5" r="4.1"/>
<circle class="g" cx="772.6" cy="804.4" r="4.1"/>
<circle class="g" cx="790.6" cy="808.5" r="4.1"/>
<circle class="g" cx="799.6" cy="817.5" r="4.1"/>
<circle class="g" cx="816.6" cy="815.4" r="4.1"/>
<circle class="g" cx="826.5" cy="799.2" r="4.1"/>
<circle class="g" cx="827.2" cy="803.2" r="4.1"/>
<circle class="g" cx="833.6" cy="839.3" r="4.1"/>
<circle class="g" cx="842.6" cy="836.3" r="4.1"/>
<circle class="g" cx="849.5" cy="856.4" r="4.1"/>
<circle class="g" cx="854.2" cy="786.8" r="4.1"/>
<path class="t" d="M779.5 772.6l6.9 12 -13.8 0z"/>
<path class="t" d="M785.5 788.6l6.9 12 -13.8 0z"/>
<path class="t" d="M823.5 820.5l6.9 12 -13.8 0z"/>
<path class="u" d="M840.7 816.3l6.5 12 -13 0z"/>
<path class="u" d="M848.5 784l6.5 12 -13 0z"/>
<path class="b" d="M797.3 792.8l6.9 -12 -13.8 0z"/>
<path class="b" d="M805.9 794.4l6.9 -12 -13.8 0z"/>
<path class="b" d="M814.5 780.5l6.9 -12 -13.8 0z"/>
<path class="b" d="M834.6 792.8l6.9 -12 -13.8 0z"/>
<path class="b" d="M838.7 788.7l6.9 -12 -13.8 0z"/>
<path class="b" d="M845.2 792l6.9 -12 -13.8 0z"/>
<path class="b" d="M850.1 787.1l6.9 -12 -13.8 0z"/>
<path class="b" d="M841.1 802.6l6.9 -12 -13.8 0z"/>
<path class="b" d="M846 803.4l6.9 -12 -13.8 0z"/>
<path class="b" d="M854.2 800.2l6.9 -12 -13.8 0z"/>
<path class="b" d="M837 812.4l6.9 -12 -13.8 0z"/>
<path class="b" d="M848.5 814.1l6.9 -12 -13.8 0z"/>
<path class="b" d="M820.6 819l6.9 -12 -13.8 0z"/>
<path class="b" d="M831.3 819.8l6.9 -12 -13.8 0z"/>
<path class="b" d="M839.5 823.9l6.9 -12 -13.8 0z"/>
<path class="b" d="M847.7 818.2l6.9 -12 -13.8 0z"/>
<path class="b" d="M854.2 823.1l6.9 -12 -13.8 0z"/>
<path class="b" d="M834.6 826.4l6.9 -12 -13.8 0z"/>
<path class="b" d="M821.5 848.4l6.9 -12 -13.8 0z"/>
<path class="b" d="M855 834.5l6.9 -12 -13.8 0z"/>
<path class="b" d="M855 846l6.9 -12 -13.8 0z"/>
<path class="t" d="M911.6 774.3l6.9 12 -13.8 0z"/>
<path class="t" d="M919.8 773.4l6.9 12 -13.8 0z"/>
<path class="t" d="M930.5 790.6l6.9 12 -13.8 0z"/>
<path class="t" d="M941.9 772.6l6.9 12 -13.8 0z"/>
<path class="t" d="M892.8 771.8l6.9 12 -13.8 0z"/>
<path class="t" d="M954.2 771.8l6.9 12 -13.8 0z"/>
<circle class="g" cx="859.3" cy="780.3" r="4.1"/>
<circle class="g" cx="897.7" cy="786" r="4.1"/>
<circle class="g" cx="905.5" cy="793.2" r="4.1"/>
<circle class="g" cx="919" cy="791.7" r="4.1"/>
<circle class="g" cx="920.6" cy="795.8" r="4.1"/>
<circle class="g" cx="929.6" cy="791.7" r="4.1"/>
<circle class="g" cx="936.2" cy="791.7" r="4.1"/>
<circle class="g" cx="940.3" cy="792.5" r="4.1"/>
<circle class="g" cx="928" cy="781.1" r="4.1"/>
<circle class="g" cx="934.6" cy="780.3" r="4.1"/>
<circle class="g" cx="948.5" cy="783.5" r="4.1"/>
<circle class="g" cx="899.4" cy="778.6" r="4.1"/>
<circle class="g" cx="868.3" cy="804.8" r="4.1"/>
<circle class="g" cx="899.8" cy="812.2" r="4.1"/>
<circle class="g" cx="909.2" cy="812.2" r="4.1"/>
<circle class="g" cx="912.5" cy="810.5" r="4.1"/>
<circle class="g" cx="916.6" cy="818.3" r="4.1"/>
<circle class="g" cx="920.6" cy="817.9" r="4.1"/>
<circle class="g" cx="928.8" cy="819.1" r="4.1"/>
<circle class="g" cx="870.7" cy="826.1" r="4.1"/>
<circle class="g" cx="868.3" cy="847.8" r="4.1"/>
<circle class="g" cx="935.8" cy="828.9" r="4.1"/>
<circle class="g" cx="955" cy="803.2" r="4.1"/>
<circle class="g" cx="946" cy="825.3" r="4.1"/>
<path class="b" d="M858.5 786.3l6.9 -12 -13.8 0z"/>
<path class="b" d="M877.3 791.2l6.9 -12 -13.8 0z"/>
<path class="b" d="M888.7 792.8l6.9 -12 -13.8 0z"/>
<path class="b" d="M860.1 801l6.9 -12 -13.8 0z"/>
<path class="b" d="M892.8 803.4l6.9 -12 -13.8 0z"/>
<path class="b" d="M876.5 806.7l6.9 -12 -13.8 0z"/>
<path class="b" d="M893.6 810l6.9 -12 -13.8 0z"/>
<path class="b" d="M904.3 807.5l6.9 -12 -13.8 0z"/>
<path class="b" d="M859.3 815.7l6.9 -12 -13.8 0z"/>
<path class="b" d="M878.9 818.2l6.9 -12 -13.8 0z"/>
<path class="b" d="M868.3 822.3l6.9 -12 -13.8 0z"/>
<path class="b" d="M887.9 814.1l6.9 -12 -13.8 0z"/>
<path class="b" d="M883.8 810.8l6.9 -12 -13.8 0z"/>
<path class="b" d="M901.8 814.1l6.9 -12 -13.8 0z"/>
<path class="b" d="M872.4 829.6l6.9 -12 -13.8 0z"/>
<path class="b" d="M884.2 835.4l6.9 -12 -13.8 0z"/>
<path class="b" d="M902.2 830l6.9 -12 -13.8 0z"/>
<path class="b" d="M868.3 845.2l6.9 -12 -13.8 0z"/>
<path class="b" d="M897.3 855.8l6.9 -12 -13.8 0z"/>
<path class="b" d="M865.4 873l6.9 -12 -13.8 0z"/>
<path class="b" d="M937.8 823.1l6.9 -12 -13.8 0z"/>
<path class="b" d="M954.2 816.5l6.9 -12 -13.8 0z"/>
<circle class="g" cx="883.4" cy="820.4" r="4.1"/>
<circle class="g" cx="890.4" cy="821.2" r="4.1"/>
<circle class="g" cx="887.9" cy="817.9" r="4.1"/>
<path class="x" d="M913.3 824.6l2.1 3.6 4.1 0 -2 3.6 2 3.6 -4.1 0 -2.1 3.6 -2.1 -3.6 -4.1 0 2 -3.6 -2 -3.6 4.1 0z"/>
<path class="x" d="M926.4 822.2l2.1 3.6 4.1 0 -2 3.6 2 3.6 -4.1 0 -2.1 3.6 -2.1 -3.6 -4.1 0 2 -3.6 -2 -3.6 4.1 0z"/>
<path class="x" d="M922.3 831.2l2.1 3.6 4.1 0 -2 3.6 2 3.6 -4.1 0 -2.1 3.6 -2.1 -3.6 -4.1 0 2 -3.6 -2 -3.6 4.1 0z"/>
<path class="u" d="M869.9 777.4l6.5 12 -13 0z"/>
<path class="u" d="M880.5 787.2l6.5 12 -13 0z"/>
<path class="u" d="M910.8 795l6.5 12 -13 0z"/>
<path class="u" d="M874.8 821.6l6.5 12 -13 0z"/>
<path class="u" d="M906.3 824.1l6.5 12 -13 0z"/>
<path class="u" d="M860.9 832.3l6.5 12 -13 0z"/>
<path class="u" d="M880.5 836.8l6.5 12 -13 0z"/>
<path class="u" d="M907.6 838.8l6.5 12 -13 0z"/>
<path class="u" d="M878.9 847l6.5 12 -13 0z"/>
<path class="u" d="M885.5 850.3l6.5 12 -13 0z"/>
<path class="u" d="M889.6 851.1l6.5 12 -13 0z"/>
<path class="u" d="M892.8 852.7l6.5 12 -13 0z"/>
<path class="u" d="M876.5 861.7l6.5 12 -13 0z"/>
<path class="u" d="M919.8 828.2l6.5 12 -13 0z"/>
<path class="u" d="M938.7 817.5l6.5 12 -13 0z"/>
<path class="u" d="M863.4 804.4l6.5 12 -13 0z"/>
<path class="x" d="M861.3 820.9l2.1 3.6 4.1 0 -2 3.6 2 3.6 -4.1 0 -2.1 3.6 -2.1 -3.6 -4.1 0 2 -3.6 -2 -3.6 4.1 0z"/>
<path class="x" d="M860.5 841l2.1 3.6 4.1 0 -2 3.6 2 3.6 -4.1 0 -2.1 3.6 -2.1 -3.6 -4.1 0 2 -3.6 -2 -3.6 4.1 0z"/>
<path class="x" d="M951.3 810.7l2.1 3.6 4.1 0 -2 3.6 2 3.6 -4.1 0 -2.1 3.6 -2.1 -3.6 -4.1 0 2 -3.6 -2 -3.6 4.1 0z"/>
<path class="x" d="M948.5 825.4l2.1 3.6 4.1 0 -2 3.6 2 3.6 -4.1 0 -2.1 3.6 -2.1 -3.6 -4.1 0 2 -3.6 -2 -3.6 4.1 0z"/>
<circle class="g" cx="977.7" cy="786" r="4.1"/>
<circle class="g" cx="984.6" cy="783.5" r="4.1"/>
<circle class="g" cx="956.8" cy="803.2" r="4.1"/>
<circle class="g" cx="966.6" cy="818.7" r="4.1"/>
<circle class="g" cx="964.2" cy="824.4" r="4.1"/>
<circle class="g" cx="968.3" cy="824.4" r="4.1"/>
<path class="t" d="M963.4 782.4l6.9 12 -13.8 0z"/>
<path class="t" d="M974.4 785.7l6.9 12 -13.8 0z"/>
<path class="t" d="M1007.6 777.5l6.9 12 -13.8 0z"/>
<path class="t" d="M1010.8 772.6l6.9 12 -13.8 0z"/>
<path class="t" d="M957.6 788.2l6.9 12 -13.8 0z"/>
<path class="t" d="M959.3 771l6.9 12 -13.8 0z"/>
<path class="b" d="M970.7 790.8l6.9 -12 -13.8 0z"/>
<path class="b" d="M983 785.4l6.9 -12 -13.8 0z"/>
<path class="b" d="M963.8 803.4l6.9 -12 -13.8 0z"/>
<path class="b" d="M983.8 801.8l6.9 -12 -13.8 0z"/>
<path class="b" d="M976.5 807.5l6.9 -12 -13.8 0z"/>
<path class="b" d="M967.5 810l6.9 -12 -13.8 0z"/>
<path class="b" d="M983 814.1l6.9 -12 -13.8 0z"/>
<path class="b" d="M998.6 816.1l6.9 -12 -13.8 0z"/>
<path class="b" d="M961.7 819.8l6.9 -12 -13.8 0z"/>
<path class="b" d="M972.4 820.6l6.9 -12 -13.8 0z"/>
<path class="b" d="M981.4 818.2l6.9 -12 -13.8 0z"/>
<path class="b" d="M987.1 818.2l6.9 -12 -13.8 0z"/>
<path class="b" d="M978.1 823.9l6.9 -12 -13.8 0z"/>
<path class="b" d="M961.7 826.4l6.9 -12 -13.8 0z"/>
<path class="b" d="M971.5 828l6.9 -12 -13.8 0z"/>
</g>
<polyline fill="none" stroke="#8c1414" stroke-width="1.1" points="980.1,802.3 983.1,802.3 986.1,802.4 989.1,802.4 992.1,802.5 995.1,802.5 998.1,802.6 1001.1,802.6 1004.1,802.7 1007.1,802.7 1010.1,802.8 1013.1,802.9 1016.1,802.9 1019.1,803 1022.1,803 1025.1,803.1 1028.1,803.2 1031.1,803.4 1034.1,803.5 1037.1,803.6 1040.1,803.7 1043.1,803.8 1046.1,804.1 1049,804.5 1052,804.8 1055,805 1058,804.6 1060.9,804.2 1063.9,803.7 1066.9,803.3 1069.8,802.9 1072.8,802.4 1075.8,801.9 1078.7,801.5 1081.7,801 1084.7,800.6 1087.6,800.1 1089.6,799.8"/>
<path fill="none" stroke="#9c2323" stroke-width="1" d="M980.1 802.3l0.5 3.7M983.5 802.3l0.5 3.7M987 802.4l0.5 3.7M990.4 802.5l0.5 3.7M993.9 802.5l0.5 3.7M997.3 802.6l0.5 3.7M1000.8 802.6l0.5 3.7M1004.2 802.7l0.5 3.7M1007.7 802.8l0.5 3.7M1011.1 802.8l0.5 3.7M1014.6 802.9l0.5 3.7M1018 802.9l0.5 3.7M1021.5 803l0.5 3.7M1024.9 803.1l0.5 3.7M1028.4 803.3l0.5 3.7M1031.8 803.4l0.5 3.7M1035.3 803.5l0.5 3.7M1038.7 803.6l0.5 3.7M1042.2 803.7l0.5 3.7M1045.6 804.1l0.5 3.7M1049 804.5l0.5 3.7M1052.5 804.9l0.5 3.7M1055.9 804.9l0.5 3.7M1059.3 804.4l0.5 3.7M1062.7 803.9l0.5 3.7M1066.1 803.4l0.5 3.7M1069.6 802.9l0.5 3.7M1073 802.4l0.5 3.7M1076.4 801.9l0.5 3.7M1079.8 801.3l0.5 3.7M1083.2 800.8l0.5 3.7M1086.6 800.3l0.5 3.7"/>
<polyline fill="none" stroke="#0b66d4" stroke-width="2.9" stroke-linecap="round" stroke-dasharray="0.1 4.35" points="866.5,839 1050.8,838.8 1071,838.2 1090.4,836.4"/>
<rect x="865" y="533.8" width="76.1" height="368.3" fill="#808080" fill-opacity="0.2"/>
<path d="M747.8 539.6V916.6M747.2 902.1H1101.9M747.8 882h7.3M747.8 861.9h14.6M747.8 841.8h7.3M747.8 821.7h14.6M747.8 801.6h7.3M747.8 781.5h14.6M747.8 761.4h7.3M747.8 741.3h14.6M747.8 721.1h7.3M747.8 701h14.6M747.8 680.9h7.3M747.8 660.8h14.6M747.8 640.7h7.3M747.8 620.6h14.6M747.8 600.5h7.3M747.8 580.4h14.6M747.8 560.3h7.3M747.8 540.2h14.6M798.3 902.1v14.5M848.8 902.1v14.5M899.3 902.1v14.5M949.8 902.1v14.5M1000.3 902.1v14.5M1050.8 902.1v14.5M1101.3 902.1v14.5" fill="none" stroke="#b6b6b6" stroke-width="1.2"/>
<g>
<text x="682.7" y="911.3" font-size="26.0" textLength="49.1" lengthAdjust="spacingAndGlyphs">0.04</text>
<text x="683" y="871.1" font-size="26.0" textLength="49.1" lengthAdjust="spacingAndGlyphs">0.08</text>
<text x="683.2" y="830.9" font-size="26.0" textLength="49.1" lengthAdjust="spacingAndGlyphs">0.12</text>
<text x="683" y="790.7" font-size="26.0" textLength="49.1" lengthAdjust="spacingAndGlyphs">0.16</text>
<text x="697.2" y="750.5" font-size="26.0" textLength="35.1" lengthAdjust="spacingAndGlyphs">0.2</text>
<text x="682.7" y="710.2" font-size="26.0" textLength="49.1" lengthAdjust="spacingAndGlyphs">0.24</text>
<text x="683" y="670" font-size="26.0" textLength="49.1" lengthAdjust="spacingAndGlyphs">0.28</text>
<text x="683.2" y="629.8" font-size="26.0" textLength="49.1" lengthAdjust="spacingAndGlyphs">0.32</text>
<text x="683" y="589.6" font-size="26.0" textLength="49.1" lengthAdjust="spacingAndGlyphs">0.36</text>
<text x="696.7" y="549.4" font-size="26.0" textLength="35.1" lengthAdjust="spacingAndGlyphs">0.4</text>
<text x="735.6" y="956.7" font-size="26.0" textLength="22.4" lengthAdjust="spacingAndGlyphs">-6</text>
<text x="786.2" y="956.7" font-size="26.0" textLength="22.4" lengthAdjust="spacingAndGlyphs">-7</text>
<text x="836.6" y="956.7" font-size="26.0" textLength="22.4" lengthAdjust="spacingAndGlyphs">-8</text>
<text x="887.2" y="956.7" font-size="26.0" textLength="22.4" lengthAdjust="spacingAndGlyphs">-9</text>
<text x="930.6" y="956.7" font-size="26.0" textLength="36.5" lengthAdjust="spacingAndGlyphs">-10</text>
<text x="982.1" y="956.7" font-size="26.0" textLength="34.6" lengthAdjust="spacingAndGlyphs">-11</text>
<text x="1031.7" y="956.7" font-size="26.0" textLength="36.5" lengthAdjust="spacingAndGlyphs">-12</text>
<text x="1082.1" y="956.7" font-size="26.0" textLength="36.5" lengthAdjust="spacingAndGlyphs">-13</text>
</g>
<text transform="translate(669 720.5) rotate(-90)" x="-98.3" font-size="26.0" textLength="196.2" lengthAdjust="spacingAndGlyphs">P/Ca (mmol/mol)</text>
<text><tspan x="797" y="993.1" font-size="26.2" textLength="13.9" lengthAdjust="spacingAndGlyphs" font-family='"Liberation Serif", "DejaVu Serif", serif'>δ</tspan><tspan x="811" y="984.6" font-size="15.7" textLength="16.4" lengthAdjust="spacingAndGlyphs" class="sm">13</tspan><tspan x="828.5" y="993.4" font-size="26.0" textLength="14.3" lengthAdjust="spacingAndGlyphs">C</tspan><tspan x="842.4" y="1000" font-size="15.3" textLength="22.3" lengthAdjust="spacingAndGlyphs" class="sm">init</tspan><tspan x="863.6" y="993.4" font-size="26.0" textLength="54.2" lengthAdjust="spacingAndGlyphs"> (‰)</tspan><tspan x="916.6" y="993.4" font-size="26.0" textLength="39" lengthAdjust="spacingAndGlyphs"> --&gt;</tspan><tspan x="955" y="993.4" font-size="26.0" textLength="94.9" lengthAdjust="spacingAndGlyphs"> warmer</tspan></text>
<text x="779.7" y="562.7" font-size="21.0" textLength="42.2" lengthAdjust="spacingAndGlyphs">GAR</text>
</g>
<g>
<g>
<path class="d" d="M1053.4 1048.1l5.2 5.2 -5.2 5.2 -5.2 -5.2z"/>
<path class="b" d="M783.6 1321.2l6.9 -12 -13.8 0z"/>
<path class="s" d="M924 1272.8l10.8 0 0 10.8 -10.8 0z"/>
<path class="s" d="M950.1 1293.8l10.8 0 0 10.8 -10.8 0z"/>
<path class="s" d="M973 1332.4l10.8 0 0 10.8 -10.8 0z"/>
<path class="d" d="M894.2 1282.6l5.2 5.2 -5.2 5.2 -5.2 -5.2z"/>
<path class="d" d="M886.5 1291.4l5.2 5.2 -5.2 5.2 -5.2 -5.2z"/>
<path class="d" d="M886.3 1296.8l5.2 5.2 -5.2 5.2 -5.2 -5.2z"/>
<path class="d" d="M901.3 1301.7l5.2 5.2 -5.2 5.2 -5.2 -5.2z"/>
<path class="d" d="M903.2 1304.6l5.2 5.2 -5.2 5.2 -5.2 -5.2z"/>
<path class="d" d="M898.8 1307.6l5.2 5.2 -5.2 5.2 -5.2 -5.2z"/>
<path class="d" d="M904.2 1310.5l5.2 5.2 -5.2 5.2 -5.2 -5.2z"/>
<path class="d" d="M912.9 1308.6l5.2 5.2 -5.2 5.2 -5.2 -5.2z"/>
<path class="d" d="M913 1315.4l5.2 5.2 -5.2 5.2 -5.2 -5.2z"/>
<path class="d" d="M898.6 1320.9l5.2 5.2 -5.2 5.2 -5.2 -5.2z"/>
<path class="p" d="M884 1270.9l3.1 0 0 2.85 2.85 0 0 3.1 -2.85 0 0 2.85 -3.1 0 0 -2.85 -2.85 0 0 -3.1 2.85 0z"/>
<path class="p" d="M880.9 1278.9l3.1 0 0 2.85 2.85 0 0 3.1 -2.85 0 0 2.85 -3.1 0 0 -2.85 -2.85 0 0 -3.1 2.85 0z"/>
<path class="p" d="M896 1286.8l3.1 0 0 2.85 2.85 0 0 3.1 -2.85 0 0 2.85 -3.1 0 0 -2.85 -2.85 0 0 -3.1 2.85 0z"/>
<path class="p" d="M900.9 1287.8l3.1 0 0 2.85 2.85 0 0 3.1 -2.85 0 0 2.85 -3.1 0 0 -2.85 -2.85 0 0 -3.1 2.85 0z"/>
<path class="p" d="M926 1289.9l3.1 0 0 2.85 2.85 0 0 3.1 -2.85 0 0 2.85 -3.1 0 0 -2.85 -2.85 0 0 -3.1 2.85 0z"/>
<path class="p" d="M932.9 1289.9l3.1 0 0 2.85 2.85 0 0 3.1 -2.85 0 0 2.85 -3.1 0 0 -2.85 -2.85 0 0 -3.1 2.85 0z"/>
<path class="p" d="M880.1 1295.6l3.1 0 0 2.85 2.85 0 0 3.1 -2.85 0 0 2.85 -3.1 0 0 -2.85 -2.85 0 0 -3.1 2.85 0z"/>
<path class="p" d="M879.1 1299.6l3.1 0 0 2.85 2.85 0 0 3.1 -2.85 0 0 2.85 -3.1 0 0 -2.85 -2.85 0 0 -3.1 2.85 0z"/>
<path class="p" d="M883 1297.6l3.1 0 0 2.85 2.85 0 0 3.1 -2.85 0 0 2.85 -3.1 0 0 -2.85 -2.85 0 0 -3.1 2.85 0z"/>
<path class="p" d="M889.4 1298.1l3.1 0 0 2.85 2.85 0 0 3.1 -2.85 0 0 2.85 -3.1 0 0 -2.85 -2.85 0 0 -3.1 2.85 0z"/>
<path class="p" d="M895.8 1302.5l3.1 0 0 2.85 2.85 0 0 3.1 -2.85 0 0 2.85 -3.1 0 0 -2.85 -2.85 0 0 -3.1 2.85 0z"/>
<path class="p" d="M880.9 1306.9l3.1 0 0 2.85 2.85 0 0 3.1 -2.85 0 0 2.85 -3.1 0 0 -2.85 -2.85 0 0 -3.1 2.85 0z"/>
<path class="p" d="M910 1311.8l3.1 0 0 2.85 2.85 0 0 3.1 -2.85 0 0 2.85 -3.1 0 0 -2.85 -2.85 0 0 -3.1 2.85 0z"/>
<path class="p" d="M888.9 1321.7l3.1 0 0 2.85 2.85 0 0 3.1 -2.85 0 0 2.85 -3.1 0 0 -2.85 -2.85 0 0 -3.1 2.85 0z"/>
<path class="p" d="M904.8 1320.2l3.1 0 0 2.85 2.85 0 0 3.1 -2.85 0 0 2.85 -3.1 0 0 -2.85 -2.85 0 0 -3.1 2.85 0z"/>
<path class="p" d="M901.9 1325.6l3.1 0 0 2.85 2.85 0 0 3.1 -2.85 0 0 2.85 -3.1 0 0 -2.85 -2.85 0 0 -3.1 2.85 0z"/>
<path class="p" d="M907.1 1324.6l3.1 0 0 2.85 2.85 0 0 3.1 -2.85 0 0 2.85 -3.1 0 0 -2.85 -2.85 0 0 -3.1 2.85 0z"/>
<path class="p" d="M884.8 1329.8l3.1 0 0 2.85 2.85 0 0 3.1 -2.85 0 0 2.85 -3.1 0 0 -2.85 -2.85 0 0 -3.1 2.85 0z"/>
<path class="p" d="M934.9 1322.9l3.1 0 0 2.85 2.85 0 0 3.1 -2.85 0 0 2.85 -3.1 0 0 -2.85 -2.85 0 0 -3.1 2.85 0z"/>
<path class="p" d="M941 1328.8l3.1 0 0 2.85 2.85 0 0 3.1 -2.85 0 0 2.85 -3.1 0 0 -2.85 -2.85 0 0 -3.1 2.85 0z"/>
<path class="p" d="M889.9 1338.8l3.1 0 0 2.85 2.85 0 0 3.1 -2.85 0 0 2.85 -3.1 0 0 -2.85 -2.85 0 0 -3.1 2.85 0z"/>
<path class="p" d="M887.9 1341.3l3.1 0 0 2.85 2.85 0 0 3.1 -2.85 0 0 2.85 -3.1 0 0 -2.85 -2.85 0 0 -3.1 2.85 0z"/>
<path class="p" d="M892.8 1343.7l3.1 0 0 2.85 2.85 0 0 3.1 -2.85 0 0 2.85 -3.1 0 0 -2.85 -2.85 0 0 -3.1 2.85 0z"/>
<path class="p" d="M897.7 1337.9l3.1 0 0 2.85 2.85 0 0 3.1 -2.85 0 0 2.85 -3.1 0 0 -2.85 -2.85 0 0 -3.1 2.85 0z"/>
<path class="p" d="M904.8 1336.9l3.1 0 0 2.85 2.85 0 0 3.1 -2.85 0 0 2.85 -3.1 0 0 -2.85 -2.85 0 0 -3.1 2.85 0z"/>
<path class="p" d="M907.6 1341.8l3.1 0 0 2.85 2.85 0 0 3.1 -2.85 0 0 2.85 -3.1 0 0 -2.85 -2.85 0 0 -3.1 2.85 0z"/>
<path class="p" d="M914 1336.9l3.1 0 0 2.85 2.85 0 0 3.1 -2.85 0 0 2.85 -3.1 0 0 -2.85 -2.85 0 0 -3.1 2.85 0z"/>
<path class="p" d="M910.5 1339.8l3.1 0 0 2.85 2.85 0 0 3.1 -2.85 0 0 2.85 -3.1 0 0 -2.85 -2.85 0 0 -3.1 2.85 0z"/>
<path class="p" d="M921.8 1344.9l3.1 0 0 2.85 2.85 0 0 3.1 -2.85 0 0 2.85 -3.1 0 0 -2.85 -2.85 0 0 -3.1 2.85 0z"/>
<path class="p" d="M941 1338.8l3.1 0 0 2.85 2.85 0 0 3.1 -2.85 0 0 2.85 -3.1 0 0 -2.85 -2.85 0 0 -3.1 2.85 0z"/>
<path class="p" d="M938 1341.3l3.1 0 0 2.85 2.85 0 0 3.1 -2.85 0 0 2.85 -3.1 0 0 -2.85 -2.85 0 0 -3.1 2.85 0z"/>
<path class="p" d="M946.9 1338.8l3.1 0 0 2.85 2.85 0 0 3.1 -2.85 0 0 2.85 -3.1 0 0 -2.85 -2.85 0 0 -3.1 2.85 0z"/>
<path class="p" d="M942.9 1341.8l3.1 0 0 2.85 2.85 0 0 3.1 -2.85 0 0 2.85 -3.1 0 0 -2.85 -2.85 0 0 -3.1 2.85 0z"/>
<path class="p" d="M939.8 1348.9l3.1 0 0 2.85 2.85 0 0 3.1 -2.85 0 0 2.85 -3.1 0 0 -2.85 -2.85 0 0 -3.1 2.85 0z"/>
<path class="p" d="M957.9 1351.1l3.1 0 0 2.85 2.85 0 0 3.1 -2.85 0 0 2.85 -3.1 0 0 -2.85 -2.85 0 0 -3.1 2.85 0z"/>
<path class="p" d="M957.7 1335.9l3.1 0 0 2.85 2.85 0 0 3.1 -2.85 0 0 2.85 -3.1 0 0 -2.85 -2.85 0 0 -3.1 2.85 0z"/>
<path class="p" d="M963.5 1332.9l3.1 0 0 2.85 2.85 0 0 3.1 -2.85 0 0 2.85 -3.1 0 0 -2.85 -2.85 0 0 -3.1 2.85 0z"/>
<path class="p" d="M967.5 1336.9l3.1 0 0 2.85 2.85 0 0 3.1 -2.85 0 0 2.85 -3.1 0 0 -2.85 -2.85 0 0 -3.1 2.85 0z"/>
<path class="p" d="M970.4 1322.1l3.1 0 0 2.85 2.85 0 0 3.1 -2.85 0 0 2.85 -3.1 0 0 -2.85 -2.85 0 0 -3.1 2.85 0z"/>
<path class="p" d="M968.5 1327.1l3.1 0 0 2.85 2.85 0 0 3.1 -2.85 0 0 2.85 -3.1 0 0 -2.85 -2.85 0 0 -3.1 2.85 0z"/>
<path class="p" d="M972.4 1328l3.1 0 0 2.85 2.85 0 0 3.1 -2.85 0 0 2.85 -3.1 0 0 -2.85 -2.85 0 0 -3.1 2.85 0z"/>
<path class="p" d="M959.6 1339.8l3.1 0 0 2.85 2.85 0 0 3.1 -2.85 0 0 2.85 -3.1 0 0 -2.85 -2.85 0 0 -3.1 2.85 0z"/>
<path class="p" d="M966 1343.7l3.1 0 0 2.85 2.85 0 0 3.1 -2.85 0 0 2.85 -3.1 0 0 -2.85 -2.85 0 0 -3.1 2.85 0z"/>
<path class="p" d="M973.9 1342.8l3.1 0 0 2.85 2.85 0 0 3.1 -2.85 0 0 2.85 -3.1 0 0 -2.85 -2.85 0 0 -3.1 2.85 0z"/>
<path class="p" d="M977.3 1339.8l3.1 0 0 2.85 2.85 0 0 3.1 -2.85 0 0 2.85 -3.1 0 0 -2.85 -2.85 0 0 -3.1 2.85 0z"/>
<path class="p" d="M971.4 1336.9l3.1 0 0 2.85 2.85 0 0 3.1 -2.85 0 0 2.85 -3.1 0 0 -2.85 -2.85 0 0 -3.1 2.85 0z"/>
<path class="p" d="M978.8 1347.7l3.1 0 0 2.85 2.85 0 0 3.1 -2.85 0 0 2.85 -3.1 0 0 -2.85 -2.85 0 0 -3.1 2.85 0z"/>
<path class="d" d="M973.4 1263.1l5.2 5.2 -5.2 5.2 -5.2 -5.2z"/>
<path class="d" d="M873.5 1319.1l5.2 5.2 -5.2 5.2 -5.2 -5.2z"/>
<path class="d" d="M929.4 1305.1l5.2 5.2 -5.2 5.2 -5.2 -5.2z"/>
<path class="d" d="M938.6 1307.1l5.2 5.2 -5.2 5.2 -5.2 -5.2z"/>
<path class="d" d="M971.5 1296.3l5.2 5.2 -5.2 5.2 -5.2 -5.2z"/>
<path class="d" d="M976.9 1290.9l5.2 5.2 -5.2 5.2 -5.2 -5.2z"/>
<path class="d" d="M971.5 1310.5l5.2 5.2 -5.2 5.2 -5.2 -5.2z"/>
<path class="d" d="M976.9 1305.6l5.2 5.2 -5.2 5.2 -5.2 -5.2z"/>
<path class="d" d="M962.3 1315.9l5.2 5.2 -5.2 5.2 -5.2 -5.2z"/>
<path class="d" d="M962.1 1326.3l5.2 5.2 -5.2 5.2 -5.2 -5.2z"/>
<path class="d" d="M978.8 1311.5l5.2 5.2 -5.2 5.2 -5.2 -5.2z"/>
<path class="d" d="M977.9 1319.4l5.2 5.2 -5.2 5.2 -5.2 -5.2z"/>
<path class="p" d="M1053.9 1279.9l3.1 0 0 2.85 2.85 0 0 3.1 -2.85 0 0 2.85 -3.1 0 0 -2.85 -2.85 0 0 -3.1 2.85 0z"/>
<path class="p" d="M1065.9 1311.3l3.1 0 0 2.85 2.85 0 0 3.1 -2.85 0 0 2.85 -3.1 0 0 -2.85 -2.85 0 0 -3.1 2.85 0z"/>
<path class="p" d="M1072.3 1332l3.1 0 0 2.85 2.85 0 0 3.1 -2.85 0 0 2.85 -3.1 0 0 -2.85 -2.85 0 0 -3.1 2.85 0z"/>
<path class="p" d="M1061.4 1338.3l3.1 0 0 2.85 2.85 0 0 3.1 -2.85 0 0 2.85 -3.1 0 0 -2.85 -2.85 0 0 -3.1 2.85 0z"/>
<path class="p" d="M980.4 1306.4l3.1 0 0 2.85 2.85 0 0 3.1 -2.85 0 0 2.85 -3.1 0 0 -2.85 -2.85 0 0 -3.1 2.85 0z"/>
<path class="p" d="M981.4 1315.3l3.1 0 0 2.85 2.85 0 0 3.1 -2.85 0 0 2.85 -3.1 0 0 -2.85 -2.85 0 0 -3.1 2.85 0z"/>
<path class="p" d="M981.9 1339.8l3.1 0 0 2.85 2.85 0 0 3.1 -2.85 0 0 2.85 -3.1 0 0 -2.85 -2.85 0 0 -3.1 2.85 0z"/>
<path class="p" d="M982.9 1347.9l3.1 0 0 2.85 2.85 0 0 3.1 -2.85 0 0 2.85 -3.1 0 0 -2.85 -2.85 0 0 -3.1 2.85 0z"/>
<path class="p" d="M990 1347.9l3.1 0 0 2.85 2.85 0 0 3.1 -2.85 0 0 2.85 -3.1 0 0 -2.85 -2.85 0 0 -3.1 2.85 0z"/>
<path class="p" d="M1003 1354.8l3.1 0 0 2.85 2.85 0 0 3.1 -2.85 0 0 2.85 -3.1 0 0 -2.85 -2.85 0 0 -3.1 2.85 0z"/>
<path class="p" d="M980.4 1329l3.1 0 0 2.85 2.85 0 0 3.1 -2.85 0 0 2.85 -3.1 0 0 -2.85 -2.85 0 0 -3.1 2.85 0z"/>
<path class="d" d="M989.3 1283l5.2 5.2 -5.2 5.2 -5.2 -5.2z"/>
<path class="d" d="M1011.4 1283l5.2 5.2 -5.2 5.2 -5.2 -5.2z"/>
<path class="d" d="M1024.7 1280.1l5.2 5.2 -5.2 5.2 -5.2 -5.2z"/>
<path class="d" d="M1031.9 1275.2l5.2 5.2 -5.2 5.2 -5.2 -5.2z"/>
<path class="d" d="M1057.6 1249.2l5.2 5.2 -5.2 5.2 -5.2 -5.2z"/>
<path class="d" d="M1012.4 1303.2l5.2 5.2 -5.2 5.2 -5.2 -5.2z"/>
<path class="d" d="M1025.4 1302.2l5.2 5.2 -5.2 5.2 -5.2 -5.2z"/>
<path class="d" d="M1044.3 1299.7l5.2 5.2 -5.2 5.2 -5.2 -5.2z"/>
<path class="d" d="M1048.6 1300.7l5.2 5.2 -5.2 5.2 -5.2 -5.2z"/>
<path class="d" d="M1061.5 1304.6l5.2 5.2 -5.2 5.2 -5.2 -5.2z"/>
<path class="d" d="M1067.9 1304.6l5.2 5.2 -5.2 5.2 -5.2 -5.2z"/>
<path class="d" d="M988.7 1311l5.2 5.2 -5.2 5.2 -5.2 -5.2z"/>
<path class="d" d="M1000.6 1315.9l5.2 5.2 -5.2 5.2 -5.2 -5.2z"/>
<path class="d" d="M984.9 1318.4l5.2 5.2 -5.2 5.2 -5.2 -5.2z"/>
<path class="d" d="M995.2 1320.4l5.2 5.2 -5.2 5.2 -5.2 -5.2z"/>
<path class="d" d="M1010.5 1322.1l5.2 5.2 -5.2 5.2 -5.2 -5.2z"/>
<path class="d" d="M989.8 1324.3l5.2 5.2 -5.2 5.2 -5.2 -5.2z"/>
<path class="d" d="M998.7 1329.2l5.2 5.2 -5.2 5.2 -5.2 -5.2z"/>
<path class="d" d="M987.9 1328.2l5.2 5.2 -5.2 5.2 -5.2 -5.2z"/>
<path class="d" d="M997.2 1332.1l5.2 5.2 -5.2 5.2 -5.2 -5.2z"/>
<path class="d" d="M1002.1 1334.1l5.2 5.2 -5.2 5.2 -5.2 -5.2z"/>
<path class="d" d="M983.9 1333.1l5.2 5.2 -5.2 5.2 -5.2 -5.2z"/>
<path class="d" d="M1014.4 1338l5.2 5.2 -5.2 5.2 -5.2 -5.2z"/>
<path class="d" d="M1043.4 1309.6l5.2 5.2 -5.2 5.2 -5.2 -5.2z"/>
<path class="d" d="M1037.5 1314l5.2 5.2 -5.2 5.2 -5.2 -5.2z"/>
<path class="d" d="M1049.7 1307.6l5.2 5.2 -5.2 5.2 -5.2 -5.2z"/>
<path class="d" d="M1055.6 1310.5l5.2 5.2 -5.2 5.2 -5.2 -5.2z"/>
<path class="d" d="M1048.8 1317.4l5.2 5.2 -5.2 5.2 -5.2 -5.2z"/>
<path class="d" d="M1054.2 1316.9l5.2 5.2 -5.2 5.2 -5.2 -5.2z"/>
<path class="d" d="M1059.6 1314.5l5.2 5.2 -5.2 5.2 -5.2 -5.2z"/>
<path class="d" d="M1062.5 1317.9l5.2 5.2 -5.2 5.2 -5.2 -5.2z"/>
<path class="d" d="M1071.3 1320.2l5.2 5.2 -5.2 5.2 -5.2 -5.2z"/>
<path class="d" d="M1041.9 1320.4l5.2 5.2 -5.2 5.2 -5.2 -5.2z"/>
<path class="d" d="M1045.8 1325.3l5.2 5.2 -5.2 5.2 -5.2 -5.2z"/>
<path class="d" d="M1054.7 1325.3l5.2 5.2 -5.2 5.2 -5.2 -5.2z"/>
<path class="d" d="M1059.6 1327.2l5.2 5.2 -5.2 5.2 -5.2 -5.2z"/>
<path class="d" d="M1064.5 1325.3l5.2 5.2 -5.2 5.2 -5.2 -5.2z"/>
<path class="d" d="M1068.9 1330.2l5.2 5.2 -5.2 5.2 -5.2 -5.2z"/>
<path class="d" d="M1031.1 1328.2l5.2 5.2 -5.2 5.2 -5.2 -5.2z"/>
<path class="d" d="M1028.3 1333.1l5.2 5.2 -5.2 5.2 -5.2 -5.2z"/>
<path class="d" d="M1037.5 1333.6l5.2 5.2 -5.2 5.2 -5.2 -5.2z"/>
<path class="d" d="M1046.8 1333.1l5.2 5.2 -5.2 5.2 -5.2 -5.2z"/>
<path class="d" d="M1052.2 1333.6l5.2 5.2 -5.2 5.2 -5.2 -5.2z"/>
<path class="d" d="M1058.6 1335.1l5.2 5.2 -5.2 5.2 -5.2 -5.2z"/>
<path class="d" d="M1041.9 1330.2l5.2 5.2 -5.2 5.2 -5.2 -5.2z"/>
<path class="d" d="M1036 1325.3l5.2 5.2 -5.2 5.2 -5.2 -5.2z"/>
<path class="d" d="M1066.4 1321.3l5.2 5.2 -5.2 5.2 -5.2 -5.2z"/>
<path class="d" d="M1051.7 1311.5l5.2 5.2 -5.2 5.2 -5.2 -5.2z"/>
<path class="p" d="M1032 1322.6l3.1 0 0 2.85 2.85 0 0 3.1 -2.85 0 0 2.85 -3.1 0 0 -2.85 -2.85 0 0 -3.1 2.85 0z"/>
</g>
<polyline fill="none" stroke="#8c1414" stroke-width="1.1" points="960.3,1258.8 963.3,1258.8 966.3,1258.9 969.3,1258.9 972.3,1259 975.3,1259 978.3,1259 981.3,1259.1 984.3,1259.1 987.3,1259.2 990.3,1259.2 993.3,1259.3 996.3,1259.3 999.3,1259.3 1002.3,1259.4 1005.3,1259.4 1008.3,1259.5 1011.3,1259.5 1014.3,1259.6 1017.3,1259.7 1020.3,1259.8 1023.3,1259.9 1026.3,1260 1029.3,1260 1032.3,1260.1 1035.3,1260.3 1038.2,1260.6 1041.2,1260.8 1044.2,1261.1 1047.2,1261.3 1050.2,1261 1053.2,1260.6 1056.2,1260.3 1059.1,1260 1062.1,1259.6 1065.1,1259.3 1068.1,1258.9 1071.1,1258.6 1074,1258.2 1077,1257.9 1080,1257.5 1083,1257.2 1085.9,1256.8 1087.9,1256.6"/>
<path fill="none" stroke="#9c2323" stroke-width="1" d="M960.3 1258.8l0.5 3.7M963.7 1258.9l0.5 3.7M967.2 1258.9l0.5 3.7M970.6 1258.9l0.5 3.7M974.1 1259l0.5 3.7M977.5 1259l0.5 3.7M981 1259.1l0.5 3.7M984.4 1259.1l0.5 3.7M987.9 1259.2l0.5 3.7M991.3 1259.2l0.5 3.7M994.8 1259.3l0.5 3.7M998.2 1259.3l0.5 3.7M1001.7 1259.4l0.5 3.7M1005.1 1259.4l0.5 3.7M1008.6 1259.5l0.5 3.7M1012 1259.6l0.5 3.7M1015.5 1259.7l0.5 3.7M1018.9 1259.8l0.5 3.7M1022.4 1259.9l0.5 3.7M1025.8 1259.9l0.5 3.7M1029.3 1260l0.5 3.7M1032.7 1260.1l0.5 3.7M1036.2 1260.4l0.5 3.7M1039.6 1260.7l0.5 3.7M1043 1261l0.5 3.7M1046.5 1261.3l0.5 3.7M1049.9 1261l0.5 3.7M1053.3 1260.6l0.5 3.7M1056.8 1260.2l0.5 3.7M1060.2 1259.9l0.5 3.7M1063.6 1259.5l0.5 3.7M1067 1259.1l0.5 3.7M1070.5 1258.7l0.5 3.7M1073.9 1258.2l0.5 3.7M1077.3 1257.8l0.5 3.7M1080.7 1257.4l0.5 3.7M1084.2 1257l0.5 3.7M1087.6 1256.6l0.5 3.7"/>
<polyline fill="none" stroke="#0b66d4" stroke-width="2.9" stroke-linecap="round" stroke-dasharray="0.1 4.35" points="828,1291.8 1042.6,1291.6 1066.1,1291.1 1088.8,1289.4"/>
<path d="M748.6 1022.6V1399.2M748 1384.7H1102M748.6 1366.6h7.3M748.6 1348.5h14.6M748.6 1330.5h7.3M748.6 1312.4h14.6M748.6 1294.3h7.3M748.6 1276.2h14.6M748.6 1258.2h7.3M748.6 1240.1h14.6M748.6 1222h7.3M748.6 1204h14.6M748.6 1185.9h7.3M748.6 1167.8h14.6M748.6 1149.7h7.3M748.6 1131.6h14.6M748.6 1113.6h7.3M748.6 1095.5h14.6M748.6 1077.4h7.3M748.6 1059.3h14.6M748.6 1041.3h7.3M748.6 1023.2h14.6M807.4 1384.7v14.5M866.2 1384.7v14.5M925 1384.7v14.5M983.8 1384.7v14.5M1042.6 1384.7v14.5M1101.4 1384.7v14.5" fill="none" stroke="#b6b6b6" stroke-width="1.2"/>
<g>
<text x="718.7" y="1393.9" font-size="26.0" textLength="14" lengthAdjust="spacingAndGlyphs">0</text>
<text x="683.5" y="1357.8" font-size="26.0" textLength="49.1" lengthAdjust="spacingAndGlyphs">0.04</text>
<text x="683.8" y="1321.6" font-size="26.0" textLength="49.1" lengthAdjust="spacingAndGlyphs">0.08</text>
<text x="684" y="1285.5" font-size="26.0" textLength="49.1" lengthAdjust="spacingAndGlyphs">0.12</text>
<text x="683.8" y="1249.3" font-size="26.0" textLength="49.1" lengthAdjust="spacingAndGlyphs">0.16</text>
<text x="698" y="1213.2" font-size="26.0" textLength="35.1" lengthAdjust="spacingAndGlyphs">0.2</text>
<text x="683.5" y="1177" font-size="26.0" textLength="49.1" lengthAdjust="spacingAndGlyphs">0.24</text>
<text x="683.8" y="1140.8" font-size="26.0" textLength="49.1" lengthAdjust="spacingAndGlyphs">0.28</text>
<text x="684" y="1104.7" font-size="26.0" textLength="49.1" lengthAdjust="spacingAndGlyphs">0.32</text>
<text x="683.8" y="1068.5" font-size="26.0" textLength="49.1" lengthAdjust="spacingAndGlyphs">0.36</text>
<text x="697.5" y="1032.4" font-size="26.0" textLength="35.1" lengthAdjust="spacingAndGlyphs">0.4</text>
<text x="736.5" y="1439.3" font-size="26.0" textLength="22.4" lengthAdjust="spacingAndGlyphs">-7</text>
<text x="795.2" y="1439.3" font-size="26.0" textLength="22.4" lengthAdjust="spacingAndGlyphs">-8</text>
<text x="854.1" y="1439.3" font-size="26.0" textLength="22.4" lengthAdjust="spacingAndGlyphs">-9</text>
<text x="905.8" y="1439.3" font-size="26.0" textLength="36.5" lengthAdjust="spacingAndGlyphs">-10</text>
<text x="965.6" y="1439.3" font-size="26.0" textLength="34.6" lengthAdjust="spacingAndGlyphs">-11</text>
<text x="1023.5" y="1439.3" font-size="26.0" textLength="36.5" lengthAdjust="spacingAndGlyphs">-12</text>
<text x="1082.2" y="1439.3" font-size="26.0" textLength="36.5" lengthAdjust="spacingAndGlyphs">-13</text>
</g>
<text transform="translate(669 1203.4) rotate(-90)" x="-98.3" font-size="26.0" textLength="196.2" lengthAdjust="spacingAndGlyphs">P/Ca (mmol/mol)</text>
<text><tspan x="797.7" y="1475.7" font-size="26.2" textLength="13.9" lengthAdjust="spacingAndGlyphs" font-family='"Liberation Serif", "DejaVu Serif", serif'>δ</tspan><tspan x="811.7" y="1467.2" font-size="15.7" textLength="16.4" lengthAdjust="spacingAndGlyphs" class="sm">13</tspan><tspan x="829.2" y="1476" font-size="26.0" textLength="14.3" lengthAdjust="spacingAndGlyphs">C</tspan><tspan x="843.1" y="1482.6" font-size="15.3" textLength="22.3" lengthAdjust="spacingAndGlyphs" class="sm">init</tspan><tspan x="864.3" y="1476" font-size="26.0" textLength="54.2" lengthAdjust="spacingAndGlyphs"> (‰)</tspan><tspan x="917.3" y="1476" font-size="26.0" textLength="39" lengthAdjust="spacingAndGlyphs"> --&gt;</tspan><tspan x="955.7" y="1476" font-size="26.0" textLength="94.9" lengthAdjust="spacingAndGlyphs"> warmer</tspan></text>
<text x="769.1" y="1050" font-size="25.0" textLength="47" lengthAdjust="spacingAndGlyphs">GAE</text>
</g>
<g>
<g>
<circle class="y" cx="908.6" cy="1555.5" r="4.85"/>
<path class="b" d="M815.3 1792.8l6.9 -12 -13.8 0z"/>
<path class="b" d="M838.8 1850.1l6.9 -12 -13.8 0z"/>
<circle class="g" cx="831.6" cy="1774.2" r="4.1"/>
<circle class="g" cx="808.4" cy="1793.4" r="4.1"/>
<circle class="g" cx="817.4" cy="1787.1" r="4.1"/>
<circle class="g" cx="835.4" cy="1796.4" r="4.1"/>
<circle class="g" cx="843.4" cy="1798.3" r="4.1"/>
<circle class="g" cx="879.5" cy="1795.4" r="4.1"/>
<circle class="g" cx="884.6" cy="1792.6" r="4.1"/>
<circle class="g" cx="864.6" cy="1831.3" r="4.1"/>
<circle class="g" cx="863.4" cy="1844.7" r="4.1"/>
<circle class="y" cx="882.3" cy="1800.6" r="4.85"/>
<circle class="y" cx="882.3" cy="1828.7" r="4.85"/>
<path class="s" d="M830 1833l10.8 0 0 10.8 -10.8 0z"/>
<path class="s" d="M869.1 1833l10.8 0 0 10.8 -10.8 0z"/>
<circle class="g" cx="844.5" cy="1836.3" r="4.1"/>
<circle class="g" cx="851.4" cy="1840.3" r="4.1"/>
<path class="b" d="M857.7 1784.3l6.9 -12 -13.8 0z"/>
<path class="b" d="M823 1800.9l6.9 -12 -13.8 0z"/>
<path class="b" d="M827.6 1830.1l6.9 -12 -13.8 0z"/>
<path class="t" d="M865.7 1784.1l6.9 12 -13.8 0z"/>
<path class="t" d="M861.5 1786.6l6.9 12 -13.8 0z"/>
<path class="t" d="M867.4 1814.6l6.9 12 -13.8 0z"/>
<path class="t" d="M881.4 1813.5l6.9 12 -13.8 0z"/>
<path class="t" d="M863.1 1830.1l6.9 12 -13.8 0z"/>
<path class="u" d="M773.5 1773.9l6.5 12 -13 0z"/>
<path class="u" d="M812.4 1763l6.5 12 -13 0z"/>
<path class="x" d="M759.5 1738.1l2.1 3.6 4.1 0 -2 3.6 2 3.6 -4.1 0 -2.1 3.6 -2.1 -3.6 -4.1 0 2 -3.6 -2 -3.6 4.1 0z"/>
<circle class="y" cx="919.5" cy="1709.9" r="4.85"/>
<circle class="y" cx="945.6" cy="1734.4" r="4.85"/>
<circle class="y" cx="920.6" cy="1758.4" r="4.85"/>
<circle class="y" cx="924.4" cy="1788" r="4.85"/>
<circle class="y" cx="945.6" cy="1795.4" r="4.85"/>
<circle class="y" cx="891.7" cy="1797.2" r="4.85"/>
<circle class="y" cx="955.3" cy="1797.2" r="4.85"/>
<circle class="y" cx="907.2" cy="1812.1" r="4.85"/>
<circle class="y" cx="912.9" cy="1811.5" r="4.85"/>
<circle class="y" cx="925" cy="1814.9" r="4.85"/>
<circle class="y" cx="920.4" cy="1820.6" r="4.85"/>
<circle class="y" cx="934.7" cy="1800.6" r="4.85"/>
<circle class="y" cx="946.7" cy="1810.9" r="4.85"/>
<path class="s" d="M951.1 1772.9l10.8 0 0 10.8 -10.8 0z"/>
<path class="s" d="M968 1776.9l10.8 0 0 10.8 -10.8 0z"/>
<path class="s" d="M921 1786l10.8 0 0 10.8 -10.8 0z"/>
<path class="s" d="M957 1795.8l10.8 0 0 10.8 -10.8 0z"/>
<path class="s" d="M981.1 1791.8l10.8 0 0 10.8 -10.8 0z"/>
<path class="s" d="M931 1803.8l10.8 0 0 10.8 -10.8 0z"/>
<path class="s" d="M940.2 1805.5l10.8 0 0 10.8 -10.8 0z"/>
<path class="s" d="M964.2 1802.1l10.8 0 0 10.8 -10.8 0z"/>
<path class="s" d="M968.2 1803.8l10.8 0 0 10.8 -10.8 0z"/>
<path class="s" d="M937.3 1811.2l10.8 0 0 10.8 -10.8 0z"/>
<path class="s" d="M941.3 1811.2l10.8 0 0 10.8 -10.8 0z"/>
<path class="s" d="M954.5 1810.7l10.8 0 0 10.8 -10.8 0z"/>
<path class="s" d="M976.3 1813l10.8 0 0 10.8 -10.8 0z"/>
<path class="s" d="M961.9 1822.7l10.8 0 0 10.8 -10.8 0z"/>
<path class="s" d="M972.2 1823.8l10.8 0 0 10.8 -10.8 0z"/>
<path class="s" d="M968.2 1828.4l10.8 0 0 10.8 -10.8 0z"/>
<path class="s" d="M975.1 1827.8l10.8 0 0 10.8 -10.8 0z"/>
<path class="s" d="M925 1840.4l10.8 0 0 10.8 -10.8 0z"/>
<circle class="y" cx="955.3" cy="1784.3" r="4.85"/>
<circle class="y" cx="955.9" cy="1821.2" r="4.85"/>
<circle class="y" cx="954.5" cy="1832.3" r="4.85"/>
<path class="t" d="M928.2 1793.4l6.9 12 -13.8 0z"/>
<path class="t" d="M939.6 1791.4l6.9 12 -13.8 0z"/>
<path class="t" d="M921.5 1808.3l6.9 12 -13.8 0z"/>
<path class="t" d="M916.9 1809.5l6.9 12 -13.8 0z"/>
<path class="t" d="M929.5 1817.5l6.9 12 -13.8 0z"/>
<path class="t" d="M891.5 1827.2l6.9 12 -13.8 0z"/>
<path class="d" d="M962.5 1787.9l5.2 5.2 -5.2 5.2 -5.2 -5.2z"/>
<path class="d" d="M983.4 1784.9l5.2 5.2 -5.2 5.2 -5.2 -5.2z"/>
<path class="d" d="M989.7 1792l5.2 5.2 -5.2 5.2 -5.2 -5.2z"/>
<path class="d" d="M962.5 1804.2l5.2 5.2 -5.2 5.2 -5.2 -5.2z"/>
<path class="d" d="M996.6 1809.1l5.2 5.2 -5.2 5.2 -5.2 -5.2z"/>
<path class="d" d="M995.4 1828l5.2 5.2 -5.2 5.2 -5.2 -5.2z"/>
<path class="d" d="M933.5 1834l5.2 5.2 -5.2 5.2 -5.2 -5.2z"/>
<path class="d" d="M893.4 1838.4l5.2 5.2 -5.2 5.2 -5.2 -5.2z"/>
<path class="p" d="M977 1842.6l3.1 0 0 2.85 2.85 0 0 3.1 -2.85 0 0 2.85 -3.1 0 0 -2.85 -2.85 0 0 -3.1 2.85 0z"/>
</g>
<polyline fill="none" stroke="#8c1414" stroke-width="1.1" points="999.8,1807.8 1002.8,1807.9 1005.8,1807.9 1008.8,1807.9 1011.8,1807.9 1014.8,1808 1017.8,1808 1020.8,1808 1023.8,1808.1 1026.8,1808.1 1029.8,1808.1 1032.8,1808.2 1035.8,1808.2 1038.8,1808.3 1041.8,1808.3 1044.8,1808.4 1047.8,1808.4 1050.8,1808.5 1053.8,1808.6 1056.8,1808.7 1059.8,1808.9 1062.8,1809.1 1065.8,1809.2 1068.8,1808.9 1071.7,1808.7 1074.7,1808.4 1077.7,1808.2 1080.7,1807.9 1083.7,1807.6 1086.7,1807.3 1089.7,1807.1 1092.7,1806.8 1095.2,1806.6"/>
<path fill="none" stroke="#9c2323" stroke-width="1" d="M999.8 1807.8l0.5 3.7M1003.2 1807.9l0.5 3.7M1006.7 1807.9l0.5 3.7M1010.1 1807.9l0.5 3.7M1013.6 1808l0.5 3.7M1017 1808l0.5 3.7M1020.5 1808l0.5 3.7M1023.9 1808.1l0.5 3.7M1027.4 1808.1l0.5 3.7M1030.8 1808.1l0.5 3.7M1034.3 1808.2l0.5 3.7M1037.7 1808.2l0.5 3.7M1041.2 1808.3l0.5 3.7M1044.6 1808.4l0.5 3.7M1048.1 1808.5l0.5 3.7M1051.5 1808.5l0.5 3.7M1055 1808.6l0.5 3.7M1058.4 1808.8l0.5 3.7M1061.9 1809.1l0.5 3.7M1065.3 1809.2l0.5 3.7M1068.8 1808.9l0.5 3.7M1072.2 1808.6l0.5 3.7M1075.6 1808.4l0.5 3.7M1079.1 1808l0.5 3.7M1082.5 1807.7l0.5 3.7M1085.9 1807.4l0.5 3.7M1089.4 1807.1l0.5 3.7M1092.8 1806.8l0.5 3.7"/>
<polyline fill="none" stroke="#0b66d4" stroke-width="2.9" stroke-linecap="round" stroke-dasharray="0.1 4.35" points="900.5,1826.7 1061.6,1826.6 1079.2,1826.3 1096.2,1825.3"/>
<rect x="910.1" y="1511.9" width="45.8" height="367.9" fill="#808080" fill-opacity="0.2"/>
<path d="M752.7 1517.5V1894.3M752.1 1879.8H1106.3M752.7 1854h7.3M752.7 1828.1h14.6M752.7 1802.3h7.3M752.7 1776.5h14.6M752.7 1750.6h7.3M752.7 1724.8h14.6M752.7 1698.9h7.3M752.7 1673.1h14.6M752.7 1647.3h7.3M752.7 1621.4h14.6M752.7 1595.6h7.3M752.7 1569.8h14.6M752.7 1543.9h7.3M752.7 1518.1h14.6M796.8 1879.8v14.5M841 1879.8v14.5M885.1 1879.8v14.5M929.2 1879.8v14.5M973.3 1879.8v14.5M1017.5 1879.8v14.5M1061.6 1879.8v14.5M1105.7 1879.8v14.5" fill="none" stroke="#b6b6b6" stroke-width="1.2"/>
<g>
<text x="722.8" y="1889" font-size="26.0" textLength="14" lengthAdjust="spacingAndGlyphs">0</text>
<text x="702" y="1837.3" font-size="26.0" textLength="35.1" lengthAdjust="spacingAndGlyphs">0.1</text>
<text x="702.1" y="1785.7" font-size="26.0" textLength="35.1" lengthAdjust="spacingAndGlyphs">0.2</text>
<text x="701.9" y="1734" font-size="26.0" textLength="35.1" lengthAdjust="spacingAndGlyphs">0.3</text>
<text x="701.6" y="1682.3" font-size="26.0" textLength="35.1" lengthAdjust="spacingAndGlyphs">0.4</text>
<text x="701.9" y="1630.6" font-size="26.0" textLength="35.1" lengthAdjust="spacingAndGlyphs">0.5</text>
<text x="701.9" y="1579" font-size="26.0" textLength="35.1" lengthAdjust="spacingAndGlyphs">0.6</text>
<text x="702.1" y="1527.3" font-size="26.0" textLength="35.1" lengthAdjust="spacingAndGlyphs">0.7</text>
<text x="740.5" y="1934.4" font-size="26.0" textLength="22.4" lengthAdjust="spacingAndGlyphs">-5</text>
<text x="784.6" y="1934.4" font-size="26.0" textLength="22.4" lengthAdjust="spacingAndGlyphs">-6</text>
<text x="828.9" y="1934.4" font-size="26.0" textLength="22.4" lengthAdjust="spacingAndGlyphs">-7</text>
<text x="872.9" y="1934.4" font-size="26.0" textLength="22.4" lengthAdjust="spacingAndGlyphs">-8</text>
<text x="917.1" y="1934.4" font-size="26.0" textLength="22.4" lengthAdjust="spacingAndGlyphs">-9</text>
<text x="954.1" y="1934.4" font-size="26.0" textLength="36.5" lengthAdjust="spacingAndGlyphs">-10</text>
<text x="999.3" y="1934.4" font-size="26.0" textLength="34.6" lengthAdjust="spacingAndGlyphs">-11</text>
<text x="1042.5" y="1934.4" font-size="26.0" textLength="36.5" lengthAdjust="spacingAndGlyphs">-12</text>
<text x="1086.5" y="1934.4" font-size="26.0" textLength="36.5" lengthAdjust="spacingAndGlyphs">-13</text>
</g>
<text transform="translate(687.4 1698.3) rotate(-90)" x="-98.3" font-size="26.0" textLength="196.2" lengthAdjust="spacingAndGlyphs">P/Ca (mmol/mol)</text>
<text><tspan x="801.9" y="1970.8" font-size="26.2" textLength="13.9" lengthAdjust="spacingAndGlyphs" font-family='"Liberation Serif", "DejaVu Serif", serif'>δ</tspan><tspan x="815.9" y="1962.3" font-size="15.7" textLength="16.4" lengthAdjust="spacingAndGlyphs" class="sm">13</tspan><tspan x="833.4" y="1971.1" font-size="26.0" textLength="14.3" lengthAdjust="spacingAndGlyphs">C</tspan><tspan x="847.3" y="1977.7" font-size="15.3" textLength="22.3" lengthAdjust="spacingAndGlyphs" class="sm">init</tspan><tspan x="868.5" y="1971.1" font-size="26.0" textLength="54.2" lengthAdjust="spacingAndGlyphs"> (‰)</tspan><tspan x="921.5" y="1971.1" font-size="26.0" textLength="39" lengthAdjust="spacingAndGlyphs"> --&gt;</tspan><tspan x="959.9" y="1971.1" font-size="26.0" textLength="94.9" lengthAdjust="spacingAndGlyphs"> warmer</tspan></text>
<text x="768.9" y="1534.8" font-size="21.0" textLength="40.2" lengthAdjust="spacingAndGlyphs">GLD</text>
</g>
<g>
<g>
<path class="d" d="M875.4 2028.1l5.2 5.2 -5.2 5.2 -5.2 -5.2z"/>
<path class="d" d="M882.5 2047.1l5.2 5.2 -5.2 5.2 -5.2 -5.2z"/>
<path class="d" d="M865.5 2088l5.2 5.2 -5.2 5.2 -5.2 -5.2z"/>
<path class="t" d="M883.6 2031.4l6.9 12 -13.8 0z"/>
<path class="p" d="M853.9 2114.8l3.1 0 0 2.85 2.85 0 0 3.1 -2.85 0 0 2.85 -3.1 0 0 -2.85 -2.85 0 0 -3.1 2.85 0z"/>
<path class="s" d="M908 2125.7l10.8 0 0 10.8 -10.8 0z"/>
<path class="p" d="M1048 1999.9l3.1 0 0 2.85 2.85 0 0 3.1 -2.85 0 0 2.85 -3.1 0 0 -2.85 -2.85 0 0 -3.1 2.85 0z"/>
<path class="p" d="M1038.9 2118.8l3.1 0 0 2.85 2.85 0 0 3.1 -2.85 0 0 2.85 -3.1 0 0 -2.85 -2.85 0 0 -3.1 2.85 0z"/>
<path class="s" d="M982 2058.8l10.8 0 0 10.8 -10.8 0z"/>
<path class="d" d="M954.4 2116.1l5.2 5.2 -5.2 5.2 -5.2 -5.2z"/>
<path class="d" d="M976.5 2126.1l5.2 5.2 -5.2 5.2 -5.2 -5.2z"/>
<path class="d" d="M1077.5 2122l5.2 5.2 -5.2 5.2 -5.2 -5.2z"/>
<path class="b" d="M836.6 2206.5l6.9 -12 -13.8 0z"/>
<circle class="g" cx="882.7" cy="2214.2" r="4.1"/>
<circle class="g" cx="860.5" cy="2242.2" r="4.1"/>
<circle class="g" cx="872.5" cy="2251.4" r="4.1"/>
<circle class="g" cx="796.6" cy="2270.5" r="4.1"/>
<circle class="g" cx="833.9" cy="2202.9" r="4.1"/>
<circle class="y" cx="914.3" cy="2157.3" r="4.85"/>
<circle class="y" cx="891.6" cy="2186.7" r="4.85"/>
<circle class="y" cx="922.2" cy="2216.4" r="4.85"/>
<path class="s" d="M917.1 2154l10.8 0 0 10.8 -10.8 0z"/>
<path class="s" d="M875.1 2174.8l10.8 0 0 10.8 -10.8 0z"/>
<path class="s" d="M884.3 2174.8l10.8 0 0 10.8 -10.8 0z"/>
<path class="s" d="M885.1 2199.8l10.8 0 0 10.8 -10.8 0z"/>
<path class="s" d="M844.1 2215.8l10.8 0 0 10.8 -10.8 0z"/>
<path class="s" d="M879.2 2216.9l10.8 0 0 10.8 -10.8 0z"/>
<path class="s" d="M885.1 2226.4l10.8 0 0 10.8 -10.8 0z"/>
<path class="s" d="M824.8 2227.9l10.8 0 0 10.8 -10.8 0z"/>
<path class="s" d="M861 2231.8l10.8 0 0 10.8 -10.8 0z"/>
<path class="s" d="M922.1 2210.8l10.8 0 0 10.8 -10.8 0z"/>
<path class="p" d="M877.9 2144.8l3.1 0 0 2.85 2.85 0 0 3.1 -2.85 0 0 2.85 -3.1 0 0 -2.85 -2.85 0 0 -3.1 2.85 0z"/>
<path class="p" d="M882.8 2183.8l3.1 0 0 2.85 2.85 0 0 3.1 -2.85 0 0 2.85 -3.1 0 0 -2.85 -2.85 0 0 -3.1 2.85 0z"/>
<path class="u" d="M852.3 2238.6l6.5 12 -13 0z"/>
<path class="u" d="M836.3 2245.9l6.5 12 -13 0z"/>
<path class="u" d="M844.9 2247.8l6.5 12 -13 0z"/>
<path class="u" d="M832.4 2273.6l6.5 12 -13 0z"/>
<path class="b" d="M915.5 2208.9l6.9 -12 -13.8 0z"/>
<path class="b" d="M824.4 2239l6.9 -12 -13.8 0z"/>
<path class="b" d="M847.4 2255.6l6.9 -12 -13.8 0z"/>
<path class="b" d="M811.5 2275.8l6.9 -12 -13.8 0z"/>
<path class="b" d="M825.3 2272.8l6.9 -12 -13.8 0z"/>
<path class="b" d="M834.5 2266.6l6.9 -12 -13.8 0z"/>
<path class="t" d="M921.6 2155.8l6.9 12 -13.8 0z"/>
<path class="t" d="M911.4 2161.3l6.9 12 -13.8 0z"/>
<path class="t" d="M915.5 2203.1l6.9 12 -13.8 0z"/>
<path class="t" d="M833.5 2211.9l6.9 12 -13.8 0z"/>
<path class="t" d="M891.6 2217.2l6.9 12 -13.8 0z"/>
<path class="t" d="M836.9 2247.9l6.9 12 -13.8 0z"/>
<path class="t" d="M890.6 2247.3l6.9 12 -13.8 0z"/>
<path class="t" d="M904.4 2271.8l6.9 12 -13.8 0z"/>
<path class="t" d="M877.4 2285.9l6.9 12 -13.8 0z"/>
<path class="t" d="M908.5 2285.3l6.9 12 -13.8 0z"/>
<path class="d" d="M843.4 2164.1l5.2 5.2 -5.2 5.2 -5.2 -5.2z"/>
<path class="d" d="M894.4 2166.1l5.2 5.2 -5.2 5.2 -5.2 -5.2z"/>
<path class="d" d="M855.4 2178.1l5.2 5.2 -5.2 5.2 -5.2 -5.2z"/>
<path class="d" d="M837.6 2201.2l5.2 5.2 -5.2 5.2 -5.2 -5.2z"/>
<path class="d" d="M865.5 2199.6l5.2 5.2 -5.2 5.2 -5.2 -5.2z"/>
<path class="d" d="M871.7 2205.1l5.2 5.2 -5.2 5.2 -5.2 -5.2z"/>
<circle class="y" cx="827.5" cy="2200.2" r="4.85"/>
<circle class="y" cx="862.5" cy="2208.5" r="4.85"/>
<circle class="y" cx="866.5" cy="2217.9" r="4.85"/>
<circle class="y" cx="856.6" cy="2246.5" r="4.85"/>
<circle class="y" cx="828.3" cy="2257.2" r="4.85"/>
<circle class="y" cx="923.5" cy="2249.3" r="4.85"/>
<circle class="y" cx="905.4" cy="2259.2" r="4.85"/>
<circle class="y" cx="909.6" cy="2274.1" r="4.85"/>
<circle class="y" cx="943.6" cy="2152.4" r="4.85"/>
<circle class="y" cx="976.5" cy="2262.2" r="4.85"/>
<circle class="y" cx="1006" cy="2226.3" r="4.85"/>
<path class="d" d="M957.5 2140.3l5.2 5.2 -5.2 5.2 -5.2 -5.2z"/>
<path class="d" d="M1004.5 2168l5.2 5.2 -5.2 5.2 -5.2 -5.2z"/>
<path class="d" d="M997.6 2186.1l5.2 5.2 -5.2 5.2 -5.2 -5.2z"/>
<path class="d" d="M944.6 2197.1l5.2 5.2 -5.2 5.2 -5.2 -5.2z"/>
<path class="d" d="M1035.4 2228.2l5.2 5.2 -5.2 5.2 -5.2 -5.2z"/>
<path class="b" d="M999.5 2148.2l6.9 -12 -13.8 0z"/>
<path class="p" d="M1009 2140.9l3.1 0 0 2.85 2.85 0 0 3.1 -2.85 0 0 2.85 -3.1 0 0 -2.85 -2.85 0 0 -3.1 2.85 0z"/>
<path class="p" d="M1040 2174.9l3.1 0 0 2.85 2.85 0 0 3.1 -2.85 0 0 2.85 -3.1 0 0 -2.85 -2.85 0 0 -3.1 2.85 0z"/>
<path class="p" d="M1022.8 2185.7l3.1 0 0 2.85 2.85 0 0 3.1 -2.85 0 0 2.85 -3.1 0 0 -2.85 -2.85 0 0 -3.1 2.85 0z"/>
<path class="p" d="M1032.9 2185.8l3.1 0 0 2.85 2.85 0 0 3.1 -2.85 0 0 2.85 -3.1 0 0 -2.85 -2.85 0 0 -3.1 2.85 0z"/>
<path class="p" d="M1017.9 2190.9l3.1 0 0 2.85 2.85 0 0 3.1 -2.85 0 0 2.85 -3.1 0 0 -2.85 -2.85 0 0 -3.1 2.85 0z"/>
<path class="p" d="M1042 2205.8l3.1 0 0 2.85 2.85 0 0 3.1 -2.85 0 0 2.85 -3.1 0 0 -2.85 -2.85 0 0 -3.1 2.85 0z"/>
<path class="p" d="M1034.9 2211.8l3.1 0 0 2.85 2.85 0 0 3.1 -2.85 0 0 2.85 -3.1 0 0 -2.85 -2.85 0 0 -3.1 2.85 0z"/>
<path class="p" d="M1029.9 2219.7l3.1 0 0 2.85 2.85 0 0 3.1 -2.85 0 0 2.85 -3.1 0 0 -2.85 -2.85 0 0 -3.1 2.85 0z"/>
<path class="t" d="M1056.5 2160.7l6.9 12 -13.8 0z"/>
<path class="s" d="M959.1 2196.8l10.8 0 0 10.8 -10.8 0z"/>
<path class="s" d="M979.1 2214.9l10.8 0 0 10.8 -10.8 0z"/>
<path class="s" d="M1006.1 2208.8l10.8 0 0 10.8 -10.8 0z"/>
<path class="s" d="M1015.2 2206.9l10.8 0 0 10.8 -10.8 0z"/>
<path class="s" d="M995.2 2220.9l10.8 0 0 10.8 -10.8 0z"/>
<path class="s" d="M1018.1 2220.9l10.8 0 0 10.8 -10.8 0z"/>
<path class="s" d="M938.1 2253.8l10.8 0 0 10.8 -10.8 0z"/>
</g>
<polyline fill="none" stroke="#8c1414" stroke-width="1.1" points="920,2231.8 923,2231.9 926,2232 929,2232.1 932,2232.2 935,2232.2 938,2232.3 941,2232.4 944,2232.5 947,2232.6 950,2232.7 953,2232.9 956,2233.1 959,2233.2 961.9,2233.4 964.9,2233.7 967.9,2234.2 970.8,2234.8 973.8,2234.6 976.7,2233.9 979.6,2233.2 982.5,2232.5 985.4,2231.8 988.3,2231.1 991.3,2230.4 994.2,2229.6 996.6,2229"/>
<path fill="none" stroke="#9c2323" stroke-width="1" d="M920 2231.8l0.5 3.7M923.4 2231.9l0.5 3.7M926.9 2232l0.5 3.7M930.3 2232.1l0.5 3.7M933.8 2232.2l0.5 3.7M937.2 2232.3l0.5 3.7M940.7 2232.4l0.5 3.7M944.1 2232.5l0.5 3.7M947.6 2232.6l0.5 3.7M951 2232.8l0.5 3.7M954.5 2233l0.5 3.7M957.9 2233.2l0.5 3.7M961.3 2233.4l0.5 3.7M964.8 2233.7l0.5 3.7M968.2 2234.3l0.5 3.7M971.6 2234.9l0.5 3.7M974.9 2234.3l0.5 3.7M978.3 2233.5l0.5 3.7M981.7 2232.8l0.5 3.7M985 2231.9l0.5 3.7M988.4 2231.1l0.5 3.7M991.7 2230.2l0.5 3.7M995 2229.4l0.5 3.7"/>
<polyline fill="none" stroke="#0b66d4" stroke-width="2.9" stroke-linecap="round" stroke-dasharray="0.1 4.35" points="840.6,2273.1 969.4,2272.9 983.5,2272.2 997.1,2270.2"/>
<path d="M757.6 1981.7V2358.6M757 2344.1H1111.2M757.6 2321.5h7.3M757.6 2298.9h14.6M757.6 2276.3h7.3M757.6 2253.7h14.6M757.6 2231h7.3M757.6 2208.4h14.6M757.6 2185.8h7.3M757.6 2163.2h14.6M757.6 2140.6h7.3M757.6 2118h14.6M757.6 2095.4h7.3M757.6 2072.8h14.6M757.6 2050.1h7.3M757.6 2027.5h14.6M757.6 2004.9h7.3M757.6 1982.3h14.6M828.2 2344.1v14.5M898.8 2344.1v14.5M969.4 2344.1v14.5M1040 2344.1v14.5M1110.6 2344.1v14.5" fill="none" stroke="#b6b6b6" stroke-width="1.2"/>
<g>
<text x="692.5" y="2353.3" font-size="26.0" textLength="49.1" lengthAdjust="spacingAndGlyphs">0.04</text>
<text x="692.8" y="2308.1" font-size="26.0" textLength="49.1" lengthAdjust="spacingAndGlyphs">0.08</text>
<text x="693" y="2262.8" font-size="26.0" textLength="49.1" lengthAdjust="spacingAndGlyphs">0.12</text>
<text x="692.8" y="2217.6" font-size="26.0" textLength="49.1" lengthAdjust="spacingAndGlyphs">0.16</text>
<text x="707" y="2172.4" font-size="26.0" textLength="35.1" lengthAdjust="spacingAndGlyphs">0.2</text>
<text x="692.5" y="2127.2" font-size="26.0" textLength="49.1" lengthAdjust="spacingAndGlyphs">0.24</text>
<text x="692.8" y="2081.9" font-size="26.0" textLength="49.1" lengthAdjust="spacingAndGlyphs">0.28</text>
<text x="693" y="2036.7" font-size="26.0" textLength="49.1" lengthAdjust="spacingAndGlyphs">0.32</text>
<text x="692.8" y="1991.5" font-size="26.0" textLength="49.1" lengthAdjust="spacingAndGlyphs">0.36</text>
<text x="745.4" y="2398.7" font-size="26.0" textLength="22.4" lengthAdjust="spacingAndGlyphs">-6</text>
<text x="816" y="2398.7" font-size="26.0" textLength="22.4" lengthAdjust="spacingAndGlyphs">-8</text>
<text x="879.6" y="2398.7" font-size="26.0" textLength="36.5" lengthAdjust="spacingAndGlyphs">-10</text>
<text x="950.3" y="2398.7" font-size="26.0" textLength="36.5" lengthAdjust="spacingAndGlyphs">-12</text>
<text x="1020.7" y="2398.7" font-size="26.0" textLength="36.5" lengthAdjust="spacingAndGlyphs">-14</text>
<text x="1091.4" y="2398.7" font-size="26.0" textLength="36.5" lengthAdjust="spacingAndGlyphs">-16</text>
</g>
<text transform="translate(678 2162.6) rotate(-90)" x="-98.3" font-size="26.0" textLength="196.2" lengthAdjust="spacingAndGlyphs">P/Ca (mmol/mol)</text>
<text><tspan x="761.2" y="2435.1" font-size="26.2" textLength="13.9" lengthAdjust="spacingAndGlyphs" font-family='"Liberation Serif", "DejaVu Serif", serif'>δ</tspan><tspan x="775.2" y="2426.6" font-size="15.7" textLength="16.4" lengthAdjust="spacingAndGlyphs" class="sm">13</tspan><tspan x="792.7" y="2435.4" font-size="26.0" textLength="14.3" lengthAdjust="spacingAndGlyphs">C</tspan><tspan x="806.6" y="2442" font-size="15.3" textLength="22.3" lengthAdjust="spacingAndGlyphs" class="sm">init</tspan><tspan x="827.8" y="2435.4" font-size="26.0" textLength="54.2" lengthAdjust="spacingAndGlyphs"> (‰)</tspan><tspan x="880.8" y="2435.4" font-size="26.0" textLength="39" lengthAdjust="spacingAndGlyphs"> --&gt;</tspan><tspan x="919.2" y="2435.4" font-size="26.0" textLength="94.9" lengthAdjust="spacingAndGlyphs"> warmer</tspan></text>
<text><tspan x="887.8" y="2473.8" font-size="26.0" textLength="32" lengthAdjust="spacingAndGlyphs">--&gt;</tspan><tspan x="917.6" y="2473.8" font-size="26.0" textLength="179.4" lengthAdjust="spacingAndGlyphs"> higher soil pCO</tspan><tspan x="1096.7" y="2480.2" font-size="15.5" textLength="9.4" lengthAdjust="spacingAndGlyphs" class="sm">2</tspan></text>
<text x="777.3" y="2032.6" font-size="21.0" textLength="33.8" lengthAdjust="spacingAndGlyphs">NEI</text>
</g>
<text x="21.1" y="39.8" font-size="25" textLength="22.8" lengthAdjust="spacingAndGlyphs">a)</text>
<text x="660.3" y="39" font-size="25" textLength="24" lengthAdjust="spacingAndGlyphs">b)</text>
<text><tspan x="131.7" y="27.5" font-size="21.4" textLength="14.9" lengthAdjust="spacingAndGlyphs">D</tspan><tspan x="146.5" y="33.6" font-size="12.6" textLength="23.8" lengthAdjust="spacingAndGlyphs" class="sm">max</tspan><tspan x="171.6" y="27.5" font-size="21.4" textLength="54.2" lengthAdjust="spacingAndGlyphs">=1.46</tspan></text>
<text x="758.6" y="32.3" font-size="21.0" textLength="56.5" lengthAdjust="spacingAndGlyphs">D=0.5</text>
<text x="366.7" y="219.1" font-size="21.5" textLength="85.6" lengthAdjust="spacingAndGlyphs">fCa=0.95</text>
<text x="411.7" y="289.6" font-size="21.5" textLength="85.4" lengthAdjust="spacingAndGlyphs">fCa=0.53</text>
<text x="1085.7" y="307.5" font-size="21.5" textLength="85.4" lengthAdjust="spacingAndGlyphs">fCa=0.53</text>
<text x="1099.7" y="352.5" font-size="21.5" textLength="85.7" lengthAdjust="spacingAndGlyphs">fCa=0.95</text>
<g class="lg">
<rect x="898.2" y="13.6" width="310.5" height="204.6" fill="#fff" stroke="#c6c6c6" stroke-width="1.2"/>
<text x="1040" y="44.8" font-size="18.3" textLength="26.1" lengthAdjust="spacingAndGlyphs">fCa</text>
<path class="p" d="M914.1 66.6l2.48 0 0 2.28 2.28 0 0 2.48 -2.28 0 0 2.28 -2.48 0 0 -2.28 -2.28 0 0 -2.48 2.28 0z"/>
<text x="931.3" y="76.1" font-size="18.3" textLength="113.7" lengthAdjust="spacingAndGlyphs">0.41 to &lt;0.47</text>
<path class="d" d="M915.3 96.9l4.16 4.16 -4.16 4.16 -4.16 -4.16z"/>
<text x="931.3" y="107.1" font-size="18.3" textLength="113.3" lengthAdjust="spacingAndGlyphs">0.47 to &lt;0.54</text>
<path class="s" d="M911 127.8l8.64 0 0 8.64 -8.64 0z"/>
<text x="931.3" y="138.1" font-size="18.3" textLength="113.6" lengthAdjust="spacingAndGlyphs">0.54 to &lt;0.61</text>
<circle class="y" cx="915.3" cy="163.1" r="3.88"/>
<text x="931.3" y="169.1" font-size="18.3" textLength="113.7" lengthAdjust="spacingAndGlyphs">0.61 to &lt;0.67</text>
<path class="t" d="M915.3 189.3l5.52 9.6 -11.04 0z"/>
<text x="931.3" y="200.1" font-size="18.3" textLength="113.3" lengthAdjust="spacingAndGlyphs">0.67 to &lt;0.74</text>
<circle class="g" cx="1067.4" cy="70.1" r="3.28"/>
<text x="1082.9" y="76.1" font-size="18.3" textLength="113.6" lengthAdjust="spacingAndGlyphs">0.74 to &lt;0.81</text>
<path class="b" d="M1067.4 105.9l5.52 -9.6 -11.04 0z"/>
<text x="1082.9" y="107.1" font-size="18.3" textLength="113.7" lengthAdjust="spacingAndGlyphs">0.81 to &lt;0.87</text>
<path class="u" d="M1067.4 127.2l5.2 9.6 -10.4 0z"/>
<text x="1082.9" y="138.1" font-size="18.3" textLength="113.3" lengthAdjust="spacingAndGlyphs">0.87 to &lt;0.94</text>
<path class="x" d="M1067.4 157.3l1.68 2.88 3.28 0 -1.6 2.88 1.6 2.88 -3.28 0 -1.68 2.88 -1.68 -2.88 -3.28 0 1.6 -2.88 -1.6 -2.88 3.28 0z"/>
<text x="1082.9" y="169.1" font-size="18.3" textLength="86.5" lengthAdjust="spacingAndGlyphs">0.94 to &lt;1</text>
</g>
</svg></body></html>
